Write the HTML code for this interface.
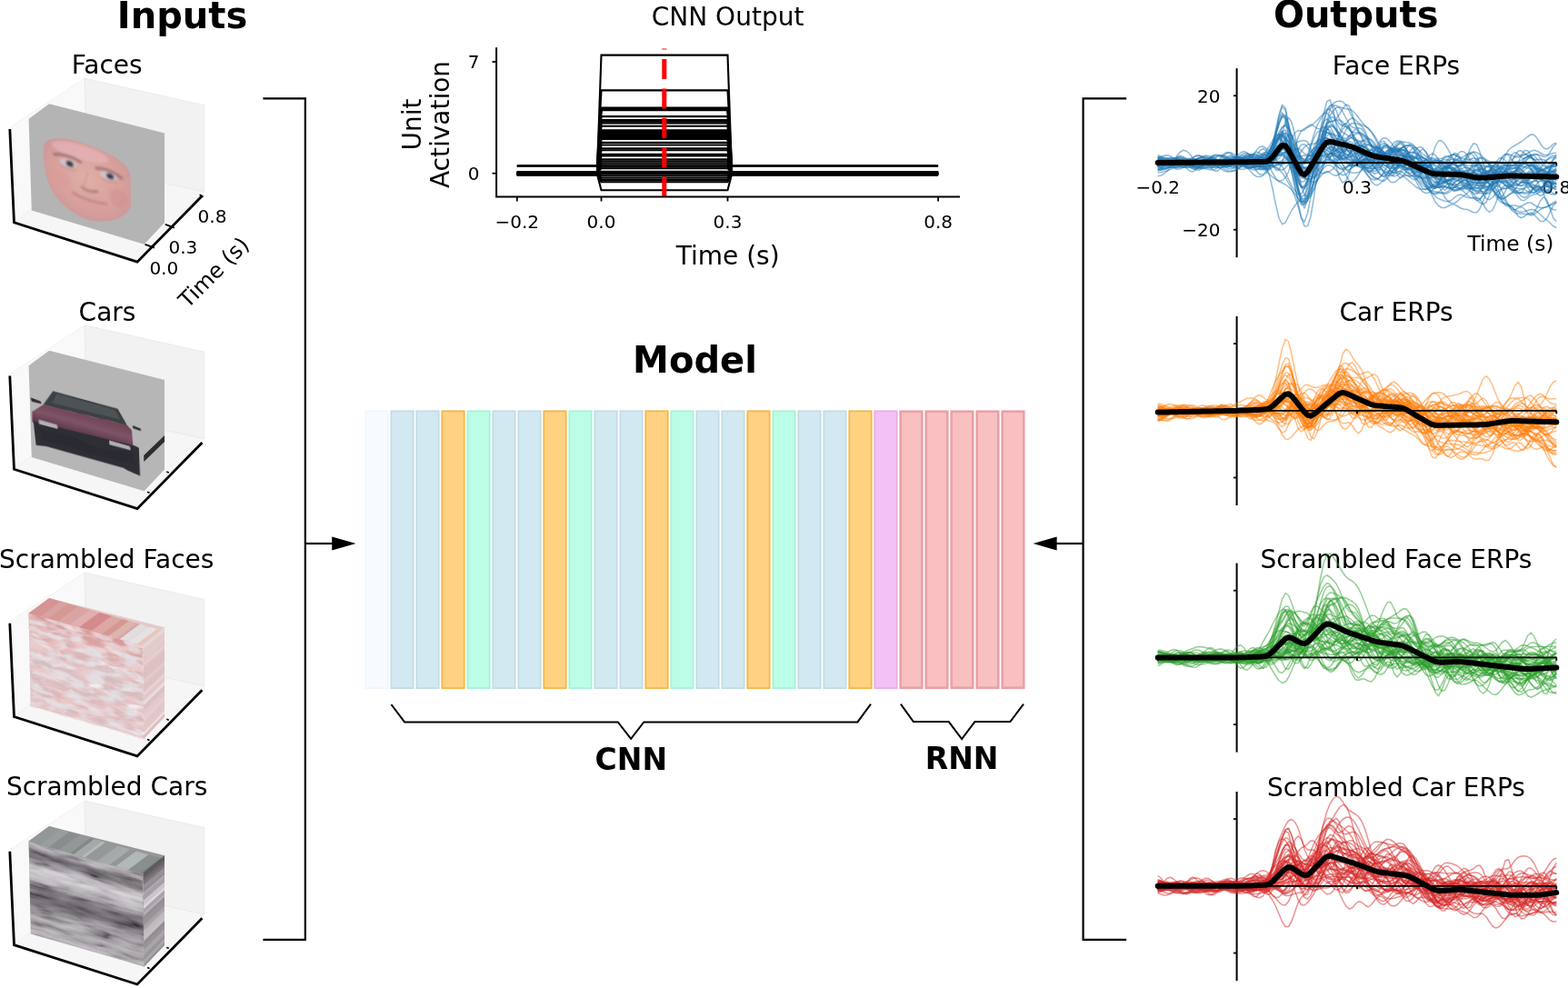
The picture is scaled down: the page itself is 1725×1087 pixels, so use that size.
<!DOCTYPE html>
<html><head><meta charset="utf-8"><title>Figure</title><style>html,body{margin:0;padding:0;background:#fff;}svg{display:block;}</style></head><body>
<svg width="1725" height="1087" viewBox="0 0 1725 1087" font-family='"DejaVu Sans", "Liberation Sans", sans-serif'>
<defs>
<filter id="hblur" x="-2%" y="-2%" width="104%" height="104%"><feGaussianBlur stdDeviation="1.6 0.5"/></filter>
<radialGradient id="skin" cx="0.5" cy="0.45" r="0.55"><stop offset="0" stop-color="#e0afa6"/><stop offset="0.7" stop-color="#d8a09b"/><stop offset="1" stop-color="#cd9a9a"/></radialGradient>
<filter id="sfTex" x="0" y="0" width="100" height="100" filterUnits="userSpaceOnUse" primitiveUnits="userSpaceOnUse"><feTurbulence type="fractalNoise" baseFrequency="0.06 0.14" numOctaves="3" seed="4"/><feColorMatrix type="matrix" values="0 0 0 0 0.94  0 0 0 0 0.9  0 0 0 0 0.92  -3.0 0 0 0 1.5"/></filter>
<filter id="sfTex2" x="0" y="0" width="100" height="100" filterUnits="userSpaceOnUse" primitiveUnits="userSpaceOnUse"><feTurbulence type="fractalNoise" baseFrequency="0.06 0.15" numOctaves="3" seed="9"/><feColorMatrix type="matrix" values="0 0 0 0 0.77  0 0 0 0 0.73  0 0 0 0 0.76  3.2 0 0 0 -1.35"/></filter>
<filter id="sfTex3" x="0" y="0" width="100" height="100" filterUnits="userSpaceOnUse" primitiveUnits="userSpaceOnUse"><feTurbulence type="fractalNoise" baseFrequency="0.05 0.13" numOctaves="3" seed="21"/><feColorMatrix type="matrix" values="0 0 0 0 0.84  0 0 0 0 0.58  0 0 0 0 0.59  3.2 0 0 0 -1.35"/></filter>
<linearGradient id="sfBand" x1="0" y1="0" x2="0" y2="1"><stop offset="0" stop-color="#d69898"/><stop offset="0.15" stop-color="#dca6a6"/><stop offset="0.3" stop-color="#dab6b6"/><stop offset="0.5" stop-color="#d6bec0"/><stop offset="0.7" stop-color="#d8babd"/><stop offset="0.85" stop-color="#dcb6b8"/><stop offset="1" stop-color="#dabec0"/></linearGradient>
<filter id="scTex" x="0" y="0" width="100" height="100" filterUnits="userSpaceOnUse" primitiveUnits="userSpaceOnUse"><feTurbulence type="fractalNoise" baseFrequency="0.04 0.2" numOctaves="3" seed="12"/><feColorMatrix type="matrix" values="1.5 0 0 0 -0.27  1.5 0 0 0 -0.27  1.5 0 0 0 -0.27  0 0 0 0 0.45"/></filter>
<linearGradient id="scBand" x1="0" y1="0" x2="0" y2="1"><stop offset="0" stop-color="#948f95"/><stop offset="0.06" stop-color="#8c878d"/><stop offset="0.1" stop-color="#625d63"/><stop offset="0.16" stop-color="#6a656b"/><stop offset="0.21" stop-color="#969197"/><stop offset="0.27" stop-color="#c2bdc3"/><stop offset="0.33" stop-color="#bab5bb"/><stop offset="0.4" stop-color="#a29da3"/><stop offset="0.47" stop-color="#6a656b"/><stop offset="0.6" stop-color="#585359"/><stop offset="0.68" stop-color="#7a757b"/><stop offset="0.78" stop-color="#908b91"/><stop offset="0.9" stop-color="#9a959b"/><stop offset="1" stop-color="#a29da3"/></linearGradient>
<filter id="soft2" x="-10%" y="-10%" width="120%" height="120%"><feGaussianBlur stdDeviation="0.4"/></filter>
<filter id="soft" x="-10%" y="-10%" width="120%" height="120%"><feGaussianBlur stdDeviation="0.8"/></filter>
</defs>
<rect width="1725" height="1087" fill="#fff"/>
<text x="200.5" y="30.6" font-size="40" text-anchor="middle" font-weight="bold" >Inputs</text>
<text x="1491.7" y="30.4" font-size="40" text-anchor="middle" font-weight="bold" >Outputs</text>
<text x="117.7" y="81.3" font-size="28" text-anchor="middle" >Faces</text>
<polygon points="15.5,244.8 95,183 93.2,86.3 10.8,140" fill="#f9f9f9" stroke="#f3f3f3" stroke-width="1"/>
<polygon points="15.5,244.8 151,288.2 224.7,211 95,183" fill="#f6f6f6" stroke="#f0f0f0" stroke-width="1"/>
<polygon points="95,183 224.7,211 224.7,115.8 93.2,86.3" fill="#f2f2f2" stroke="#ebebeb" stroke-width="1"/>
<text x="118" y="352.6" font-size="28" text-anchor="middle" >Cars</text>
<polygon points="15.5,516.3 95,454.5 93.2,357.8 10.8,411.5" fill="#f9f9f9" stroke="#f3f3f3" stroke-width="1"/>
<polygon points="15.5,516.3 151,559.7 224.7,482.5 95,454.5" fill="#f6f6f6" stroke="#f0f0f0" stroke-width="1"/>
<polygon points="95,454.5 224.7,482.5 224.7,387.3 93.2,357.8" fill="#f2f2f2" stroke="#ebebeb" stroke-width="1"/>
<text x="117.2" y="624.8" font-size="28" text-anchor="middle" >Scrambled Faces</text>
<polygon points="15.5,788.5 95,726.7 93.2,630 10.8,683.7" fill="#f9f9f9" stroke="#f3f3f3" stroke-width="1"/>
<polygon points="15.5,788.5 151,831.9 224.7,754.7 95,726.7" fill="#f6f6f6" stroke="#f0f0f0" stroke-width="1"/>
<polygon points="95,726.7 224.7,754.7 224.7,659.5 93.2,630" fill="#f2f2f2" stroke="#ebebeb" stroke-width="1"/>
<text x="117.6" y="874.8" font-size="28" text-anchor="middle" >Scrambled Cars</text>
<polygon points="15.5,1039.6 95,977.8 93.2,881.1 10.8,934.8" fill="#f9f9f9" stroke="#f3f3f3" stroke-width="1"/>
<polygon points="15.5,1039.6 151,1083 224.7,1005.8 95,977.8" fill="#f6f6f6" stroke="#f0f0f0" stroke-width="1"/>
<polygon points="95,977.8 224.7,1005.8 224.7,910.6 93.2,881.1" fill="#f2f2f2" stroke="#ebebeb" stroke-width="1"/>
<polygon points="31.6,130.8 54.1,114.2 181,146.5 181,245 158.6,268.7 34.8,231.5" fill="#b4b4b4"/>
<g transform="matrix(1.25 0.358 0.022000000000000002 1.02 31.6 130.8)">
<path d="M13,22 C20,10 38,8 55,10 C74,12 88,18 89,30 L89,60 C88,75 70,90 51,91 C36,90 23,81 17,66 C13,55 11,36 13,22 Z" fill="url(#skin)"/>
<g filter="url(#soft)">
<ellipse cx="45" cy="20" rx="25" ry="8" fill="#e6b4b8" opacity="0.7"/>
<ellipse cx="28" cy="55" rx="9" ry="10" fill="#d99a9a" opacity="0.5"/>
<ellipse cx="78" cy="58" rx="8" ry="10" fill="#d0928f" opacity="0.5"/>
<path d="M21,31 Q33,25 46,31" stroke="#946a6c" stroke-width="3.5" fill="none" opacity="0.7"/>
<path d="M58,33 Q70,28 82,36" stroke="#946a6c" stroke-width="3.5" fill="none" opacity="0.7"/>
<ellipse cx="34" cy="36" rx="7.5" ry="4" fill="#cfc3cb"/><ellipse cx="35.5" cy="36" rx="3.4" ry="3.2" fill="#384050"/>
<ellipse cx="69.5" cy="37" rx="7.5" ry="4" fill="#cfc3cb"/><ellipse cx="71" cy="37" rx="3.4" ry="3.2" fill="#384050"/>
<path d="M28,41 Q34,43 41,41" stroke="#b98a90" stroke-width="1.5" fill="none" opacity="0.6"/>
<path d="M63,42 Q70,44 77,42" stroke="#b98a90" stroke-width="1.5" fill="none" opacity="0.6"/>
<path d="M51,40 Q49,50 47,56" stroke="#c99494" stroke-width="2" fill="none" opacity="0.5"/>
<path d="M45,57 Q52,62 60,57" stroke="#a87474" stroke-width="3" fill="none" opacity="0.7"/>
<path d="M37,66 Q50,72 68,68" stroke="#b27c80" stroke-width="3" fill="none" opacity="0.65"/>
<path d="M44,72 Q54,76 64,72" stroke="#d89aa0" stroke-width="3" fill="none" opacity="0.6"/>
</g>
</g>
<polyline points="10.8,142 15.5,244.8 151,288.2 222.4,215.5" fill="none" stroke="#000" stroke-width="2.8" stroke-linejoin="miter"/>
<line x1="159.5" y1="268.8" x2="170.0" y2="272.6" stroke="#000" stroke-width="1.8"/>
<line x1="181.8" y1="246.8" x2="191.8" y2="250.6" stroke="#000" stroke-width="1.8"/>
<line x1="219.6" y1="214.2" x2="223.6" y2="216.6" stroke="#000" stroke-width="1.8"/>
<text x="180.3" y="301.7" font-size="20" text-anchor="middle" >0.0</text>
<text x="201.4" y="279.2" font-size="20" text-anchor="middle" >0.3</text>
<text x="233.5" y="244.5" font-size="20" text-anchor="middle" >0.8</text>
<text x="0" y="0" font-size="24" text-anchor="middle" transform="translate(241 305.5) rotate(-45)">Time (s)</text>
<polygon points="31.6,402.3 54.1,385.7 181,418 181,516.5 158.6,540.2 34.8,503" fill="#b6b6b6"/>
<polygon points="158.2,500.9 181,479.1 181,486 158.3,508.1" fill="#2e2c30"/>
<g transform="matrix(1.25 0.358 0.022000000000000002 1.02 31.6 402.3)">
<defs><linearGradient id="hood" x1="0" y1="0" x2="0" y2="1"><stop offset="0" stop-color="#6e4254"/><stop offset="0.5" stop-color="#7e5466"/><stop offset="1" stop-color="#563444"/></linearGradient></defs>
<g filter="url(#soft2)">
<polygon points="2,49 12,38 86,34 90,38 91,56 2,60" fill="url(#hood)"/>
<polygon points="21,20 78,19 86,34 12,38" fill="#3c4044"/>
<polygon points="24,22 75,21 80,30 20,33" fill="#52575a" opacity="0.8"/>
<polygon points="3,59 92,54 96,55 96.5,85 86,83 82,81.5 14,82 5,84" fill="#2f2e34"/>
<polygon points="8,65 40,64 60,68 90,62 92,74 60,76 10,76" fill="#2c2b30" opacity="0.8"/>
<polygon points="1,34 10,35 10.5,37.5 2,38" fill="#2a2a2e"/><polygon points="91,32.5 98,33.5 98,36 91,35.5" fill="#2a2a2e"/>
<polygon points="8,55.5 24,55.5 24.5,59.5 8,60" fill="#b3b0b6"/><polygon points="70,56 88,56 88.5,60 70,60.5" fill="#b3b0b6"/>
</g>
</g>
<polyline points="10.8,413.5 15.5,516.3 151,559.7 222.4,487" fill="none" stroke="#000" stroke-width="2.8" stroke-linejoin="miter"/>
<line x1="162.0" y1="541.3" x2="164.6" y2="542.1999999999999" stroke="#000" stroke-width="1.6"/>
<line x1="183.2" y1="519.1" x2="185.79999999999998" y2="520.0" stroke="#000" stroke-width="1.6"/>
<polygon points="31.6,674.5 54.1,657.9 181,690.2 181,788.7 158.6,812.4 34.8,775.2" fill="#e6c9c9"/>
<g transform="matrix(1.25 0.358 0.022000000000000002 1.02 31.6 674.5)">
<rect x="0" y="0" width="100" height="100" fill="url(#sfBand)"/>
<rect x="0" y="0" width="100" height="100" filter="url(#sfTex)"/>
</g>
<g transform="matrix(1.25 0.358 0.022000000000000002 1.02 31.6 674.5)"><rect x="0" y="0" width="100" height="100" filter="url(#sfTex3)"/><rect x="0" y="0" width="100" height="100" filter="url(#sfTex2)"/></g>
<g transform="matrix(1.25 0.358 0.225 -0.1660000000000001 31.6 674.5)">
<rect x="0" y="0" width="10.7" height="100" fill="#d69494"/>
<rect x="10.2" y="0" width="7" height="100" fill="#d8a1a2"/>
<rect x="16.7" y="0" width="9.4" height="100" fill="#d49992"/>
<rect x="25.6" y="0" width="11.1" height="100" fill="#daa4a3"/>
<rect x="36.2" y="0" width="8.5" height="100" fill="#e0afb0"/>
<rect x="44.2" y="0" width="11.3" height="100" fill="#d58a8b"/>
<rect x="55" y="0" width="9.9" height="100" fill="#dda7a3"/>
<rect x="64.4" y="0" width="6.4" height="100" fill="#d49791"/>
<rect x="70.3" y="0" width="7.5" height="100" fill="#dbb4ae"/>
<rect x="77.3" y="0" width="8.1" height="100" fill="#d8a7a5"/>
<rect x="84.9" y="0" width="4.3" height="100" fill="#da9192"/>
<rect x="88.7" y="0" width="11.3" height="100" fill="#e6c6bf"/>
<rect x="80" y="0" width="15" height="100" fill="#e4e6ea" opacity="0.85"/>
</g>
<polygon points="157.6,709 181,690.2 181,695.3 157.7,714.3" fill="#e8d5d7"/>
<polygon points="157.6,713.9 181,694.9 181,698.1 157.7,717.3" fill="#e3ccce"/>
<polygon points="157.7,716.9 181,697.7 181,700.5 157.7,719.8" fill="#e2c9cb"/>
<polygon points="157.7,719.4 181,700.1 181,705 157.7,724.5" fill="#e3ccce"/>
<polygon points="157.7,724.1 181,704.6 181,710.1 157.8,729.9" fill="#e2c9cb"/>
<polygon points="157.8,729.5 181,709.7 181,713.6 157.8,733.6" fill="#e5cfd1"/>
<polygon points="157.8,733.1 181,713.2 181,717.1 157.9,737.2" fill="#dfc4c6"/>
<polygon points="157.9,736.8 181,716.7 181,721.4 157.9,741.8" fill="#ddc0c2"/>
<polygon points="157.9,741.4 181,721.1 181,727.3 158,748" fill="#ddc0c2"/>
<polygon points="158,747.6 181,726.9 181,732.5 158,753.4" fill="#e2c9cb"/>
<polygon points="158,753 181,732.1 181,737.3 158.1,758.4" fill="#dec1c3"/>
<polygon points="158.1,758 181,736.9 181,740.8 158.1,762.1" fill="#dec2c4"/>
<polygon points="158.1,761.7 181,740.4 181,744.7 158.2,766.2" fill="#e7d3d5"/>
<polygon points="158.1,765.8 181,744.3 181,747.9 158.2,769.6" fill="#e2c9cb"/>
<polygon points="158.2,769.1 181,747.5 181,749.9 158.2,771.6" fill="#e1c8ca"/>
<polygon points="158.2,771.2 181,749.5 181,754.3 158.3,776.3" fill="#eadadc"/>
<polygon points="158.2,775.9 181,753.9 181,759.9 158.3,782.2" fill="#ddc0c2"/>
<polygon points="158.3,781.8 181,759.5 181,765.8 158.4,788.4" fill="#e2cacc"/>
<polygon points="158.4,787.9 181,765.4 181,771 158.4,793.8" fill="#e5cfd1"/>
<polygon points="158.4,793.4 181,770.6 181,774.6 158.5,797.6" fill="#e1c8ca"/>
<polygon points="158.5,797.2 181,774.2 181,779.9 158.5,803.2" fill="#e1c7c9"/>
<polygon points="158.5,802.8 181,779.5 181,782.4 158.5,805.8" fill="#e2c9cb"/>
<polygon points="158.5,805.4 181,782.1 181,785.4 158.6,809" fill="#ede0e2"/>
<polygon points="158.6,808.6 181,785 181,788.7 158.6,812.4" fill="#dcbdbf"/>
<polyline points="10.8,685.7 15.5,788.5 151,831.9 222.4,759.2" fill="none" stroke="#000" stroke-width="2.8" stroke-linejoin="miter"/>
<line x1="162.0" y1="813.5" x2="164.6" y2="814.4" stroke="#000" stroke-width="1.6"/>
<line x1="183.2" y1="791.3000000000001" x2="185.79999999999998" y2="792.2" stroke="#000" stroke-width="1.6"/>
<polygon points="31.6,925.6 54.1,909 181,941.3 181,1039.8 158.6,1063.5 34.8,1026.3" fill="#9a9698"/>
<g transform="matrix(1.25 0.358 0.022000000000000002 1.02 31.6 925.5999999999999)">
<rect x="0" y="0" width="100" height="100" fill="url(#scBand)"/>
<rect x="0" y="0" width="100" height="100" filter="url(#scTex)" style="mix-blend-mode:overlay"/>
</g>
<g transform="matrix(1.25 0.358 0.225 -0.1660000000000001 31.6 925.5999999999999)">
<rect x="0" y="0" width="10.5" height="100" fill="#929797"/>
<rect x="10" y="0" width="8.3" height="100" fill="#989d9d"/>
<rect x="17.8" y="0" width="9.2" height="100" fill="#888d8d"/>
<rect x="26.5" y="0" width="10.4" height="100" fill="#929797"/>
<rect x="36.4" y="0" width="3.7" height="100" fill="#828787"/>
<rect x="39.6" y="0" width="7.4" height="100" fill="#a4a9a9"/>
<rect x="46.5" y="0" width="3.5" height="100" fill="#b4b9b9"/>
<rect x="49.5" y="0" width="11.4" height="100" fill="#939898"/>
<rect x="60.4" y="0" width="6" height="100" fill="#a3a8a8"/>
<rect x="65.9" y="0" width="5.9" height="100" fill="#a6abab"/>
<rect x="71.3" y="0" width="5.7" height="100" fill="#919696"/>
<rect x="76.6" y="0" width="11.4" height="100" fill="#b2b7b7"/>
<rect x="87.5" y="0" width="10.6" height="100" fill="#898e8e"/>
<rect x="97.5" y="0" width="2.5" height="100" fill="#818686"/>
</g>
<polygon points="157.6,960.1 181,941.3 181,947.3 157.7,966.4" fill="#5f5a5f"/>
<polygon points="157.7,966 181,946.9 181,950.7 157.7,970" fill="#6c676c"/>
<polygon points="157.7,969.6 181,950.3 181,954.6 157.7,974" fill="#7a757a"/>
<polygon points="157.7,973.6 181,954.2 181,957.3 157.8,976.9" fill="#938e93"/>
<polygon points="157.8,976.5 181,956.9 181,959.8 157.8,979.5" fill="#989398"/>
<polygon points="157.8,979.1 181,959.4 181,962.3 157.8,982.1" fill="#908b90"/>
<polygon points="157.8,981.7 181,961.9 181,965.7 157.8,985.8" fill="#ada8ad"/>
<polygon points="157.8,985.3 181,965.3 181,970.8 157.9,991.1" fill="#a5a0a5"/>
<polygon points="157.9,990.6 181,970.4 181,976.4 158,997" fill="#cac5ca"/>
<polygon points="158,996.6 181,976 181,979.7 158,1000.4" fill="#ddd8dd"/>
<polygon points="158,1000 181,979.3 181,984 158,1004.9" fill="#a8a3a8"/>
<polygon points="158,1004.5 181,983.6 181,987 158.1,1008.1" fill="#b6b1b6"/>
<polygon points="158.1,1007.7 181,986.6 181,992 158.1,1013.3" fill="#959095"/>
<polygon points="158.1,1012.9 181,991.6 181,997.1 158.2,1018.7" fill="#999499"/>
<polygon points="158.2,1018.3 181,996.7 181,1001.9 158.2,1023.8" fill="#a9a4a9"/>
<polygon points="158.2,1023.3 181,1001.5 181,1003.9 158.2,1025.9" fill="#bcb7bc"/>
<polygon points="158.2,1025.4 181,1003.5 181,1009 158.3,1031.2" fill="#c1bcc1"/>
<polygon points="158.3,1030.7 181,1008.6 181,1013.4 158.3,1035.8" fill="#c5c0c5"/>
<polygon points="158.3,1035.4 181,1013 181,1017.9 158.4,1040.5" fill="#938e93"/>
<polygon points="158.4,1040.1 181,1017.5 181,1022.7 158.4,1045.5" fill="#999499"/>
<polygon points="158.4,1045.1 181,1022.3 181,1026.1 158.5,1049.1" fill="#aaa5aa"/>
<polygon points="158.5,1048.7 181,1025.7 181,1028.6 158.5,1051.7" fill="#aaa5aa"/>
<polygon points="158.5,1051.3 181,1028.2 181,1032.9 158.5,1056.3" fill="#999499"/>
<polygon points="158.5,1055.9 181,1032.5 181,1037.3 158.6,1060.9" fill="#aaa5aa"/>
<polygon points="158.6,1060.5 181,1036.9 181,1039.8 158.6,1063.5" fill="#959095"/>
<polyline points="10.8,936.8 15.5,1039.6 151,1083 222.4,1010.3" fill="none" stroke="#000" stroke-width="2.8" stroke-linejoin="miter"/>
<line x1="162.0" y1="1064.6" x2="164.6" y2="1065.5" stroke="#000" stroke-width="1.6"/>
<line x1="183.2" y1="1042.3999999999999" x2="185.79999999999998" y2="1043.3" stroke="#000" stroke-width="1.6"/>
<polyline points="289.4,108.4 335.8,108.4 335.8,1033.8 289.4,1033.8" fill="none" stroke="#000" stroke-width="2.2"/>
<line x1="335.8" y1="598" x2="366" y2="598" stroke="#000" stroke-width="2.2"/>
<polygon points="365.2,590.5 391.5,598 365.2,605.5" fill="#000"/>
<polyline points="1239.2,108.4 1191.6,108.4 1191.6,1033.8 1239.2,1033.8" fill="none" stroke="#000" stroke-width="2.2"/>
<line x1="1191.6" y1="598" x2="1162" y2="598" stroke="#000" stroke-width="2.2"/>
<polygon points="1162.6,590.5 1136.6,598 1162.6,605.5" fill="#000"/>
<text x="764.5" y="410.3" font-size="40" text-anchor="middle" font-weight="bold" >Model</text>
<rect x="402.30" y="452.30" width="24.40" height="304.80" fill="#f7fafe" stroke="#f1f6fd" stroke-width="1.8"/>
<rect x="430.30" y="452.30" width="24.40" height="304.80" fill="#d3e9f1" stroke="#c3dce5" stroke-width="1.8"/>
<rect x="458.30" y="452.30" width="24.40" height="304.80" fill="#d3e9f1" stroke="#c3dce5" stroke-width="1.8"/>
<rect x="486.30" y="452.30" width="24.40" height="304.80" fill="#fed281" stroke="#f5b74a" stroke-width="1.8"/>
<rect x="514.30" y="452.30" width="24.40" height="304.80" fill="#bbfde6" stroke="#a9f2d8" stroke-width="1.8"/>
<rect x="542.30" y="452.30" width="24.40" height="304.80" fill="#d3e9f1" stroke="#c3dce5" stroke-width="1.8"/>
<rect x="570.30" y="452.30" width="24.40" height="304.80" fill="#d3e9f1" stroke="#c3dce5" stroke-width="1.8"/>
<rect x="598.30" y="452.30" width="24.40" height="304.80" fill="#fed281" stroke="#f5b74a" stroke-width="1.8"/>
<rect x="626.30" y="452.30" width="24.40" height="304.80" fill="#bbfde6" stroke="#a9f2d8" stroke-width="1.8"/>
<rect x="654.30" y="452.30" width="24.40" height="304.80" fill="#d3e9f1" stroke="#c3dce5" stroke-width="1.8"/>
<rect x="682.30" y="452.30" width="24.40" height="304.80" fill="#d3e9f1" stroke="#c3dce5" stroke-width="1.8"/>
<rect x="710.30" y="452.30" width="24.40" height="304.80" fill="#fed281" stroke="#f5b74a" stroke-width="1.8"/>
<rect x="738.30" y="452.30" width="24.40" height="304.80" fill="#bbfde6" stroke="#a9f2d8" stroke-width="1.8"/>
<rect x="766.30" y="452.30" width="24.40" height="304.80" fill="#d3e9f1" stroke="#c3dce5" stroke-width="1.8"/>
<rect x="794.30" y="452.30" width="24.40" height="304.80" fill="#d3e9f1" stroke="#c3dce5" stroke-width="1.8"/>
<rect x="822.30" y="452.30" width="24.40" height="304.80" fill="#fed281" stroke="#f5b74a" stroke-width="1.8"/>
<rect x="850.30" y="452.30" width="24.40" height="304.80" fill="#bbfde6" stroke="#a9f2d8" stroke-width="1.8"/>
<rect x="878.30" y="452.30" width="24.40" height="304.80" fill="#d3e9f1" stroke="#c3dce5" stroke-width="1.8"/>
<rect x="906.30" y="452.30" width="24.40" height="304.80" fill="#d3e9f1" stroke="#c3dce5" stroke-width="1.8"/>
<rect x="934.30" y="452.30" width="24.40" height="304.80" fill="#fed281" stroke="#f5b74a" stroke-width="1.8"/>
<rect x="962.30" y="452.30" width="24.40" height="304.80" fill="#f3c1f6" stroke="#e8aee8" stroke-width="1.8"/>
<rect x="990.70" y="452.70" width="23.60" height="304.00" fill="#f8c0c0" stroke="#e9a0a7" stroke-width="2.6"/>
<rect x="1018.70" y="452.70" width="23.60" height="304.00" fill="#f8c0c0" stroke="#e9a0a7" stroke-width="2.6"/>
<rect x="1046.70" y="452.70" width="23.60" height="304.00" fill="#f8c0c0" stroke="#e9a0a7" stroke-width="2.6"/>
<rect x="1074.70" y="452.70" width="23.60" height="304.00" fill="#f8c0c0" stroke="#e9a0a7" stroke-width="2.6"/>
<rect x="1102.70" y="452.70" width="23.60" height="304.00" fill="#f8c0c0" stroke="#e9a0a7" stroke-width="2.6"/>
<polyline points="430.4,775 445.1,794.4 679.8,794.4 694.1,812.9 708.3,794.4 943.4,794.4 958,774.6" fill="none" stroke="#000" stroke-width="2"/>
<polyline points="990.9,774.6 1004.9,794.1 1043.8,794.1 1058.1,813 1072.4,794.1 1111.4,794.1 1126,774.6" fill="none" stroke="#000" stroke-width="2"/>
<text x="694.3" y="847.4" font-size="33" text-anchor="middle" font-weight="bold" >CNN</text>
<text x="1058.1" y="846.4" font-size="33" text-anchor="middle" font-weight="bold" >RNN</text>
<text x="800.6" y="28.4" font-size="28" text-anchor="middle" >CNN Output</text>
<polyline points="568.8,189.3 656.9,189.3 661.5,60.6 800.5,60.6 805.1,189.3 1032.1,189.3" fill="none" stroke="#000" stroke-width="2.1"/>
<polyline points="568.8,182.5 656.9,182.5 661.5,99.4 800.5,99.4 805.1,182.5 1032.1,182.5" fill="none" stroke="#000" stroke-width="2.1"/>
<polyline points="568.8,192.1 656.9,192.1 661.5,118.5 800.5,118.5 805.1,192.1 1032.1,192.1" fill="none" stroke="#000" stroke-width="2.1"/>
<polyline points="568.8,192.1 656.9,192.1 661.5,119.4 800.5,119.4 805.1,192.1 1032.1,192.1" fill="none" stroke="#000" stroke-width="2.1"/>
<polyline points="568.8,191.4 656.9,191.4 661.5,120.2 800.5,120.2 805.1,191.4 1032.1,191.4" fill="none" stroke="#000" stroke-width="2.1"/>
<polyline points="568.8,182.5 656.9,182.5 661.5,121.1 800.5,121.1 805.1,182.5 1032.1,182.5" fill="none" stroke="#000" stroke-width="2.1"/>
<polyline points="568.8,192.1 656.9,192.1 661.5,128.1 800.5,128.1 805.1,192.1 1032.1,192.1" fill="none" stroke="#000" stroke-width="2.1"/>
<polyline points="568.8,189.3 656.9,189.3 661.5,132.1 800.5,132.1 805.1,189.3 1032.1,189.3" fill="none" stroke="#000" stroke-width="2.1"/>
<polyline points="568.8,189.3 656.9,189.3 661.5,133.7 800.5,133.7 805.1,189.3 1032.1,189.3" fill="none" stroke="#000" stroke-width="2.1"/>
<polyline points="568.8,182.5 656.9,182.5 661.5,135.5 800.5,135.5 805.1,182.5 1032.1,182.5" fill="none" stroke="#000" stroke-width="2.1"/>
<polyline points="568.8,190.7 656.9,190.7 661.5,138.8 800.5,138.8 805.1,190.7 1032.1,190.7" fill="none" stroke="#000" stroke-width="2.1"/>
<polyline points="568.8,192.1 656.9,192.1 661.5,143.4 800.5,143.4 805.1,192.1 1032.1,192.1" fill="none" stroke="#000" stroke-width="2.1"/>
<polyline points="568.8,192.1 656.9,192.1 661.5,145.1 800.5,145.1 805.1,192.1 1032.1,192.1" fill="none" stroke="#000" stroke-width="2.1"/>
<polyline points="568.8,191.4 656.9,191.4 661.5,146.9 800.5,146.9 805.1,191.4 1032.1,191.4" fill="none" stroke="#000" stroke-width="2.1"/>
<polyline points="568.8,190.7 656.9,190.7 661.5,148.3 800.5,148.3 805.1,190.7 1032.1,190.7" fill="none" stroke="#000" stroke-width="2.1"/>
<polyline points="568.8,190 656.9,190 661.5,149.9 800.5,149.9 805.1,190 1032.1,190" fill="none" stroke="#000" stroke-width="2.1"/>
<polyline points="568.8,190.7 656.9,190.7 661.5,151.4 800.5,151.4 805.1,190.7 1032.1,190.7" fill="none" stroke="#000" stroke-width="2.1"/>
<polyline points="568.8,191.4 656.9,191.4 661.5,153 800.5,153 805.1,191.4 1032.1,191.4" fill="none" stroke="#000" stroke-width="2.1"/>
<polyline points="568.8,192.1 656.9,192.1 661.5,156.9 800.5,156.9 805.1,192.1 1032.1,192.1" fill="none" stroke="#000" stroke-width="2.1"/>
<polyline points="568.8,190 656.9,190 661.5,159.5 800.5,159.5 805.1,190 1032.1,190" fill="none" stroke="#000" stroke-width="2.1"/>
<polyline points="568.8,190 656.9,190 661.5,163.2 800.5,163.2 805.1,190 1032.1,190" fill="none" stroke="#000" stroke-width="2.1"/>
<polyline points="568.8,192.1 656.9,192.1 661.5,165.3 800.5,165.3 805.1,192.1 1032.1,192.1" fill="none" stroke="#000" stroke-width="2.1"/>
<polyline points="568.8,192.1 656.9,192.1 661.5,169.7 800.5,169.7 805.1,192.1 1032.1,192.1" fill="none" stroke="#000" stroke-width="2.1"/>
<polyline points="568.8,190.7 656.9,190.7 661.5,171.4 800.5,171.4 805.1,190.7 1032.1,190.7" fill="none" stroke="#000" stroke-width="2.1"/>
<polyline points="568.8,191.4 656.9,191.4 661.5,175.3 800.5,175.3 805.1,191.4 1032.1,191.4" fill="none" stroke="#000" stroke-width="2.1"/>
<polyline points="568.8,189.3 656.9,189.3 661.5,177.4 800.5,177.4 805.1,189.3 1032.1,189.3" fill="none" stroke="#000" stroke-width="2.1"/>
<polyline points="568.8,190.7 656.9,190.7 661.5,179.5 800.5,179.5 805.1,190.7 1032.1,190.7" fill="none" stroke="#000" stroke-width="2.1"/>
<polyline points="568.8,190.7 656.9,190.7 661.5,181.6 800.5,181.6 805.1,190.7 1032.1,190.7" fill="none" stroke="#000" stroke-width="2.1"/>
<polyline points="568.8,190.7 656.9,190.7 661.5,183.5 800.5,183.5 805.1,190.7 1032.1,190.7" fill="none" stroke="#000" stroke-width="2.1"/>
<polyline points="568.8,190 656.9,190 661.5,185.3 800.5,185.3 805.1,190 1032.1,190" fill="none" stroke="#000" stroke-width="2.1"/>
<polyline points="568.8,190.7 656.9,190.7 661.5,188.9 800.5,188.9 805.1,190.7 1032.1,190.7" fill="none" stroke="#000" stroke-width="2.1"/>
<polyline points="568.8,192.1 656.9,192.1 661.5,191.1 800.5,191.1 805.1,192.1 1032.1,192.1" fill="none" stroke="#000" stroke-width="2.1"/>
<polyline points="568.8,190 656.9,190 661.5,193.3 800.5,193.3 805.1,190 1032.1,190" fill="none" stroke="#000" stroke-width="2.1"/>
<polyline points="568.8,190 656.9,190 661.5,195.6 800.5,195.6 805.1,190 1032.1,190" fill="none" stroke="#000" stroke-width="2.1"/>
<polyline points="568.8,189.3 656.9,189.3 661.5,198.1 800.5,198.1 805.1,189.3 1032.1,189.3" fill="none" stroke="#000" stroke-width="2.1"/>
<polyline points="568.8,190 656.9,190 661.5,200.3 800.5,200.3 805.1,190 1032.1,190" fill="none" stroke="#000" stroke-width="2.1"/>
<polyline points="568.8,191.4 656.9,191.4 661.5,209.3 800.5,209.3 805.1,191.4 1032.1,191.4" fill="none" stroke="#000" stroke-width="2.1"/>
<line x1="730.8" y1="216.6" x2="730.8" y2="53.4" stroke="#f00" stroke-width="5" stroke-dasharray="22 10.4"/>
<polyline points="546.1,52.2 546.1,216.6 1056,216.6" fill="none" stroke="#000" stroke-width="2"/>
<line x1="568.8" y1="216.6" x2="568.8" y2="221.5" stroke="#000" stroke-width="1.8"/>
<text x="568.8" y="250.6" font-size="20" text-anchor="middle" >−0.2</text>
<line x1="661.5" y1="216.6" x2="661.5" y2="221.5" stroke="#000" stroke-width="1.8"/>
<text x="661.5" y="250.6" font-size="20" text-anchor="middle" >0.0</text>
<line x1="800.5" y1="216.6" x2="800.5" y2="221.5" stroke="#000" stroke-width="1.8"/>
<text x="800.5" y="250.6" font-size="20" text-anchor="middle" >0.3</text>
<line x1="1032.1" y1="216.6" x2="1032.1" y2="221.5" stroke="#000" stroke-width="1.8"/>
<text x="1032.1" y="250.6" font-size="20" text-anchor="middle" >0.8</text>
<line x1="541.5" y1="68" x2="546.1" y2="68" stroke="#000" stroke-width="1.8"/>
<text x="527.5" y="75.3" font-size="20" text-anchor="end" >7</text>
<line x1="541.5" y1="190.7" x2="546.1" y2="190.7" stroke="#000" stroke-width="1.8"/>
<text x="527.5" y="198" font-size="20" text-anchor="end" >0</text>
<text x="800.7" y="291.3" font-size="28" text-anchor="middle" >Time (s)</text>
<text font-size="28" text-anchor="middle" transform="translate(463 137) rotate(-90)">Unit</text>
<text font-size="28" text-anchor="middle" transform="translate(493.5 137) rotate(-90)">Activation</text>
<text x="1536" y="81.5" font-size="28" text-anchor="middle" >Face ERPs</text>
<line x1="1360.6" y1="75.2" x2="1360.6" y2="283.2" stroke="#000" stroke-width="2"/>
<line x1="1357" y1="105.3" x2="1360.6" y2="105.3" stroke="#000" stroke-width="1.8"/>
<line x1="1357" y1="252.7" x2="1360.6" y2="252.7" stroke="#000" stroke-width="1.8"/>
<text x="1342.5" y="112.6" font-size="20" text-anchor="end" >20</text>
<text x="1342.5" y="260" font-size="20" text-anchor="end" >−20</text>
<text x="1273.7" y="213" font-size="20" text-anchor="middle" >−0.2</text>
<text x="1493" y="213" font-size="20" text-anchor="middle" >0.3</text>
<text x="1712.3" y="213" font-size="20" text-anchor="middle" >0.8</text>
<text x="1709.5" y="275.6" font-size="23.4" text-anchor="end" >Time (s)</text>
<g fill="none" stroke="#1f77b4" stroke-width="1.5" stroke-opacity="0.5" stroke-linejoin="round" transform="matrix(3.5088 0 0 0.25 1273.68 0)">
<path d="M0,707l1,4 1,5 1,3 1,-5 1,-7 1,-2 1,3 1,6 1,5 1,2 1,-1 1,-2 1,-1 1,-1 1,0 1,0 1,0 1,3 1,3 1,3 1,3 1,3 1,2 1,-1 1,-2 1,0 1,2 1,5 1,6 1,5 1,-1 1,-7 1,-11 1,-13 1,-10 1,-8 1,-7 1,-8 1,-4 1,7 1,23 1,43 1,64 1,76 1,66 1,19 1,-41 1,-71 1,-72 1,-56 1,-36 1,-16 1,-4 1,-3 1,-9 1,-11 1,-3 1,5 1,12 1,16 1,14 1,6 1,-7 1,-13 1,-8 1,5 1,10 1,7 1,-1 1,-2 1,-4 1,-8 1,-13 1,-12 1,-9 1,-1 1,7 1,13 1,14 1,10 1,3 1,-4 1,-2 1,6 1,17 1,24 1,19 1,11 1,8 1,13 1,19 1,19 1,9 1,-3 1,-8 1,-1 1,6 1,10 1,9 1,2 1,-9 1,-17 1,-20 1,-15 1,-9 1,-3 1,-2 1,5 1,14 1,21 1,17 1,7 1,-2 1,-7 1,-7 1,-4 1,1 1,4 1,2 1,-2 1,-2 1,-2 1,-7 1,-13 1,-10" vector-effect="non-scaling-stroke"/>
<path d="M0,722l1,0 1,-1 1,-1 1,-4 1,-6 1,-7 1,-4 1,3 1,8 1,8 1,5 1,0 1,-4 1,-3 1,-2 1,0 1,2 1,1 1,-1 1,-4 1,-5 1,-3 1,1 1,3 1,3 1,2 1,0 1,-2 1,-3 1,-6 1,-4 1,2 1,10 1,12 1,6 1,-1 1,-2 1,0 1,-1 1,-4 1,-4 1,-1 1,2 1,5 1,2 1,-10 1,-23 1,-23 1,-17 1,-12 1,-11 1,-12 1,-7 1,3 1,12 1,15 1,12 1,5 1,-3 1,-4 1,1 1,5 1,8 1,10 1,11 1,14 1,11 1,8 1,4 1,3 1,2 1,0 1,-7 1,-12 1,-8 1,0 1,6 1,10 1,8 1,5 1,1 1,-2 1,-2 1,2 1,7 1,11 1,9 1,3 1,-2 1,1 1,9 1,16 1,13 1,1 1,-10 1,-13 1,-8 1,-2 1,1 1,1 1,4 1,5 1,4 1,-1 1,-1 1,3 1,10 1,15 1,14 1,6 1,-2 1,-5 1,-6 1,-7 1,-8 1,-7 1,-3 1,0 1,3 1,1 1,-5 1,-14 1,-19 1,-16 1,-5" vector-effect="non-scaling-stroke"/>
<path d="M0,717l1,0 1,-2 1,-1 1,2 1,4 1,6 1,6 1,1 1,-5 1,-7 1,-5 1,1 1,7 1,6 1,1 1,-4 1,-4 1,-4 1,-3 1,-3 1,-2 1,-2 1,-2 1,-1 1,1 1,1 1,-2 1,-6 1,-6 1,0 1,7 1,7 1,-1 1,-11 1,-26 1,-40 1,-43 1,-41 1,-33 1,-2 1,38 1,53 1,51 1,38 1,19 1,-1 1,-15 1,-12 1,-11 1,-20 1,-35 1,-43 1,-30 1,-10 1,-1 1,-4 1,0 1,8 1,18 1,19 1,10 1,0 1,-1 1,4 1,13 1,20 1,22 1,16 1,10 1,8 1,10 1,11 1,7 1,-2 1,-8 1,-6 1,0 1,7 1,10 1,14 1,15 1,13 1,4 1,-8 1,-15 1,-15 1,-8 1,-1 1,7 1,19 1,24 1,18 1,5 1,-7 1,-9 1,-3 1,4 1,5 1,-2 1,-10 1,-8 1,-1 1,8 1,6 1,-4 1,-17 1,-24 1,-21 1,-13 1,-2 1,6 1,7 1,1 1,-6 1,-7 1,2 1,9 1,12 1,10 1,9 1,9 1,9 1,9 1,9 1,7" vector-effect="non-scaling-stroke"/>
<path d="M0,692l1,5 1,9 1,11 1,7 1,1 1,0 1,0 1,1 1,2 1,-1 1,-4 1,-4 1,0 1,0 1,-5 1,-8 1,-6 1,2 1,9 1,11 1,11 1,9 1,2 1,-7 1,-12 1,-11 1,-5 1,0 1,0 1,-3 1,-5 1,-6 1,-8 1,-12 1,-16 1,-23 1,-27 1,-28 1,-21 1,-6 1,12 1,32 1,49 1,55 1,47 1,28 1,11 1,-1 1,-6 1,-9 1,-14 1,-17 1,-14 1,-1 1,10 1,15 1,13 1,7 1,-3 1,-15 1,-24 1,-27 1,-19 1,-4 1,12 1,18 1,14 1,13 1,18 1,19 1,5 1,-14 1,-23 1,-15 1,-3 1,6 1,8 1,4 1,1 1,-2 1,-3 1,-7 1,-10 1,-13 1,-8 1,1 1,5 1,4 1,-3 1,-5 1,2 1,12 1,12 1,4 1,-5 1,-8 1,-5 1,0 1,6 1,11 1,12 1,2 1,-7 1,-7 1,0 1,5 1,10 1,14 1,13 1,5 1,-3 1,-13 1,-19 1,-16 1,-6 1,4 1,5 1,3 1,4 1,13 1,13 1,0 1,-18 1,-23 1,-11" vector-effect="non-scaling-stroke"/>
<path d="M0,702l1,1 1,4 1,6 1,5 1,2 1,-2 1,-3 1,-2 1,1 1,3 1,2 1,3 1,0 1,-3 1,-4 1,-3 1,2 1,5 1,1 1,-2 1,-4 1,-4 1,-5 1,-7 1,-3 1,2 1,7 1,8 1,4 1,-1 1,-4 1,-3 1,-3 1,-2 1,-6 1,-12 1,-15 1,-14 1,-8 1,7 1,31 1,50 1,58 1,54 1,37 1,7 1,-29 1,-58 1,-76 1,-81 1,-69 1,-43 1,-13 1,13 1,22 1,20 1,20 1,21 1,25 1,26 1,22 1,16 1,9 1,4 1,2 1,1 1,-1 1,-5 1,-9 1,-11 1,-14 1,-11 1,-4 1,-1 1,-4 1,-9 1,-10 1,-5 1,2 1,11 1,15 1,19 1,21 1,22 1,15 1,3 1,-5 1,-4 1,4 1,9 1,8 1,6 1,4 1,4 1,3 1,-1 1,-3 1,-1 1,1 1,0 1,-4 1,-5 1,-1 1,3 1,1 1,-1 1,-1 1,2 1,4 1,5 1,6 1,2 1,-6 1,-13 1,-16 1,-13 1,-9 1,-3 1,6 1,11 1,11 1,9 1,3 1,1 1,0" vector-effect="non-scaling-stroke"/>
<path d="M0,723l1,-2 1,-6 1,-5 1,-3 1,1 1,3 1,3 1,1 1,-2 1,-2 1,1 1,4 1,5 1,1 1,-2 1,-5 1,-3 1,-1 1,2 1,3 1,4 1,5 1,2 1,-1 1,-3 1,-2 1,3 1,4 1,-2 1,-10 1,-14 1,-12 1,-7 1,0 1,6 1,8 1,6 1,-5 1,-17 1,-12 1,0 1,-2 1,-8 1,-6 1,9 1,14 1,5 1,4 1,4 1,2 1,-3 1,-6 1,-6 1,-1 1,4 1,4 1,1 1,1 1,5 1,8 1,10 1,8 1,2 1,-3 1,-8 1,-12 1,-12 1,-9 1,-1 1,6 1,9 1,9 1,8 1,6 1,1 1,-9 1,-13 1,-5 1,9 1,23 1,30 1,26 1,11 1,-2 1,-10 1,-13 1,-16 1,-14 1,-10 1,-9 1,-5 1,-3 1,-1 1,-2 1,-4 1,-7 1,-9 1,-8 1,-3 1,3 1,9 1,12 1,11 1,7 1,1 1,0 1,2 1,7 1,7 1,2 1,-1 1,3 1,12 1,16 1,12 1,2 1,-5 1,-4 1,2 1,11 1,16 1,16 1,12 1,8 1,5" vector-effect="non-scaling-stroke"/>
<path d="M0,705l1,4 1,9 1,8 1,2 1,-2 1,-4 1,-2 1,2 1,5 1,2 1,-1 1,-3 1,-5 1,-6 1,-7 1,-5 1,-1 1,5 1,6 1,6 1,5 1,2 1,1 1,-1 1,-2 1,-3 1,-1 1,1 1,4 1,3 1,0 1,-5 1,-10 1,-16 1,-23 1,-31 1,-24 1,-7 1,9 1,24 1,30 1,34 1,35 1,26 1,13 1,3 1,3 1,-1 1,-17 1,-38 1,-49 1,-40 1,-18 1,8 1,19 1,16 1,1 1,-15 1,-20 1,-11 1,5 1,13 1,5 1,-7 1,-6 1,3 1,9 1,6 1,1 1,5 1,14 1,21 1,20 1,11 1,2 1,2 1,4 1,7 1,8 1,11 1,16 1,16 1,15 1,12 1,7 1,-1 1,-8 1,-11 1,-12 1,-14 1,-16 1,-13 1,-4 1,8 1,15 1,13 1,6 1,-3 1,-4 1,7 1,20 1,19 1,6 1,-13 1,-24 1,-23 1,-11 1,7 1,18 1,21 1,17 1,15 1,10 1,0 1,-18 1,-29 1,-22 1,-7 1,5 1,10 1,7 1,2 1,-8 1,-12 1,-9" vector-effect="non-scaling-stroke"/>
<path d="M0,751l1,-2 1,-7 1,-9 1,-9 1,-6 1,-3 1,-1 1,0 1,4 1,7 1,8 1,6 1,4 1,0 1,-4 1,-6 1,-4 1,-5 1,-4 1,0 1,3 1,6 1,7 1,4 1,-2 1,-8 1,-8 1,-5 1,1 1,7 1,11 1,10 1,2 1,-7 1,-24 1,-42 1,-44 1,-31 1,-10 1,24 1,50 1,57 1,54 1,50 1,43 1,24 1,-7 1,-34 1,-58 1,-72 1,-72 1,-59 1,-34 1,0 1,25 1,29 1,19 1,10 1,4 1,5 1,7 1,9 1,10 1,13 1,21 1,22 1,4 1,-26 1,-47 1,-37 1,-3 1,27 1,41 1,43 1,34 1,17 1,-8 1,-24 1,-19 1,-7 1,-1 1,1 1,8 1,16 1,17 1,12 1,5 1,5 1,9 1,7 1,4 1,3 1,2 1,0 1,-8 1,-18 1,-23 1,-23 1,-12 1,5 1,21 1,20 1,7 1,-9 1,-10 1,-7 1,-14 1,-27 1,-31 1,-24 1,-12 1,-8 1,-8 1,-9 1,-10 1,-12 1,-9 1,1 1,16 1,24 1,18 1,5 1,-8 1,-14 1,-5" vector-effect="non-scaling-stroke"/>
<path d="M0,735l1,-5 1,-11 1,-11 1,-6 1,-1 1,1 1,1 1,1 1,2 1,5 1,7 1,7 1,4 1,-2 1,-8 1,-9 1,-5 1,0 1,1 1,1 1,3 1,8 1,8 1,3 1,-3 1,-2 1,2 1,6 1,6 1,0 1,-7 1,-10 1,-1 1,15 1,36 1,58 1,71 1,60 1,27 1,-7 1,-28 1,-26 1,-21 1,-18 1,-12 1,-2 1,2 1,-11 1,-29 1,-44 1,-45 1,-35 1,-21 1,-14 1,-19 1,-33 1,-40 1,-32 1,-9 1,13 1,27 1,26 1,20 1,16 1,16 1,19 1,21 1,14 1,1 1,-9 1,-9 1,0 1,15 1,24 1,17 1,-1 1,-15 1,-18 1,-14 1,-9 1,-3 1,8 1,25 1,39 1,40 1,24 1,-2 1,-21 1,-25 1,-14 1,-2 1,-1 1,-6 1,-8 1,-7 1,-6 1,-2 1,7 1,14 1,9 1,-2 1,-7 1,1 1,8 1,5 1,-9 1,-16 1,-10 1,3 1,6 1,-1 1,-6 1,-1 1,10 1,15 1,8 1,-3 1,-8 1,-3 1,6 1,5 1,-7 1,-17 1,-18 1,-7" vector-effect="non-scaling-stroke"/>
<path d="M0,738l1,-3 1,-8 1,-9 1,-9 1,-7 1,-5 1,-1 1,0 1,1 1,2 1,9 1,14 1,12 1,6 1,3 1,3 1,2 1,-2 1,-10 1,-12 1,-10 1,-2 1,2 1,-2 1,-6 1,-5 1,1 1,5 1,2 1,-4 1,-8 1,-5 1,1 1,13 1,25 1,30 1,24 1,14 1,6 1,7 1,11 1,13 1,17 1,20 1,17 1,-5 1,-36 1,-48 1,-45 1,-42 1,-40 1,-31 1,-14 1,6 1,11 1,9 1,13 1,17 1,10 1,-2 1,-8 1,2 1,17 1,20 1,13 1,8 1,11 1,9 1,-5 1,-21 1,-30 1,-32 1,-28 1,-20 1,-9 1,1 1,3 1,3 1,2 1,7 1,20 1,31 1,27 1,9 1,-6 1,-9 1,-3 1,5 1,12 1,16 1,15 1,17 1,17 1,6 1,-7 1,-14 1,-8 1,6 1,16 1,15 1,7 1,-4 1,-11 1,-16 1,-13 1,-8 1,-2 1,3 1,5 1,5 1,-3 1,-13 1,-20 1,-16 1,-3 1,4 1,6 1,7 1,16 1,26 1,28 1,20 1,7 1,-2 1,-2" vector-effect="non-scaling-stroke"/>
<path d="M0,710l1,-2 1,-3 1,-4 1,-1 1,-1 1,-2 1,-3 1,0 1,5 1,11 1,13 1,9 1,6 1,1 1,-3 1,-7 1,-9 1,-6 1,0 1,5 1,3 1,0 1,-2 1,0 1,4 1,3 1,-3 1,-5 1,1 1,13 1,21 1,14 1,0 1,-14 1,-21 1,-20 1,-19 1,-21 1,-28 1,-31 1,-21 1,0 1,25 1,44 1,43 1,14 1,-22 1,-28 1,-16 1,-4 1,6 1,11 1,18 1,21 1,12 1,3 1,4 1,18 1,29 1,24 1,6 1,-13 1,-21 1,-19 1,-17 1,-19 1,-24 1,-26 1,-26 1,-21 1,-9 1,5 1,14 1,19 1,18 1,14 1,8 1,4 1,6 1,9 1,12 1,12 1,11 1,12 1,15 1,14 1,1 1,-9 1,-3 1,17 1,23 1,8 1,-11 1,-11 1,5 1,15 1,5 1,-9 1,-20 1,-21 1,-22 1,-16 1,-1 1,8 1,9 1,1 1,-6 1,-10 1,-6 1,1 1,1 1,-1 1,6 1,15 1,12 1,-1 1,-13 1,-7 1,9 1,19 1,15 1,9 1,9 1,8 1,4" vector-effect="non-scaling-stroke"/>
<path d="M0,712l1,1 1,0 1,-1 1,-1 1,1 1,5 1,5 1,2 1,0 1,0 1,1 1,0 1,-3 1,-5 1,-8 1,-10 1,-10 1,-7 1,0 1,8 1,8 1,5 1,3 1,4 1,6 1,6 1,4 1,-1 1,-2 1,1 1,4 1,4 1,0 1,-6 1,-12 1,-18 1,-22 1,-25 1,-17 1,2 1,20 1,26 1,29 1,31 1,26 1,17 1,9 1,8 1,3 1,-10 1,-29 1,-39 1,-32 1,-15 1,-2 1,-2 1,-5 1,3 1,9 1,1 1,-16 1,-22 1,-7 1,19 1,31 1,21 1,6 1,0 1,7 1,18 1,19 1,13 1,4 1,-6 1,-11 1,-4 1,7 1,11 1,4 1,-5 1,-13 1,-18 1,-22 1,-15 1,6 1,24 1,24 1,7 1,-13 1,-18 1,-9 1,4 1,15 1,22 1,23 1,17 1,7 1,0 1,0 1,4 1,3 1,-3 1,-9 1,-12 1,-13 1,-8 1,-1 1,7 1,13 1,8 1,-4 1,-13 1,-10 1,5 1,21 1,26 1,18 1,4 1,-7 1,-9 1,1 1,11 1,10 1,2 1,-2" vector-effect="non-scaling-stroke"/>
<path d="M0,745l1,1 1,0 1,-5 1,-9 1,-10 1,-6 1,-3 1,-2 1,3 1,9 1,12 1,6 1,-4 1,-12 1,-12 1,-6 1,2 1,2 1,-2 1,-5 1,-7 1,-8 1,-5 1,3 1,9 1,13 1,14 1,14 1,16 1,15 1,9 1,1 1,-5 1,-12 1,-18 1,-27 1,-33 1,-34 1,-21 1,10 1,30 1,20 1,-7 1,-24 1,-20 1,-2 1,13 1,21 1,15 1,-2 1,-16 1,-16 1,-1 1,11 1,-1 1,-26 1,-36 1,-29 1,-14 1,7 1,31 1,47 1,46 1,33 1,17 1,5 1,0 1,1 1,2 1,-10 1,-24 1,-28 1,-21 1,-13 1,0 1,16 1,24 1,18 1,7 1,4 1,10 1,15 1,16 1,13 1,10 1,8 1,11 1,18 1,25 1,26 1,17 1,9 1,0 1,-9 1,-14 1,-10 1,-10 1,-19 1,-28 1,-24 1,-9 1,5 1,6 1,-3 1,-14 1,-15 1,-11 1,-9 1,-9 1,-6 1,1 1,4 1,1 1,-3 1,-3 1,-1 1,5 1,15 1,22 1,17 1,6 1,-6 1,-10 1,-10 1,-4" vector-effect="non-scaling-stroke"/>
<path d="M0,691l1,7 1,15 1,14 1,8 1,-2 1,-4 1,-3 1,2 1,2 1,-3 1,-8 1,-8 1,-3 1,3 1,8 1,6 1,1 1,-2 1,-3 1,-1 1,-2 1,-3 1,-3 1,-2 1,-3 1,-8 1,-12 1,-9 1,-1 1,8 1,11 1,9 1,4 1,1 1,-5 1,-9 1,-8 1,-7 1,-8 1,-5 1,5 1,17 1,23 1,18 1,7 1,-1 1,-1 1,-6 1,-22 1,-38 1,-39 1,-24 1,0 1,24 1,30 1,23 1,12 1,3 1,-5 1,-16 1,-23 1,-20 1,-11 1,-5 1,1 1,8 1,9 1,9 1,7 1,10 1,13 1,13 1,6 1,-7 1,-18 1,-13 1,2 1,13 1,11 1,6 1,4 1,9 1,19 1,28 1,28 1,20 1,7 1,-7 1,-19 1,-21 1,-18 1,-18 1,-21 1,-21 1,-13 1,2 1,14 1,26 1,37 1,39 1,23 1,-2 1,-14 1,-4 1,16 1,31 1,32 1,23 1,9 1,3 1,9 1,19 1,22 1,8 1,-7 1,-12 1,-4 1,8 1,16 1,13 1,2 1,-14 1,-28 1,-29 1,-14" vector-effect="non-scaling-stroke"/>
<path d="M0,708l1,3 1,4 1,2 1,-2 1,-4 1,-3 1,-2 1,-1 1,-2 1,-4 1,-6 1,-6 1,-1 1,4 1,7 1,4 1,1 1,1 1,2 1,4 1,7 1,8 1,3 1,-3 1,-6 1,-5 1,2 1,6 1,2 1,-13 1,-25 1,-22 1,-9 1,9 1,26 1,34 1,26 1,-1 1,-34 1,-42 1,-25 1,3 1,28 1,36 1,25 1,9 1,-6 1,-14 1,-21 1,-18 1,-5 1,4 1,4 1,-3 1,-5 1,2 1,16 1,24 1,19 1,3 1,-10 1,-13 1,-10 1,-7 1,-5 1,-2 1,4 1,2 1,-15 1,-30 1,-24 1,-1 1,14 1,5 1,-14 1,-16 1,3 1,27 1,32 1,15 1,-12 1,-23 1,-12 1,10 1,22 1,22 1,24 1,30 1,27 1,11 1,-3 1,-3 1,9 1,16 1,11 1,-2 1,-13 1,-11 1,-2 1,2 1,-2 1,-4 1,1 1,7 1,10 1,12 1,16 1,19 1,21 1,21 1,18 1,12 1,3 1,0 1,2 1,2 1,-1 1,-9 1,-22 1,-29 1,-16 1,13 1,38 1,41 1,16" vector-effect="non-scaling-stroke"/>
<path d="M0,724l1,1 1,0 1,-5 1,-8 1,-8 1,-1 1,6 1,7 1,8 1,8 1,9 1,7 1,0 1,-9 1,-14 1,-11 1,1 1,11 1,12 1,0 1,-11 1,-15 1,-9 1,-3 1,1 1,-1 1,0 1,-1 1,-6 1,-7 1,1 1,16 1,24 1,18 1,2 1,-12 1,-11 1,-1 1,9 1,25 1,32 1,29 1,22 1,15 1,-2 1,-23 1,-38 1,-38 1,-32 1,-27 1,-21 1,-10 1,8 1,22 1,15 1,-4 1,-21 1,-21 1,-6 1,10 1,15 1,12 1,14 1,19 1,19 1,9 1,-5 1,-14 1,-20 1,-21 1,-20 1,-11 1,-1 1,4 1,1 1,-4 1,-4 1,2 1,11 1,18 1,27 1,36 1,37 1,28 1,20 1,13 1,3 1,-5 1,-3 1,1 1,-5 1,-18 1,-23 1,-9 1,7 1,13 1,10 1,6 1,1 1,0 1,-2 1,1 1,5 1,3 1,-4 1,-13 1,-21 1,-28 1,-26 1,-20 1,-11 1,-2 1,-1 1,-6 1,-9 1,-7 1,-5 1,-4 1,-1 1,4 1,7 1,-2 1,-18 1,-24 1,-13" vector-effect="non-scaling-stroke"/>
<path d="M0,730l1,-1 1,-4 1,-5 1,-6 1,-7 1,-3 1,0 1,4 1,5 1,3 1,4 1,1 1,-1 1,-3 1,-4 1,-1 1,2 1,5 1,5 1,5 1,1 1,-3 1,-5 1,-4 1,-1 1,1 1,0 1,-5 1,-7 1,-5 1,-1 1,1 1,-4 1,-5 1,-6 1,-4 1,-3 1,1 1,5 1,10 1,11 1,16 1,27 1,38 1,37 1,8 1,-34 1,-50 1,-41 1,-32 1,-32 1,-38 1,-32 1,-16 1,0 1,12 1,19 1,20 1,15 1,11 1,12 1,15 1,14 1,6 1,-4 1,-10 1,-6 1,-1 1,4 1,5 1,8 1,12 1,14 1,10 1,4 1,-5 1,-12 1,-18 1,-18 1,-13 1,0 1,15 1,27 1,31 1,28 1,21 1,17 1,16 1,19 1,12 1,-10 1,-27 1,-27 1,-16 1,-4 1,3 1,3 1,-2 1,0 1,10 1,21 1,22 1,14 1,0 1,-17 1,-27 1,-23 1,-14 1,-10 1,-14 1,-17 1,-13 1,-5 1,0 1,-3 1,-7 1,-9 1,-4 1,4 1,8 1,8 1,2 1,-4 1,-5 1,-1" vector-effect="non-scaling-stroke"/>
<path d="M0,723l1,-5 1,-10 1,-9 1,-5 1,1 1,4 1,7 1,5 1,0 1,-3 1,-3 1,-4 1,-6 1,-7 1,-4 1,2 1,6 1,8 1,9 1,9 1,5 1,-2 1,-7 1,-5 1,0 1,3 1,3 1,6 1,8 1,9 1,6 1,0 1,-1 1,0 1,-1 1,-6 1,-7 1,-7 1,-8 1,-9 1,-3 1,8 1,17 1,18 1,16 1,12 1,2 1,-13 1,-32 1,-44 1,-43 1,-28 1,-8 1,9 1,15 1,6 1,-10 1,-26 1,-29 1,-21 1,-9 1,1 1,4 1,9 1,21 1,34 1,38 1,24 1,3 1,-14 1,-16 1,-3 1,17 1,32 1,30 1,17 1,6 1,0 1,1 1,-3 1,-7 1,-13 1,-13 1,-5 1,12 1,26 1,26 1,15 1,6 1,3 1,1 1,-6 1,-14 1,-15 1,-4 1,12 1,24 1,28 1,19 1,10 1,2 1,1 1,2 1,-2 1,-12 1,-26 1,-33 1,-21 1,-4 1,7 1,6 1,6 1,8 1,11 1,9 1,4 1,-3 1,-9 1,-8 1,2 1,9 1,0 1,-15 1,-21 1,-11" vector-effect="non-scaling-stroke"/>
<path d="M0,701l1,3 1,4 1,1 1,-2 1,-2 1,0 1,1 1,0 1,-1 1,-2 1,-2 1,-2 1,-4 1,-4 1,-1 1,4 1,9 1,10 1,7 1,2 1,-3 1,-6 1,-5 1,-1 1,3 1,5 1,7 1,8 1,5 1,1 1,-4 1,-7 1,-8 1,-10 1,-17 1,-32 1,-37 1,-32 1,-12 1,25 1,57 1,62 1,49 1,34 1,20 1,-4 1,-34 1,-54 1,-52 1,-30 1,-1 1,17 1,20 1,15 1,9 1,1 1,-11 1,-19 1,-23 1,-12 1,5 1,12 1,4 1,-10 1,-14 1,-7 1,4 1,13 1,13 1,14 1,16 1,20 1,18 1,8 1,-7 1,-19 1,-21 1,-16 1,-9 1,-1 1,7 1,10 1,8 1,6 1,7 1,5 1,-2 1,-4 1,2 1,8 1,5 1,-3 1,-9 1,-5 1,9 1,19 1,13 1,-6 1,-20 1,-18 1,-7 1,4 1,13 1,20 1,26 1,28 1,29 1,30 1,30 1,28 1,19 1,3 1,-9 1,-5 1,10 1,19 1,9 1,-4 1,-12 1,-11 1,-7 1,-5 1,-5 1,-7 1,-5" vector-effect="non-scaling-stroke"/>
<path d="M0,703l1,1 1,1 1,0 1,0 1,1 1,3 1,3 1,0 1,-1 1,3 1,5 1,6 1,1 1,-6 1,-11 1,-10 1,-4 1,6 1,15 1,17 1,12 1,6 1,2 1,-2 1,-6 1,-9 1,-14 1,-13 1,-7 1,5 1,11 1,7 1,-6 1,-13 1,-10 1,0 1,10 1,12 1,2 1,-4 1,-3 1,2 1,4 1,2 1,-2 1,-9 1,-28 1,-45 1,-48 1,-38 1,-25 1,-25 1,-20 1,0 1,20 1,26 1,19 1,8 1,3 1,8 1,23 1,40 1,38 1,16 1,-10 1,-15 1,2 1,18 1,19 1,10 1,-1 1,-8 1,-12 1,-13 1,-4 1,14 1,28 1,32 1,23 1,13 1,10 1,12 1,14 1,12 1,8 1,6 1,3 1,4 1,4 1,2 1,-3 1,-10 1,-14 1,-14 1,-12 1,-6 1,6 1,17 1,18 1,8 1,-6 1,-21 1,-31 1,-32 1,-22 1,-7 1,4 1,10 1,9 1,5 1,1 1,4 1,9 1,8 1,-1 1,-7 1,-5 1,3 1,5 1,-1 1,-9 1,-14 1,-13 1,-9 1,-2" vector-effect="non-scaling-stroke"/>
<path d="M0,744l1,-3 1,-8 1,-6 1,-2 1,1 1,2 1,-1 1,-1 1,0 1,-4 1,-9 1,-11 1,-6 1,1 1,8 1,11 1,5 1,-2 1,-5 1,0 1,6 1,5 1,-2 1,-8 1,-7 1,-1 1,3 1,2 1,-8 1,-20 1,-24 1,-14 1,-2 1,9 1,14 1,15 1,6 1,-15 1,-34 1,-26 1,7 1,35 1,41 1,34 1,25 1,13 1,-3 1,-9 1,-9 1,-15 1,-36 1,-64 1,-70 1,-43 1,-4 1,24 1,28 1,16 1,8 1,8 1,10 1,6 1,3 1,13 1,35 1,47 1,35 1,7 1,-9 1,-1 1,16 1,24 1,16 1,2 1,-8 1,-12 1,-10 1,-2 1,7 1,12 1,0 1,-15 1,-22 1,-15 1,-8 1,-8 1,-5 1,4 1,12 1,9 1,-2 1,-1 1,13 1,26 1,27 1,18 1,7 1,2 1,-5 1,-16 1,-27 1,-31 1,-22 1,-2 1,17 1,23 1,10 1,-3 1,-4 1,1 1,-4 1,-13 1,-18 1,-14 1,-6 1,6 1,19 1,23 1,12 1,-4 1,-7 1,2 1,14 1,18 1,12" vector-effect="non-scaling-stroke"/>
<path d="M0,734l1,4 1,5 1,-1 1,-10 1,-14 1,-8 1,0 1,4 1,2 1,-1 1,1 1,3 1,0 1,-5 1,-9 1,-8 1,-5 1,-2 1,-2 1,-3 1,0 1,6 1,10 1,9 1,5 1,2 1,-4 1,-11 1,-15 1,-12 1,-6 1,5 1,9 1,1 1,-14 1,-29 1,-29 1,-10 1,20 1,47 1,43 1,12 1,-4 1,5 1,18 1,17 1,9 1,7 1,4 1,-15 1,-49 1,-84 1,-91 1,-61 1,-16 1,23 1,39 1,24 1,-5 1,-18 1,-8 1,9 1,14 1,8 1,5 1,9 1,18 1,24 1,28 1,26 1,17 1,8 1,0 1,-5 1,-10 1,-9 1,1 1,18 1,37 1,44 1,37 1,27 1,18 1,7 1,-2 1,-9 1,-12 1,-11 1,-9 1,-8 1,-4 1,-1 1,-4 1,-11 1,-11 1,2 1,22 1,32 1,30 1,19 1,2 1,-15 1,-24 1,-21 1,-12 1,-14 1,-22 1,-27 1,-14 1,10 1,27 1,31 1,21 1,4 1,-12 1,-18 1,-15 1,-8 1,-5 1,-7 1,-9 1,-12 1,-16 1,-15 1,-6" vector-effect="non-scaling-stroke"/>
<path d="M0,706l1,1 1,1 1,-1 1,-5 1,-3 1,4 1,8 1,8 1,5 1,2 1,4 1,4 1,1 1,-4 1,-6 1,-4 1,-5 1,-3 1,5 1,10 1,8 1,1 1,-6 1,-8 1,-5 1,0 1,2 1,-1 1,-4 1,-3 1,-4 1,-8 1,-16 1,-20 1,-21 1,-25 1,-22 1,-5 1,20 1,38 1,33 1,19 1,16 1,27 1,32 1,7 1,-33 1,-46 1,-37 1,-28 1,-19 1,-7 1,11 1,29 1,32 1,19 1,1 1,-18 1,-25 1,-17 1,8 1,28 1,32 1,23 1,17 1,21 1,23 1,16 1,2 1,-11 1,-16 1,-14 1,-11 1,-14 1,-17 1,-20 1,-27 1,-32 1,-18 1,11 1,33 1,38 1,27 1,5 1,-21 1,-40 1,-43 1,-25 1,-1 1,15 1,23 1,25 1,27 1,27 1,21 1,14 1,10 1,12 1,13 1,3 1,-12 1,-22 1,-20 1,-7 1,8 1,15 1,9 1,0 1,-7 1,-9 1,-7 1,-4 1,2 1,8 1,15 1,20 1,19 1,15 1,11 1,3 1,-14 1,-37 1,-50 1,-44 1,-21" vector-effect="non-scaling-stroke"/>
<path d="M0,694l1,-3 1,-6 1,-2 1,5 1,8 1,8 1,5 1,1 1,2 1,3 1,3 1,1 1,-1 1,-4 1,-6 1,-3 1,2 1,7 1,8 1,3 1,-2 1,-8 1,-8 1,-10 1,-12 1,-13 1,-6 1,6 1,13 1,13 1,7 1,0 1,-4 1,-7 1,-7 1,-9 1,-6 1,-3 1,3 1,18 1,32 1,30 1,13 1,-8 1,-23 1,-20 1,-7 1,5 1,-2 1,-18 1,-34 1,-44 1,-42 1,-22 1,2 1,17 1,21 1,16 1,4 1,-11 1,-18 1,-12 1,10 1,30 1,33 1,26 1,19 1,15 1,7 1,-6 1,-19 1,-21 1,-11 1,2 1,8 1,7 1,6 1,6 1,8 1,13 1,22 1,28 1,21 1,10 1,2 1,-5 1,-14 1,-23 1,-18 1,-6 1,7 1,14 1,12 1,5 1,-1 1,-2 1,-2 1,-6 1,-10 1,-11 1,1 1,14 1,15 1,-1 1,-17 1,-22 1,-18 1,-3 1,13 1,22 1,16 1,-6 1,-26 1,-31 1,-20 1,1 1,20 1,34 1,39 1,33 1,20 1,5 1,-10 1,-15 1,-8" vector-effect="non-scaling-stroke"/>
<path d="M0,706l1,1 1,3 1,4 1,6 1,6 1,3 1,-2 1,-6 1,-7 1,-6 1,-2 1,1 1,2 1,0 1,-2 1,-1 1,-1 1,-1 1,0 1,2 1,2 1,0 1,-3 1,-5 1,-4 1,-1 1,2 1,6 1,6 1,1 1,-4 1,-6 1,-4 1,-3 1,-17 1,-44 1,-63 1,-64 1,-44 1,13 1,69 1,76 1,57 1,41 1,32 1,15 1,-10 1,-19 1,-21 1,-24 1,-28 1,-29 1,-17 1,-2 1,-1 1,-2 1,1 1,7 1,11 1,12 1,8 1,0 1,-6 1,-2 1,6 1,12 1,15 1,11 1,1 1,-9 1,-8 1,4 1,16 1,16 1,5 1,-5 1,-2 1,5 1,5 1,3 1,5 1,11 1,13 1,10 1,4 1,-1 1,-4 1,-5 1,-5 1,-6 1,-7 1,-7 1,0 1,10 1,18 1,17 1,4 1,-9 1,-14 1,-7 1,4 1,11 1,9 1,2 1,-3 1,-3 1,1 1,3 1,-1 1,-3 1,-3 1,-2 1,-5 1,-11 1,-10 1,-6 1,0 1,7 1,10 1,6 1,-4 1,-9 1,-6 1,1 1,3" vector-effect="non-scaling-stroke"/>
<path d="M0,759l1,-1 1,-3 1,-4 1,-6 1,-5 1,-5 1,-6 1,-7 1,-8 1,-7 1,-2 1,1 1,1 1,0 1,-2 1,1 1,5 1,9 1,12 1,12 1,9 1,3 1,-1 1,-5 1,-7 1,-9 1,-10 1,-5 1,-1 1,5 1,7 1,6 1,2 1,-7 1,-17 1,-20 1,-19 1,-16 1,-11 1,6 1,24 1,35 1,34 1,23 1,5 1,-13 1,-21 1,-16 1,-9 1,-5 1,1 1,6 1,0 1,-6 1,-1 1,13 1,19 1,5 1,-11 1,-14 1,-6 1,-4 1,-12 1,-15 1,-6 1,8 1,14 1,10 1,4 1,3 1,7 1,8 1,-1 1,-18 1,-30 1,-27 1,-11 1,11 1,27 1,31 1,27 1,16 1,1 1,-12 1,-14 1,-9 1,1 1,8 1,14 1,10 1,0 1,-7 1,-3 1,3 1,2 1,0 1,-2 1,-2 1,-1 1,2 1,6 1,13 1,20 1,22 1,22 1,22 1,18 1,4 1,-7 1,-10 1,-11 1,-16 1,-19 1,-11 1,0 1,6 1,4 1,3 1,3 1,3 1,1 1,-3 1,-6 1,-7 1,-4" vector-effect="non-scaling-stroke"/>
<path d="M0,730l1,0 1,0 1,-3 1,-9 1,-14 1,-12 1,-2 1,10 1,15 1,10 1,0 1,-8 1,-9 1,-5 1,-3 1,-5 1,-4 1,3 1,11 1,12 1,6 1,-1 1,-2 1,1 1,2 1,0 1,-3 1,-1 1,4 1,7 1,4 1,0 1,-2 1,1 1,1 1,-9 1,-26 1,-47 1,-64 1,-53 1,-18 1,21 1,54 1,73 1,68 1,30 1,-15 1,-29 1,-18 1,-5 1,7 1,11 1,3 1,-18 1,-36 1,-33 1,-15 1,2 1,7 1,11 1,16 1,25 1,28 1,25 1,18 1,11 1,-2 1,-15 1,-18 1,-10 1,-5 1,-9 1,-18 1,-22 1,-20 1,-7 1,11 1,23 1,20 1,3 1,-4 1,6 1,21 1,25 1,17 1,5 1,-8 1,-19 1,-26 1,-18 1,-2 1,9 1,9 1,5 1,5 1,8 1,5 1,2 1,-1 1,-2 1,-6 1,-8 1,-3 1,15 1,34 1,37 1,26 1,10 1,0 1,-4 1,3 1,14 1,22 1,15 1,1 1,-11 1,-11 1,-4 1,-3 1,-13 1,-30 1,-39 1,-30 1,-17 1,-7" vector-effect="non-scaling-stroke"/>
<path d="M0,715l1,0 1,2 1,1 1,1 1,0 1,-1 1,-1 1,0 1,-1 1,-2 1,-1 1,1 1,2 1,-2 1,-4 1,-3 1,1 1,2 1,4 1,3 1,2 1,2 1,-1 1,-4 1,-5 1,-7 1,-5 1,-2 1,3 1,7 1,10 1,10 1,7 1,2 1,-3 1,-3 1,5 1,9 1,4 1,-8 1,-18 1,-20 1,-13 1,-4 1,6 1,12 1,9 1,3 1,-14 1,-33 1,-42 1,-31 1,-12 1,3 1,6 1,4 1,5 1,10 1,17 1,23 1,27 1,23 1,10 1,-4 1,-12 1,-13 1,-10 1,-5 1,-1 1,4 1,13 1,16 1,10 1,2 1,-4 1,-4 1,0 1,2 1,2 1,2 1,3 1,2 1,-1 1,-11 1,-17 1,-10 1,7 1,19 1,21 1,13 1,5 1,-1 1,-1 1,-4 1,-9 1,-20 1,-22 1,-9 1,12 1,24 1,24 1,19 1,12 1,3 1,-7 1,-13 1,-9 1,2 1,12 1,12 1,1 1,-13 1,-18 1,-15 1,-11 1,-12 1,-4 1,11 1,26 1,27 1,14 1,-3 1,-12 1,-10 1,-4" vector-effect="non-scaling-stroke"/>
<path d="M0,718l1,0 1,1 1,4 1,4 1,3 1,0 1,0 1,1 1,-1 1,-2 1,-2 1,-2 1,-4 1,-3 1,-3 1,-1 1,1 1,3 1,2 1,-2 1,-7 1,-8 1,-7 1,-4 1,-1 1,1 1,1 1,0 1,0 1,3 1,6 1,4 1,1 1,-4 1,-11 1,-21 1,-32 1,-40 1,-37 1,-15 1,17 1,32 1,36 1,37 1,34 1,19 1,-8 1,-23 1,-24 1,-15 1,-5 1,-2 1,2 1,12 1,31 1,48 1,45 1,22 1,-8 1,-30 1,-41 1,-41 1,-31 1,-13 1,8 1,21 1,22 1,11 1,-3 1,-11 1,-14 1,-11 1,-4 1,8 1,20 1,20 1,8 1,3 1,8 1,15 1,12 1,-1 1,-8 1,-7 1,-1 1,5 1,9 1,10 1,11 1,10 1,13 1,16 1,14 1,6 1,-3 1,-7 1,-5 1,-2 1,1 1,3 1,2 1,-6 1,-12 1,-5 1,10 1,14 1,0 1,-25 1,-41 1,-43 1,-30 1,-11 1,8 1,15 1,5 1,-8 1,-9 1,4 1,16 1,13 1,0 1,-12 1,-12 1,-5 1,1" vector-effect="non-scaling-stroke"/>
<path d="M0,775l1,-3 1,-8 1,-12 1,-15 1,-15 1,-9 1,-2 1,-1 1,-1 1,0 1,1 1,4 1,4 1,3 1,2 1,1 1,1 1,-1 1,-3 1,-3 1,-3 1,-3 1,-4 1,-3 1,-1 1,-1 1,-1 1,2 1,6 1,11 1,11 1,3 1,-7 1,-16 1,-23 1,-30 1,-33 1,-27 1,-11 1,12 1,26 1,25 1,19 1,21 1,26 1,24 1,8 1,-12 1,-25 1,-25 1,-20 1,-11 1,2 1,11 1,12 1,8 1,3 1,3 1,3 1,5 1,5 1,7 1,9 1,8 1,7 1,12 1,18 1,16 1,2 1,-12 1,-13 1,-6 1,-3 1,-7 1,-10 1,-6 1,-2 1,-3 1,-4 1,3 1,17 1,25 1,28 1,24 1,18 1,11 1,3 1,-5 1,-11 1,-15 1,-12 1,-1 1,11 1,11 1,0 1,-11 1,-14 1,-7 1,-2 1,-2 1,-8 1,-11 1,-8 1,-1 1,2 1,0 1,-3 1,-3 1,-7 1,-14 1,-26 1,-29 1,-20 1,-1 1,12 1,12 1,9 1,5 1,1 1,-1 1,2 1,8 1,11 1,8 1,5" vector-effect="non-scaling-stroke"/>
<path d="M0,705l1,2 1,4 1,5 1,5 1,4 1,4 1,4 1,3 1,-3 1,-6 1,-7 1,-3 1,-1 1,0 1,-1 1,-1 1,-2 1,-2 1,-1 1,1 1,1 1,3 1,3 1,4 1,4 1,6 1,5 1,3 1,0 1,-2 1,-4 1,-4 1,-4 1,-5 1,-9 1,-17 1,-19 1,-13 1,-6 1,4 1,13 1,16 1,26 1,44 1,57 1,43 1,6 1,-14 1,-23 1,-31 1,-35 1,-33 1,-24 1,-14 1,-14 1,-19 1,-17 1,-12 1,-9 1,-9 1,-12 1,-9 1,-3 1,3 1,7 1,9 1,15 1,18 1,17 1,15 1,13 1,13 1,10 1,8 1,5 1,1 1,1 1,5 1,12 1,18 1,24 1,27 1,20 1,7 1,-4 1,-7 1,-5 1,-5 1,-6 1,-7 1,-6 1,-5 1,-4 1,-3 1,1 1,6 1,7 1,4 1,2 1,3 1,7 1,7 1,4 1,-5 1,-10 1,-12 1,-10 1,-10 1,-13 1,-17 1,-16 1,-11 1,-4 1,-1 1,3 1,7 1,8 1,6 1,3 1,6 1,9 1,9 1,-3 1,-12 1,-7" vector-effect="non-scaling-stroke"/>
<path d="M0,725l1,-6 1,-10 1,-4 1,1 1,-4 1,-10 1,-7 1,5 1,13 1,11 1,0 1,-5 1,-1 1,8 1,11 1,10 1,1 1,-8 1,-13 1,-12 1,-5 1,-2 1,0 1,0 1,1 1,-1 1,-1 1,1 1,4 1,3 1,5 1,9 1,17 1,12 1,-15 1,-58 1,-82 1,-77 1,-46 1,14 1,73 1,93 1,84 1,61 1,30 1,1 1,-13 1,-24 1,-38 1,-56 1,-61 1,-47 1,-19 1,6 1,16 1,17 1,24 1,32 1,36 1,27 1,10 1,-6 1,-13 1,-12 1,-6 1,3 1,12 1,11 1,4 1,1 1,7 1,14 1,17 1,8 1,-3 1,-12 1,-11 1,-7 1,-7 1,-12 1,-12 1,0 1,21 1,35 1,35 1,23 1,3 1,-18 1,-35 1,-42 1,-34 1,-18 1,-2 1,7 1,8 1,4 1,2 1,1 1,6 1,15 1,25 1,19 1,0 1,-19 1,-20 1,-5 1,15 1,25 1,19 1,1 1,-12 1,-6 1,5 1,10 1,9 1,11 1,14 1,14 1,6 1,-4 1,-11 1,-10 1,-5 1,1 1,1" vector-effect="non-scaling-stroke"/>
<path d="M0,690l1,0 1,2 1,4 1,9 1,9 1,6 1,-1 1,-7 1,-8 1,-4 1,0 1,0 1,-3 1,-4 1,-2 1,3 1,5 1,5 1,4 1,3 1,0 1,-3 1,-2 1,0 1,5 1,9 1,9 1,7 1,2 1,-1 1,-2 1,-5 1,-10 1,-16 1,-23 1,-28 1,-28 1,-22 1,-7 1,28 1,64 1,73 1,63 1,48 1,29 1,-4 1,-33 1,-33 1,-22 1,-16 1,-16 1,-15 1,-8 1,6 1,10 1,3 1,-7 1,-12 1,-13 1,-10 1,-4 1,1 1,4 1,10 1,16 1,17 1,12 1,5 1,-4 1,-13 1,-21 1,-22 1,-14 1,-6 1,-2 1,-1 1,4 1,9 1,7 1,4 1,4 1,6 1,0 1,-7 1,-1 1,15 1,30 1,27 1,4 1,-22 1,-35 1,-30 1,-18 1,-4 1,7 1,14 1,13 1,11 1,10 1,11 1,4 1,-7 1,-11 1,-2 1,16 1,33 1,43 1,38 1,23 1,3 1,-4 1,0 1,4 1,-1 1,-7 1,-8 1,0 1,9 1,9 1,4 1,0 1,-3 1,-9 1,-11 1,-6" vector-effect="non-scaling-stroke"/>
<path d="M0,683l1,5 1,10 1,10 1,6 1,2 1,-1 1,-4 1,0 1,3 1,7 1,8 1,5 1,1 1,-4 1,-7 1,-6 1,-3 1,-2 1,-1 1,-1 1,0 1,2 1,2 1,1 1,-1 1,0 1,1 1,-2 1,-3 1,-6 1,-5 1,-4 1,-5 1,-5 1,-15 1,-33 1,-44 1,-47 1,-36 1,14 1,77 1,98 1,85 1,56 1,25 1,-7 1,-30 1,-39 1,-36 1,-27 1,-17 1,-14 1,-11 1,-8 1,-3 1,1 1,11 1,16 1,15 1,8 1,2 1,1 1,5 1,6 1,1 1,-3 1,-6 1,-6 1,-5 1,-6 1,-7 1,-11 1,-16 1,-15 1,-9 1,2 1,17 1,24 1,18 1,3 1,-3 1,2 1,12 1,18 1,15 1,7 1,-4 1,-12 1,-11 1,-8 1,-2 1,2 1,6 1,6 1,7 1,7 1,3 1,-1 1,-6 1,-9 1,-13 1,-14 1,-8 1,3 1,15 1,23 1,21 1,15 1,10 1,9 1,11 1,7 1,2 1,0 1,3 1,10 1,7 1,-2 1,-11 1,-12 1,-6 1,0 1,5 1,5 1,3" vector-effect="non-scaling-stroke"/>
<path d="M0,745l1,-4 1,-9 1,-14 1,-13 1,-6 1,2 1,10 1,11 1,2 1,-10 1,-18 1,-12 1,-1 1,8 1,10 1,10 1,7 1,4 1,3 1,5 1,3 1,-2 1,-6 1,-8 1,-6 1,-2 1,1 1,1 1,2 1,2 1,0 1,-6 1,-11 1,-11 1,-5 1,7 1,15 1,8 1,-7 1,-11 1,-1 1,8 1,3 1,-14 1,-24 1,-19 1,-11 1,-2 1,-1 1,-6 1,-20 1,-34 1,-29 1,-8 1,-2 1,-12 1,-20 1,-24 1,-18 1,5 1,36 1,50 1,33 1,12 1,9 1,17 1,21 1,12 1,1 1,-8 1,-7 1,1 1,9 1,12 1,14 1,20 1,31 1,29 1,15 1,3 1,2 1,2 1,5 1,12 1,17 1,9 1,-5 1,-10 1,-8 1,-3 1,-4 1,-10 1,-7 1,2 1,11 1,16 1,7 1,-16 1,-39 1,-41 1,-22 1,2 1,14 1,16 1,14 1,12 1,10 1,7 1,7 1,11 1,16 1,13 1,0 1,-14 1,-22 1,-18 1,-6 1,4 1,5 1,0 1,-1 1,9 1,20 1,22 1,10" vector-effect="non-scaling-stroke"/>
<path d="M0,705l1,-1 1,0 1,3 1,5 1,4 1,1 1,-1 1,-1 1,3 1,8 1,10 1,4 1,-3 1,-7 1,-7 1,-3 1,1 1,2 1,-2 1,-7 1,-11 1,-8 1,-5 1,1 1,3 1,2 1,0 1,1 1,7 1,11 1,8 1,-1 1,-5 1,-5 1,-18 1,-45 1,-66 1,-59 1,-28 1,23 1,69 1,81 1,82 1,80 1,57 1,-8 1,-74 1,-82 1,-57 1,-43 1,-54 1,-68 1,-55 1,-8 1,43 1,71 1,67 1,46 1,27 1,14 1,8 1,1 1,-3 1,-8 1,-5 1,5 1,14 1,17 1,18 1,16 1,6 1,-11 1,-20 1,-18 1,-11 1,-9 1,-8 1,-1 1,8 1,11 1,6 1,0 1,4 1,20 1,35 1,33 1,12 1,-5 1,-6 1,2 1,6 1,7 1,4 1,0 1,0 1,8 1,15 1,11 1,1 1,-1 1,8 1,21 1,24 1,12 1,-10 1,-31 1,-39 1,-29 1,-8 1,10 1,14 1,8 1,1 1,0 1,2 1,0 1,-8 1,-17 1,-11 1,9 1,30 1,36 1,23 1,9 1,1" vector-effect="non-scaling-stroke"/>
<path d="M0,701l1,-1 1,-3 1,-1 1,1 1,1 1,3 1,3 1,4 1,4 1,4 1,2 1,1 1,0 1,1 1,2 1,-1 1,-9 1,-15 1,-12 1,-3 1,7 1,9 1,8 1,4 1,0 1,0 1,1 1,5 1,7 1,7 1,3 1,-6 1,-17 1,-21 1,-17 1,-11 1,-4 1,-5 1,-14 1,-6 1,23 1,45 1,45 1,34 1,22 1,-3 1,-41 1,-62 1,-52 1,-25 1,-3 1,-2 1,-14 1,-12 1,10 1,36 1,47 1,41 1,26 1,11 1,2 1,1 1,-2 1,-14 1,-27 1,-27 1,-10 1,10 1,17 1,10 1,-4 1,-18 1,-23 1,-17 1,0 1,15 1,21 1,21 1,16 1,16 1,17 1,14 1,10 1,15 1,26 1,33 1,28 1,17 1,9 1,0 1,-7 1,-7 1,0 1,7 1,9 1,4 1,2 1,6 1,7 1,0 1,-17 1,-33 1,-37 1,-27 1,-11 1,-6 1,-14 1,-22 1,-22 1,-13 1,-6 1,-1 1,1 1,4 1,5 1,4 1,5 1,7 1,3 1,-3 1,-6 1,-7 1,-7 1,-7 1,-3" vector-effect="non-scaling-stroke"/>
<path d="M0,750l1,-3 1,-5 1,-5 1,-2 1,1 1,0 1,-3 1,-6 1,-6 1,-3 1,2 1,1 1,0 1,0 1,3 1,4 1,1 1,0 1,-1 1,1 1,0 1,-3 1,-4 1,-5 1,-2 1,0 1,3 1,4 1,1 1,-4 1,-8 1,-7 1,-1 1,6 1,5 1,-2 1,-11 1,-20 1,-25 1,-12 1,7 1,3 1,-2 1,9 1,29 1,17 1,-21 1,-41 1,-38 1,-25 1,-7 1,2 1,6 1,10 1,18 1,22 1,21 1,14 1,12 1,9 1,-2 1,-16 1,-25 1,-23 1,-11 1,-2 1,5 1,14 1,24 1,29 1,25 1,12 1,-1 1,-10 1,-15 1,-12 1,0 1,15 1,23 1,20 1,7 1,-6 1,-10 1,-7 1,6 1,18 1,25 1,19 1,-2 1,-26 1,-39 1,-35 1,-16 1,5 1,21 1,27 1,25 1,20 1,15 1,18 1,25 1,26 1,19 1,5 1,-11 1,-17 1,-14 1,-7 1,-2 1,-3 1,-11 1,-19 1,-19 1,-10 1,5 1,15 1,16 1,13 1,8 1,2 1,-6 1,-14 1,-13 1,-8 1,-3" vector-effect="non-scaling-stroke"/>
<path d="M0,721l1,-3 1,-7 1,-4 1,-2 1,-2 1,-2 1,1 1,5 1,7 1,5 1,-1 1,-2 1,-2 1,0 1,-1 1,-1 1,0 1,0 1,-1 1,-3 1,-3 1,-3 1,-5 1,-3 1,-1 1,3 1,1 1,-5 1,-8 1,-5 1,3 1,9 1,12 1,6 1,-9 1,-28 1,-35 1,-27 1,-12 1,9 1,31 1,46 1,61 1,74 1,71 1,26 1,-39 1,-70 1,-68 1,-51 1,-26 1,-5 1,6 1,8 1,8 1,11 1,9 1,5 1,-5 1,-16 1,-22 1,-11 1,13 1,30 1,30 1,17 1,3 1,-4 1,-3 1,4 1,11 1,11 1,3 1,-6 1,-14 1,-18 1,-20 1,-14 1,-2 1,12 1,23 1,25 1,17 1,10 1,12 1,17 1,14 1,5 1,-7 1,-13 1,-11 1,-6 1,-6 1,-12 1,-11 1,5 1,23 1,25 1,13 1,1 1,-2 1,-2 1,-3 1,-5 1,-4 1,-6 1,-10 1,-16 1,-19 1,-16 1,-8 1,3 1,13 1,14 1,7 1,-2 1,-10 1,-12 1,-9 1,2 1,8 1,10 1,8 1,8 1,4" vector-effect="non-scaling-stroke"/>
<path d="M0,709l1,-1 1,1 1,3 1,3 1,2 1,0 1,-1 1,2 1,6 1,8 1,2 1,-7 1,-13 1,-11 1,-2 1,7 1,11 1,11 1,7 1,1 1,-5 1,-6 1,-2 1,0 1,-1 1,-6 1,-9 1,-9 1,-2 1,2 1,4 1,1 1,-4 1,-12 1,-22 1,-32 1,-30 1,-14 1,2 1,23 1,40 1,54 1,65 1,65 1,48 1,14 1,-24 1,-44 1,-44 1,-33 1,-21 1,-14 1,-7 1,-1 1,6 1,11 1,9 1,1 1,-6 1,-7 1,-7 1,-7 1,-10 1,-13 1,-12 1,-10 1,-11 1,-11 1,-2 1,18 1,32 1,34 1,23 1,7 1,1 1,6 1,9 1,12 1,12 1,12 1,12 1,8 1,3 1,-1 1,-6 1,-11 1,-11 1,-3 1,3 1,-2 1,-14 1,-19 1,-15 1,-5 1,6 1,19 1,30 1,35 1,29 1,14 1,-4 1,-20 1,-21 1,-10 1,6 1,18 1,16 1,7 1,-6 1,-12 1,-8 1,-2 1,1 1,-1 1,0 1,-2 1,-7 1,-14 1,-17 1,-16 1,-12 1,-5 1,5 1,9 1,3" vector-effect="non-scaling-stroke"/>
<path d="M0,727l1,0 1,1 1,-1 1,-1 1,-2 1,-2 1,-1 1,0 1,-1 1,-4 1,-6 1,-5 1,1 1,4 1,5 1,0 1,-3 1,-4 1,-3 1,-2 1,-1 1,0 1,2 1,3 1,3 1,3 1,0 1,-2 1,-1 1,0 1,5 1,10 1,14 1,15 1,13 1,12 1,11 1,7 1,-3 1,-12 1,-26 1,-43 1,-56 1,-52 1,-30 1,-10 1,-4 1,-7 1,-12 1,-13 1,-15 1,-14 1,-3 1,16 1,31 1,32 1,25 1,18 1,14 1,12 1,5 1,-1 1,-3 1,-2 1,3 1,12 1,16 1,14 1,12 1,12 1,13 1,11 1,4 1,-1 1,-8 1,-10 1,-6 1,5 1,15 1,20 1,14 1,6 1,3 1,8 1,15 1,15 1,8 1,-1 1,-2 1,-1 1,4 1,2 1,-2 1,-6 1,-4 1,3 1,5 1,6 1,5 1,4 1,4 1,1 1,-4 1,-9 1,-13 1,-12 1,-6 1,-1 1,-2 1,-3 1,-5 1,-4 1,-1 1,0 1,1 1,1 1,-2 1,-8 1,-15 1,-20 1,-19 1,-16 1,-9 1,-3 1,0" vector-effect="non-scaling-stroke"/>
<path d="M0,716l1,-1 1,-3 1,-3 1,-2 1,2 1,2 1,1 1,0 1,1 1,2 1,3 1,5 1,5 1,5 1,5 1,2 1,-1 1,-4 1,-6 1,-4 1,-3 1,-3 1,-9 1,-10 1,-9 1,-5 1,-1 1,0 1,5 1,14 1,19 1,16 1,5 1,-9 1,-24 1,-37 1,-38 1,-32 1,-21 1,5 1,37 1,45 1,34 1,19 1,11 1,7 1,-5 1,-21 1,-35 1,-47 1,-51 1,-51 1,-40 1,-22 1,-13 1,-9 1,-3 1,4 1,14 1,25 1,30 1,30 1,26 1,27 1,29 1,28 1,21 1,7 1,-4 1,-4 1,4 1,12 1,12 1,4 1,-4 1,-6 1,3 1,14 1,20 1,16 1,6 1,0 1,0 1,9 1,21 1,24 1,14 1,-1 1,-3 1,2 1,5 1,1 1,-7 1,-13 1,-12 1,-6 1,-1 1,0 1,0 1,0 1,0 1,-4 1,-11 1,-17 1,-18 1,-9 1,4 1,10 1,9 1,3 1,-1 1,-3 1,-7 1,-13 1,-17 1,-17 1,-14 1,-8 1,2 1,16 1,22 1,17 1,1 1,-11 1,-10" vector-effect="non-scaling-stroke"/>
<path d="M0,695l1,2 1,5 1,10 1,14 1,12 1,7 1,-2 1,-6 1,-3 1,3 1,6 1,2 1,-6 1,-10 1,-11 1,-8 1,-2 1,1 1,-2 1,-10 1,-16 1,-9 1,5 1,16 1,16 1,12 1,10 1,7 1,2 1,-4 1,-8 1,-11 1,-8 1,0 1,-1 1,-13 1,-26 1,-31 1,-15 1,29 1,55 1,32 1,-9 1,-27 1,-16 1,-3 1,1 1,0 1,-4 1,-13 1,-22 1,-19 1,1 1,19 1,17 1,1 1,-12 1,-15 1,0 1,16 1,19 1,7 1,-8 1,-10 1,0 1,7 1,3 1,-8 1,-14 1,-13 1,-7 1,7 1,17 1,21 1,15 1,12 1,9 1,1 1,-12 1,-23 1,-21 1,-10 1,4 1,19 1,31 1,36 1,26 1,7 1,-10 1,-15 1,-14 1,-7 1,0 1,5 1,0 1,-13 1,-28 1,-34 1,-22 1,5 1,33 1,47 1,42 1,27 1,14 1,4 1,-1 1,-1 1,1 1,3 1,9 1,16 1,19 1,15 1,6 1,-7 1,-18 1,-18 1,-6 1,8 1,16 1,4 1,-20 1,-35 1,-22" vector-effect="non-scaling-stroke"/>
<path d="M0,697l1,-1 1,1 1,5 1,8 1,8 1,4 1,1 1,2 1,1 1,-2 1,-3 1,-4 1,-4 1,-3 1,-1 1,1 1,3 1,3 1,1 1,1 1,2 1,1 1,-1 1,-3 1,-2 1,0 1,5 1,9 1,1 1,-13 1,-20 1,-16 1,-5 1,5 1,7 1,0 1,-6 1,-9 1,-13 1,-6 1,-3 1,-6 1,-11 1,-10 1,-5 1,-1 1,7 1,28 1,44 1,41 1,22 1,3 1,-5 1,-5 1,-10 1,-22 1,-31 1,-28 1,-8 1,19 1,30 1,22 1,4 1,-10 1,-11 1,-3 1,0 1,-6 1,-18 1,-20 1,-12 1,1 1,7 1,6 1,-1 1,-7 1,-9 1,-6 1,-2 1,3 1,8 1,13 1,14 1,11 1,7 1,2 1,1 1,1 1,-1 1,-3 1,-5 1,-7 1,-2 1,9 1,14 1,9 1,-2 1,-9 1,-6 1,4 1,17 1,26 1,26 1,17 1,4 1,-4 1,-11 1,-11 1,-6 1,4 1,14 1,14 1,9 1,4 1,3 1,3 1,-2 1,-7 1,-9 1,-7 1,-1 1,2 1,-1 1,-5 1,-5" vector-effect="non-scaling-stroke"/>
<path d="M0,714l1,2 1,5 1,6 1,5 1,4 1,2 1,-1 1,0 1,1 1,-1 1,-5 1,-7 1,-7 1,-3 1,3 1,8 1,9 1,3 1,-4 1,-12 1,-10 1,-5 1,1 1,6 1,5 1,3 1,1 1,-2 1,-2 1,-4 1,-4 1,-4 1,-4 1,-9 1,-14 1,-17 1,-16 1,-9 1,3 1,17 1,27 1,24 1,14 1,2 1,-5 1,-10 1,-9 1,-2 1,2 1,-2 1,-11 1,-15 1,-16 1,-10 1,2 1,14 1,19 1,16 1,10 1,9 1,8 1,3 1,-6 1,-12 1,-8 1,-1 1,4 1,1 1,-4 1,-2 1,3 1,8 1,9 1,6 1,3 1,1 1,3 1,6 1,9 1,11 1,11 1,11 1,11 1,16 1,20 1,21 1,15 1,10 1,6 1,5 1,2 1,-5 1,-12 1,-11 1,-3 1,6 1,7 1,2 1,1 1,7 1,13 1,7 1,-9 1,-31 1,-47 1,-50 1,-42 1,-30 1,-13 1,5 1,21 1,19 1,6 1,-11 1,-18 1,-13 1,2 1,13 1,17 1,16 1,13 1,9 1,4 1,-1 1,-1" vector-effect="non-scaling-stroke"/>
<path d="M0,701l1,6 1,11 1,6 1,-4 1,-15 1,-19 1,-17 1,-8 1,4 1,12 1,18 1,18 1,11 1,-1 1,-11 1,-15 1,-11 1,-4 1,1 1,3 1,6 1,11 1,16 1,14 1,8 1,4 1,-1 1,-3 1,-6 1,-8 1,-12 1,-14 1,-14 1,-10 1,-13 1,-26 1,-44 1,-52 1,-37 1,3 1,51 1,81 1,84 1,64 1,32 1,0 1,-23 1,-28 1,-30 1,-37 1,-45 1,-44 1,-28 1,0 1,21 1,25 1,16 1,-6 1,-22 1,-21 1,-3 1,18 1,23 1,19 1,18 1,25 1,26 1,16 1,-4 1,-19 1,-23 1,-16 1,-14 1,-18 1,-17 1,-5 1,13 1,24 1,29 1,25 1,16 1,3 1,-7 1,-4 1,8 1,16 1,10 1,-5 1,-13 1,-8 1,4 1,11 1,11 1,5 1,2 1,6 1,4 1,0 1,1 1,9 1,15 1,9 1,-6 1,-17 1,-16 1,-5 1,11 1,21 1,18 1,9 1,-2 1,-13 1,-24 1,-28 1,-22 1,-5 1,13 1,26 1,30 1,28 1,20 1,4 1,-11 1,-14 1,-6" vector-effect="non-scaling-stroke"/>
<path d="M0,717l1,-1 1,-4 1,-3 1,0 1,5 1,5 1,4 1,3 1,4 1,2 1,-1 1,-1 1,-2 1,-3 1,-3 1,1 1,2 1,-6 1,-15 1,-17 1,-13 1,-4 1,2 1,8 1,9 1,5 1,-1 1,-6 1,-6 1,-2 1,3 1,4 1,7 1,11 1,15 1,12 1,8 1,8 1,13 1,20 1,26 1,26 1,33 1,43 1,50 1,38 1,-1 1,-45 1,-83 1,-110 1,-113 1,-98 1,-62 1,-21 1,-1 1,3 1,8 1,19 1,27 1,26 1,15 1,4 1,-1 1,5 1,20 1,27 1,23 1,10 1,1 1,4 1,16 1,18 1,6 1,-7 1,-7 1,1 1,6 1,4 1,1 1,-1 1,5 1,20 1,28 1,22 1,9 1,3 1,6 1,4 1,-7 1,-21 1,-26 1,-17 1,2 1,13 1,4 1,-14 1,-24 1,-20 1,-7 1,16 1,32 1,33 1,20 1,9 1,4 1,5 1,7 1,9 1,9 1,3 1,-4 1,-9 1,-12 1,-8 1,4 1,17 1,19 1,11 1,2 1,0 1,-1 1,0 1,5 1,10 1,5" vector-effect="non-scaling-stroke"/>
<path d="M0,734l1,0 1,0 1,2 1,1 1,-5 1,-7 1,-3 1,6 1,12 1,12 1,4 1,-11 1,-20 1,-13 1,1 1,14 1,17 1,10 1,-4 1,-15 1,-18 1,-8 1,1 1,5 1,-1 1,-8 1,-12 1,-8 1,-2 1,5 1,3 1,-6 1,-12 1,-5 1,9 1,11 1,1 1,-5 1,-6 1,-11 1,-23 1,-33 1,-28 1,-10 1,3 1,-5 1,-16 1,-8 1,7 1,11 1,2 1,-9 1,0 1,29 1,45 1,31 1,3 1,-18 1,-23 1,-16 1,-4 1,9 1,23 1,31 1,27 1,15 1,1 1,-6 1,-9 1,-5 1,9 1,26 1,28 1,8 1,-18 1,-27 1,-22 1,-15 1,-9 1,-2 1,5 1,6 1,8 1,11 1,12 1,4 1,-3 1,6 1,21 1,23 1,5 1,-12 1,-13 1,-5 1,3 1,11 1,18 1,15 1,5 1,0 1,-1 1,1 1,5 1,10 1,18 1,26 1,19 1,-2 1,-24 1,-28 1,-14 1,4 1,9 1,4 1,-2 1,0 1,6 1,15 1,17 1,9 1,-7 1,-16 1,-16 1,-11 1,-5" vector-effect="non-scaling-stroke"/>
<path d="M0,723l1,-2 1,-6 1,-5 1,-2 1,0 1,-1 1,0 1,2 1,7 1,10 1,4 1,-3 1,-6 1,-3 1,3 1,7 1,3 1,-2 1,-8 1,-7 1,-2 1,1 1,-2 1,-6 1,-9 1,-12 1,-9 1,0 1,9 1,11 1,10 1,7 1,8 1,6 1,-4 1,-23 1,-38 1,-44 1,-37 1,-8 1,27 1,43 1,39 1,29 1,21 1,9 1,-5 1,-7 1,-3 1,0 1,-6 1,-10 1,-7 1,2 1,1 1,-10 1,-17 1,-12 1,-3 1,0 1,0 1,5 1,17 1,24 1,25 1,23 1,16 1,8 1,6 1,8 1,2 1,-12 1,-22 1,-16 1,-6 1,-3 1,-7 1,-6 1,-2 1,6 1,9 1,9 1,8 1,5 1,1 1,-4 1,-7 1,0 1,13 1,23 1,27 1,21 1,8 1,-4 1,-5 1,-2 1,-2 1,-5 1,-2 1,4 1,10 1,11 1,4 1,-9 1,-28 1,-36 1,-24 1,-1 1,16 1,17 1,6 1,-6 1,-12 1,-7 1,0 1,6 1,8 1,10 1,9 1,-2 1,-13 1,-16 1,-10 1,-5 1,-3" vector-effect="non-scaling-stroke"/>
<path d="M0,706l1,-1 1,-2 1,-2 1,2 1,6 1,5 1,2 1,-2 1,-6 1,-4 1,0 1,4 1,5 1,4 1,2 1,1 1,-1 1,0 1,3 1,5 1,5 1,0 1,-5 1,-8 1,-4 1,2 1,4 1,2 1,-2 1,-5 1,-6 1,-4 1,3 1,12 1,11 1,-8 1,-33 1,-47 1,-43 1,-17 1,16 1,28 1,25 1,22 1,22 1,13 1,-3 1,-11 1,-14 1,-21 1,-34 1,-46 1,-42 1,-30 1,-21 1,-14 1,-3 1,4 1,4 1,2 1,6 1,13 1,19 1,18 1,16 1,13 1,14 1,18 1,24 1,29 1,26 1,17 1,5 1,0 1,6 1,16 1,21 1,17 1,5 1,-7 1,-15 1,-12 1,-5 1,8 1,15 1,14 1,4 1,-6 1,-10 1,-9 1,-4 1,5 1,11 1,13 1,10 1,6 1,2 1,0 1,-2 1,-3 1,0 1,5 1,10 1,18 1,25 1,26 1,20 1,10 1,4 1,5 1,10 1,11 1,8 1,2 1,-2 1,-5 1,-4 1,1 1,9 1,13 1,13 1,11 1,12 1,14 1,7" vector-effect="non-scaling-stroke"/>
</g>
<line x1="1273.7" y1="179.0" x2="1712.3" y2="179.0" stroke="#000" stroke-width="1.8"/>
<line x1="1273.7" y1="179.0" x2="1273.7" y2="182.5" stroke="#000" stroke-width="1.8"/>
<line x1="1493" y1="179.0" x2="1493" y2="182.5" stroke="#000" stroke-width="1.8"/>
<line x1="1712.3" y1="179.0" x2="1712.3" y2="182.5" stroke="#000" stroke-width="1.8"/>
<polyline points="1273.7,179 1277.2,179 1280.7,178.9 1284.2,178.9 1287.7,178.9 1291.2,178.9 1294.7,178.8 1298.2,178.8 1301.8,178.8 1305.3,178.7 1308.8,178.7 1312.3,178.7 1315.8,178.6 1319.3,178.6 1322.8,178.6 1326.3,178.6 1329.8,178.5 1333.3,178.5 1336.8,178.5 1340.3,178.4 1343.9,178.4 1347.4,178.4 1350.9,178.4 1354.4,178.3 1357.9,178.3 1361.4,178.3 1364.9,178.2 1368.4,178.2 1371.9,178.2 1375.4,178.1 1378.9,178.1 1382.5,178 1386,178 1389.5,178 1393,177.7 1396.5,176.2 1400,172.8 1403.5,168.2 1407,163.4 1410.5,159.9 1414,160.2 1417.5,164.9 1421,171.4 1424.6,178.2 1428.1,184.8 1431.6,190.5 1435.1,192.2 1438.6,188.9 1442.1,183.4 1445.6,177.5 1449.1,171.6 1452.6,165.8 1456.1,160.3 1459.6,156.7 1463.2,155.9 1466.7,156.5 1470.2,157.3 1473.7,158.1 1477.2,158.9 1480.7,159.8 1484.2,160.6 1487.7,161.7 1491.2,163.1 1494.7,164.7 1498.2,166.3 1501.8,167.9 1505.3,169.4 1508.8,170.8 1512.3,171.8 1515.8,172.5 1519.3,173.1 1522.8,173.6 1526.3,174.1 1529.8,174.7 1533.3,175.2 1536.8,175.8 1540.3,176.4 1543.9,177.3 1547.4,178.6 1550.9,180.1 1554.4,181.7 1557.9,183.3 1561.4,184.8 1564.9,186.4 1568.4,188 1571.9,189.5 1575.4,190.8 1578.9,191.4 1582.5,191.6 1586,191.6 1589.5,191.7 1593,191.7 1596.5,191.8 1600,191.8 1603.5,191.9 1607,192.3 1610.5,192.8 1614,193.4 1617.5,194 1621.1,194.7 1624.6,195.3 1628.1,195.6 1631.6,195.6 1635.1,195.4 1638.6,195.1 1642.1,194.9 1645.6,194.6 1649.1,194.3 1652.6,194.1 1656.1,193.8 1659.6,193.6 1663.2,193.5 1666.7,193.5 1670.2,193.6 1673.7,193.7 1677.2,193.7 1680.7,193.8 1684.2,193.9 1687.7,194 1691.2,194.1 1694.7,194.2 1698.2,194.2 1701.8,194.3 1705.3,194.4 1708.8,194.5 1712.3,194.5" fill="none" stroke="#000" stroke-width="6" stroke-linejoin="round" stroke-linecap="round"/>
<text x="1536" y="353.4" font-size="28" text-anchor="middle" >Car ERPs</text>
<line x1="1360.6" y1="348.0" x2="1360.6" y2="556.0" stroke="#000" stroke-width="2"/>
<line x1="1357" y1="378.1" x2="1360.6" y2="378.1" stroke="#000" stroke-width="1.8"/>
<line x1="1357" y1="525.5" x2="1360.6" y2="525.5" stroke="#000" stroke-width="1.8"/>
<g fill="none" stroke="#ff7f0e" stroke-width="1.5" stroke-opacity="0.5" stroke-linejoin="round" transform="matrix(3.5088 0 0 0.25 1273.68 0)">
<path d="M0,1847l1,-4 1,-9 1,-7 1,-6 1,-3 1,-2 1,-5 1,-10 1,-11 1,-6 1,-1 1,5 1,6 1,4 1,0 1,-4 1,-1 1,4 1,6 1,6 1,0 1,-3 1,-3 1,-2 1,0 1,6 1,12 1,15 1,10 1,-4 1,-18 1,-26 1,-21 1,-8 1,13 1,28 1,32 1,27 1,12 1,-13 1,-46 1,-53 1,-32 1,2 1,29 1,33 1,19 1,-6 1,-19 1,-12 1,-10 1,-20 1,-27 1,-28 1,-17 1,-1 1,14 1,15 1,10 1,5 1,4 1,8 1,8 1,6 1,4 1,4 1,7 1,8 1,8 1,8 1,12 1,17 1,19 1,18 1,15 1,12 1,10 1,8 1,8 1,7 1,10 1,14 1,16 1,6 1,-11 1,-19 1,-11 1,0 1,8 1,4 1,-10 1,-28 1,-36 1,-27 1,-4 1,13 1,11 1,-4 1,-18 1,-24 1,-15 1,-1 1,9 1,12 1,12 1,13 1,10 1,12 1,10 1,2 1,-8 1,-12 1,-5 1,8 1,17 1,15 1,2 1,-15 1,-20 1,-16 1,-6 1,2 1,6 1,7 1,3" vector-effect="non-scaling-stroke"/>
<path d="M0,1805l1,0 1,0 1,2 1,2 1,2 1,-2 1,-6 1,-5 1,0 1,4 1,5 1,2 1,0 1,-1 1,0 1,-2 1,-4 1,-7 1,-2 1,8 1,11 1,6 1,-3 1,-6 1,-3 1,3 1,4 1,2 1,-3 1,-9 1,-11 1,-12 1,-10 1,-3 1,8 1,17 1,21 1,21 1,12 1,-8 1,-27 1,-30 1,-23 1,-8 1,17 1,47 1,62 1,47 1,8 1,-30 1,-48 1,-45 1,-33 1,-27 1,-28 1,-28 1,-23 1,-6 1,13 1,23 1,22 1,18 1,14 1,14 1,16 1,14 1,7 1,5 1,10 1,12 1,7 1,-3 1,-8 1,-12 1,-11 1,-8 1,2 1,12 1,16 1,12 1,4 1,-5 1,-10 1,-11 1,-6 1,-2 1,6 1,14 1,14 1,1 1,-15 1,-18 1,-12 1,-7 1,-1 1,10 1,25 1,32 1,25 1,20 1,23 1,26 1,14 1,-7 1,-21 1,-15 1,6 1,18 1,13 1,-2 1,-9 1,1 1,16 1,16 1,-2 1,-21 1,-28 1,-19 1,-3 1,11 1,22 1,27 1,22 1,9 1,2" vector-effect="non-scaling-stroke"/>
<path d="M0,1833l1,-2 1,-6 1,-8 1,-10 1,-10 1,-7 1,1 1,3 1,2 1,1 1,2 1,4 1,3 1,0 1,-7 1,-9 1,-6 1,0 1,3 1,6 1,7 1,6 1,4 1,1 1,-2 1,-1 1,1 1,2 1,4 1,8 1,5 1,-3 1,-14 1,-19 1,-16 1,-8 1,0 1,3 1,-2 1,-9 1,-10 1,-7 1,2 1,23 1,45 1,50 1,32 1,-6 1,-37 1,-48 1,-37 1,-20 1,-7 1,-5 1,-17 1,-41 1,-63 1,-56 1,-22 1,10 1,25 1,22 1,15 1,22 1,39 1,46 1,34 1,10 1,-5 1,-13 1,-17 1,-20 1,-17 1,-6 1,8 1,15 1,17 1,12 1,7 1,3 1,7 1,17 1,21 1,17 1,9 1,4 1,1 1,3 1,0 1,-11 1,-22 1,-18 1,0 1,16 1,18 1,6 1,-1 1,3 1,10 1,7 1,-5 1,-14 1,-13 1,-9 1,-4 1,1 1,5 1,5 1,4 1,3 1,7 1,19 1,25 1,15 1,-6 1,-22 1,-24 1,-18 1,-9 1,-10 1,-18 1,-29 1,-31 1,-20 1,-6" vector-effect="non-scaling-stroke"/>
<path d="M0,1819l1,-1 1,-2 1,-2 1,-1 1,-1 1,-1 1,2 1,4 1,1 1,-4 1,-8 1,-6 1,-4 1,-1 1,-1 1,0 1,1 1,4 1,6 1,4 1,1 1,-2 1,-2 1,-1 1,0 1,-1 1,0 1,2 1,3 1,0 1,-4 1,-3 1,2 1,7 1,4 1,-4 1,-11 1,-13 1,-14 1,-13 1,-3 1,15 1,25 1,24 1,14 1,0 1,-11 1,-17 1,-14 1,-6 1,3 1,5 1,-1 1,-10 1,-14 1,-13 1,-7 1,-2 1,-1 1,-2 1,-2 1,-2 1,-4 1,-7 1,-5 1,0 1,10 1,15 1,13 1,2 1,-9 1,-15 1,-9 1,4 1,12 1,12 1,8 1,10 1,11 1,11 1,7 1,0 1,-4 1,-6 1,-5 1,-5 1,-8 1,-4 1,1 1,4 1,4 1,1 1,-2 1,-3 1,-1 1,6 1,14 1,13 1,6 1,-1 1,1 1,9 1,18 1,20 1,10 1,-1 1,-3 1,2 1,3 1,0 1,-3 1,-1 1,1 1,2 1,4 1,3 1,-2 1,-13 1,-15 1,-9 1,-2 1,1 1,-1 1,-1 1,0" vector-effect="non-scaling-stroke"/>
<path d="M0,1799l1,0 1,1 1,6 1,8 1,9 1,5 1,3 1,5 1,6 1,2 1,-3 1,-6 1,-7 1,-6 1,-4 1,-3 1,-1 1,0 1,0 1,-2 1,-3 1,1 1,5 1,6 1,3 1,-3 1,-12 1,-16 1,-18 1,-19 1,-14 1,-3 1,8 1,12 1,7 1,-6 1,-18 1,-27 1,-28 1,-17 1,14 1,44 1,51 1,30 1,5 1,-8 1,1 1,8 1,5 1,-4 1,-12 1,-17 1,-26 1,-38 1,-40 1,-31 1,-16 1,0 1,13 1,11 1,3 1,-1 1,0 1,9 1,21 1,25 1,21 1,11 1,8 1,8 1,4 1,0 1,1 1,6 1,2 1,-4 1,5 1,21 1,23 1,14 1,11 1,22 1,36 1,38 1,30 1,11 1,-12 1,-27 1,-30 1,-28 1,-28 1,-32 1,-34 1,-20 1,5 1,29 1,32 1,18 1,4 1,-4 1,-5 1,-1 1,3 1,9 1,12 1,12 1,16 1,20 1,17 1,5 1,-10 1,-19 1,-17 1,-6 1,1 1,3 1,2 1,5 1,4 1,-6 1,-20 1,-29 1,-27 1,-16 1,-5" vector-effect="non-scaling-stroke"/>
<path d="M0,1814l1,0 1,1 1,-1 1,-4 1,-4 1,-3 1,0 1,2 1,4 1,2 1,-2 1,-5 1,-6 1,-2 1,2 1,6 1,7 1,6 1,5 1,3 1,2 1,-2 1,-8 1,-11 1,-8 1,-3 1,0 1,0 1,-1 1,1 1,0 1,1 1,0 1,4 1,7 1,8 1,5 1,2 1,-2 1,-7 1,-14 1,-12 1,-1 1,14 1,26 1,31 1,21 1,-5 1,-29 1,-36 1,-28 1,-13 1,-3 1,0 1,-3 1,-5 1,-8 1,-8 1,-9 1,-8 1,-1 1,12 1,24 1,25 1,18 1,6 1,-2 1,-2 1,-1 1,0 1,-5 1,-10 1,-11 1,-9 1,-2 1,6 1,16 1,17 1,9 1,-2 1,-9 1,-12 1,-14 1,-16 1,-15 1,-11 1,-6 1,-1 1,2 1,9 1,14 1,18 1,17 1,11 1,1 1,-7 1,-9 1,-5 1,2 1,8 1,17 1,23 1,26 1,22 1,9 1,-3 1,-11 1,-13 1,-5 1,7 1,14 1,8 1,-4 1,-10 1,-5 1,1 1,3 1,-4 1,-10 1,-14 1,-8 1,4 1,14 1,16 1,8" vector-effect="non-scaling-stroke"/>
<path d="M0,1810l1,-2 1,-4 1,-3 1,-2 1,1 1,3 1,6 1,4 1,0 1,-6 1,-7 1,-3 1,2 1,5 1,2 1,2 1,3 1,3 1,2 1,4 1,5 1,5 1,0 1,-7 1,-9 1,-6 1,1 1,7 1,9 1,4 1,1 1,-2 1,-7 1,-16 1,-23 1,-21 1,-11 1,1 1,13 1,19 1,13 1,0 1,-10 1,-18 1,-20 1,-21 1,-13 1,-2 1,9 1,13 1,12 1,13 1,17 1,14 1,-1 1,-22 1,-31 1,-23 1,-2 1,16 1,26 1,26 1,19 1,11 1,4 1,-1 1,-5 1,-6 1,-5 1,0 1,5 1,9 1,9 1,-1 1,-13 1,-22 1,-18 1,-6 1,6 1,14 1,16 1,15 1,10 1,7 1,2 1,-5 1,-15 1,-15 1,-4 1,11 1,19 1,19 1,11 1,-2 1,-11 1,-14 1,-8 1,-1 1,6 1,10 1,13 1,12 1,7 1,2 1,-4 1,-2 1,5 1,8 1,0 1,-15 1,-22 1,-14 1,0 1,10 1,6 1,-1 1,2 1,15 1,24 1,23 1,12 1,0 1,-6 1,-5 1,-3" vector-effect="non-scaling-stroke"/>
<path d="M0,1826l1,-3 1,-5 1,-4 1,-2 1,1 1,4 1,5 1,4 1,-1 1,-6 1,-8 1,-7 1,-6 1,-3 1,0 1,2 1,2 1,2 1,-1 1,-4 1,-7 1,-8 1,-2 1,6 1,14 1,13 1,6 1,-4 1,-9 1,-9 1,-4 1,-1 1,3 1,6 1,6 1,0 1,-10 1,-23 1,-33 1,-30 1,-8 1,12 1,12 1,-1 1,-14 1,-15 1,-3 1,6 1,6 1,0 1,-4 1,-6 1,-3 1,0 1,5 1,11 1,17 1,19 1,11 1,5 1,6 1,11 1,8 1,-2 1,-10 1,-12 1,-11 1,-6 1,6 1,16 1,20 1,17 1,10 1,4 1,-6 1,-12 1,-12 1,-2 1,12 1,26 1,34 1,31 1,22 1,16 1,17 1,21 1,13 1,1 1,-9 1,-16 1,-13 1,-3 1,2 1,3 1,1 1,1 1,3 1,4 1,4 1,3 1,2 1,2 1,4 1,6 1,4 1,-4 1,-9 1,-13 1,-13 1,-12 1,-6 1,-2 1,0 1,4 1,10 1,9 1,3 1,-2 1,-1 1,6 1,13 1,17 1,13 1,7 1,2" vector-effect="non-scaling-stroke"/>
<path d="M0,1832l1,2 1,5 1,3 1,1 1,-2 1,-5 1,-6 1,-5 1,-3 1,0 1,-3 1,-6 1,-8 1,-8 1,-7 1,-4 1,1 1,5 1,8 1,8 1,5 1,0 1,-3 1,-4 1,-2 1,0 1,4 1,4 1,2 1,-2 1,-5 1,-6 1,-2 1,2 1,4 1,3 1,0 1,-8 1,-17 1,-18 1,-12 1,-4 1,3 1,11 1,22 1,26 1,25 1,11 1,-2 1,-10 1,-21 1,-32 1,-37 1,-38 1,-34 1,-29 1,-19 1,-2 1,15 1,18 1,18 1,15 1,12 1,12 1,13 1,15 1,21 1,17 1,-1 1,-19 1,-25 1,-19 1,-4 1,10 1,18 1,20 1,17 1,14 1,13 1,12 1,10 1,4 1,-1 1,-5 1,-8 1,-13 1,-16 1,-14 1,-5 1,4 1,11 1,11 1,14 1,18 1,21 1,21 1,16 1,10 1,6 1,1 1,1 1,-2 1,-10 1,-18 1,-24 1,-21 1,-12 1,0 1,13 1,23 1,21 1,9 1,-5 1,-13 1,-13 1,-8 1,-6 1,-8 1,-8 1,-5 1,-3 1,-2 1,-1 1,0 1,1" vector-effect="non-scaling-stroke"/>
<path d="M0,1827l1,0 1,0 1,-4 1,-9 1,-11 1,-7 1,-1 1,5 1,7 1,8 1,6 1,2 1,-3 1,-3 1,-1 1,6 1,8 1,6 1,-3 1,-9 1,-11 1,-7 1,1 1,9 1,9 1,8 1,2 1,-2 1,-2 1,1 1,2 1,-2 1,-9 1,-12 1,-20 1,-32 1,-40 1,-41 1,-38 1,-26 1,-1 1,34 1,47 1,46 1,34 1,20 1,8 1,-7 1,-22 1,-21 1,-5 1,13 1,18 1,2 1,-19 1,-34 1,-37 1,-26 1,-10 1,3 1,12 1,20 1,29 1,34 1,37 1,32 1,20 1,4 1,-9 1,-16 1,-15 1,-10 1,-3 1,2 1,7 1,15 1,21 1,20 1,11 1,-3 1,-18 1,-25 1,-24 1,-18 1,-10 1,-2 1,2 1,1 1,1 1,8 1,11 1,9 1,4 1,-2 1,-8 1,-10 1,-5 1,6 1,16 1,14 1,-1 1,-12 1,-9 1,-1 1,2 1,4 1,8 1,8 1,3 1,-7 1,-15 1,-15 1,-9 1,-6 1,-9 1,-12 1,-4 1,11 1,21 1,19 1,12 1,7 1,0 1,-7 1,-4" vector-effect="non-scaling-stroke"/>
<path d="M0,1809l1,1 1,3 1,3 1,1 1,-5 1,-10 1,-12 1,-8 1,-1 1,4 1,5 1,5 1,4 1,5 1,6 1,4 1,-3 1,-10 1,-11 1,-6 1,4 1,12 1,17 1,9 1,0 1,-6 1,-5 1,-2 1,-2 1,-3 1,-4 1,0 1,2 1,3 1,2 1,1 1,3 1,3 1,4 1,5 1,2 1,-6 1,-17 1,-15 1,3 1,15 1,7 1,-16 1,-25 1,-16 1,-9 1,-13 1,-14 1,-4 1,7 1,10 1,7 1,15 1,28 1,32 1,22 1,1 1,-16 1,-23 1,-21 1,-17 1,-14 1,-13 1,-10 1,-7 1,-8 1,-12 1,-8 1,4 1,14 1,18 1,20 1,18 1,9 1,2 1,6 1,22 1,37 1,38 1,21 1,-3 1,-18 1,-18 1,-13 1,-14 1,-9 1,5 1,14 1,10 1,0 1,-6 1,1 1,12 1,18 1,13 1,0 1,-9 1,-7 1,-1 1,2 1,1 1,4 1,12 1,14 1,7 1,-3 1,-14 1,-19 1,-9 1,10 1,24 1,19 1,1 1,-14 1,-19 1,-21 1,-26 1,-27 1,-24 1,-11" vector-effect="non-scaling-stroke"/>
<path d="M0,1838l1,-2 1,-4 1,-10 1,-15 1,-13 1,-7 1,1 1,5 1,5 1,2 1,0 1,1 1,4 1,4 1,1 1,-3 1,-4 1,-4 1,-2 1,-1 1,3 1,7 1,9 1,5 1,0 1,-4 1,-5 1,-2 1,2 1,5 1,8 1,7 1,-1 1,-12 1,-20 1,-16 1,0 1,15 1,12 1,-4 1,-21 1,-15 1,5 1,26 1,34 1,27 1,10 1,-10 1,-20 1,-16 1,-11 1,-8 1,-10 1,-15 1,-20 1,-24 1,-19 1,-6 1,6 1,8 1,6 1,6 1,15 1,22 1,22 1,13 1,2 1,-3 1,-6 1,-9 1,-6 1,4 1,15 1,15 1,6 1,-5 1,-8 1,0 1,10 1,12 1,3 1,-9 1,-16 1,-11 1,2 1,18 1,20 1,11 1,0 1,-1 1,7 1,14 1,14 1,9 1,4 1,2 1,3 1,3 1,2 1,-2 1,-7 1,-9 1,-6 1,-3 1,2 1,7 1,11 1,7 1,-2 1,-6 1,-7 1,-6 1,-5 1,0 1,4 1,5 1,5 1,11 1,17 1,17 1,11 1,4 1,2 1,4 1,3" vector-effect="non-scaling-stroke"/>
<path d="M0,1791l1,-1 1,-1 1,3 1,8 1,10 1,8 1,4 1,-1 1,-4 1,-4 1,-4 1,-2 1,-1 1,1 1,1 1,2 1,2 1,2 1,1 1,-1 1,-2 1,0 1,0 1,-2 1,-4 1,-3 1,-4 1,-2 1,-2 1,-1 1,-3 1,-3 1,-2 1,4 1,12 1,14 1,12 1,3 1,-6 1,-11 1,-8 1,-4 1,5 1,12 1,14 1,12 1,5 1,-9 1,-26 1,-33 1,-34 1,-28 1,-17 1,-5 1,-2 1,-9 1,-21 1,-23 1,-8 1,11 1,25 1,25 1,16 1,9 1,15 1,26 1,30 1,22 1,8 1,-6 1,-12 1,-13 1,-13 1,-10 1,-6 1,-3 1,-2 1,4 1,18 1,32 1,34 1,23 1,7 1,-2 1,-6 1,-9 1,-10 1,-13 1,-10 1,-6 1,-5 1,-7 1,-8 1,-8 1,-6 1,-4 1,0 1,4 1,3 1,2 1,4 1,8 1,11 1,9 1,6 1,5 1,9 1,10 1,3 1,-4 1,-2 1,10 1,17 1,8 1,-4 1,-8 1,-1 1,4 1,1 1,-10 1,-20 1,-22 1,-14 1,-4 1,0" vector-effect="non-scaling-stroke"/>
<path d="M0,1853l1,-4 1,-8 1,-9 1,-8 1,-6 1,-7 1,-5 1,-5 1,-2 1,-2 1,-1 1,1 1,3 1,3 1,2 1,2 1,2 1,2 1,3 1,2 1,0 1,-2 1,-4 1,-4 1,-5 1,-5 1,-4 1,-5 1,-4 1,-4 1,-1 1,3 1,6 1,4 1,-2 1,-11 1,-13 1,-8 1,1 1,6 1,7 1,12 1,19 1,28 1,30 1,20 1,6 1,-12 1,-26 1,-31 1,-27 1,-25 1,-24 1,-28 1,-31 1,-31 1,-29 1,-20 1,-4 1,7 1,16 1,19 1,15 1,10 1,11 1,17 1,21 1,19 1,15 1,16 1,17 1,13 1,6 1,4 1,5 1,5 1,2 1,-1 1,-2 1,-1 1,3 1,3 1,3 1,8 1,11 1,14 1,11 1,6 1,1 1,-7 1,-13 1,-13 1,-4 1,12 1,22 1,23 1,14 1,2 1,-11 1,-18 1,-13 1,0 1,6 1,1 1,-9 1,-10 1,0 1,7 1,9 1,4 1,-1 1,-2 1,-4 1,-8 1,-11 1,-10 1,-6 1,1 1,8 1,12 1,9 1,3 1,-3 1,-6 1,-4" vector-effect="non-scaling-stroke"/>
<path d="M0,1847l1,2 1,2 1,2 1,-5 1,-11 1,-14 1,-13 1,-5 1,0 1,3 1,2 1,1 1,1 1,0 1,-1 1,-1 1,2 1,4 1,2 1,-1 1,-4 1,-4 1,-2 1,-2 1,-2 1,-1 1,2 1,3 1,2 1,0 1,0 1,-2 1,-2 1,-2 1,-3 1,-10 1,-16 1,-20 1,-20 1,-9 1,9 1,24 1,20 1,8 1,-2 1,-4 1,1 1,6 1,11 1,7 1,-2 1,-10 1,-8 1,1 1,12 1,16 1,13 1,5 1,-4 1,-7 1,-5 1,-2 1,-6 1,-13 1,-15 1,-8 1,-2 1,0 1,-2 1,2 1,4 1,1 1,-3 1,-10 1,-15 1,-16 1,-7 1,5 1,16 1,22 1,23 1,23 1,22 1,20 1,12 1,1 1,-8 1,-10 1,-6 1,0 1,4 1,7 1,9 1,11 1,5 1,-5 1,-11 1,-7 1,1 1,3 1,0 1,-4 1,-3 1,-1 1,-1 1,-6 1,-12 1,-13 1,-4 1,6 1,13 1,7 1,0 1,-5 1,-1 1,11 1,19 1,15 1,3 1,-9 1,-15 1,-12 1,-5 1,0 1,0" vector-effect="non-scaling-stroke"/>
<path d="M0,1833l1,-5 1,-8 1,-4 1,1 1,0 1,-3 1,0 1,6 1,8 1,5 1,1 1,-3 1,-4 1,-6 1,-8 1,-6 1,-2 1,4 1,7 1,5 1,-1 1,-6 1,-7 1,-3 1,2 1,4 1,7 1,5 1,1 1,-5 1,-11 1,-13 1,-12 1,-13 1,-17 1,-19 1,-13 1,-2 1,11 1,26 1,39 1,38 1,13 1,-21 1,-33 1,-20 1,-3 1,-1 1,-10 1,-15 1,-6 1,13 1,23 1,10 1,-9 1,-21 1,-18 1,-4 1,16 1,20 1,5 1,-9 1,-5 1,9 1,7 1,-9 1,-22 1,-11 1,14 1,33 1,26 1,4 1,-10 1,-17 1,-17 1,-17 1,-11 1,-5 1,-2 1,2 1,11 1,20 1,23 1,18 1,5 1,-6 1,-9 1,-5 1,2 1,7 1,10 1,7 1,4 1,3 1,10 1,15 1,13 1,2 1,-9 1,-12 1,-7 1,1 1,4 1,-1 1,-8 1,-10 1,0 1,10 1,11 1,4 1,7 1,22 1,28 1,14 1,-8 1,-18 1,-12 1,-5 1,-8 1,-17 1,-21 1,-14 1,1 1,12 1,8" vector-effect="non-scaling-stroke"/>
<path d="M0,1795l1,-3 1,-6 1,-6 1,-2 1,3 1,8 1,9 1,10 1,5 1,2 1,1 1,1 1,3 1,2 1,-2 1,-6 1,-9 1,-6 1,1 1,7 1,8 1,5 1,0 1,-2 1,-3 1,1 1,3 1,4 1,-1 1,-9 1,-14 1,-11 1,-6 1,-3 1,-13 1,-37 1,-59 1,-70 1,-66 1,-41 1,10 1,57 1,73 1,64 1,50 1,36 1,22 1,10 1,5 1,6 1,0 1,-10 1,-17 1,-17 1,-11 1,-8 1,-5 1,-1 1,0 1,-3 1,-3 1,6 1,16 1,18 1,4 1,-16 1,-25 1,-18 1,-7 1,1 1,4 1,9 1,13 1,11 1,4 1,-2 1,0 1,6 1,12 1,14 1,10 1,3 1,1 1,8 1,18 1,22 1,16 1,8 1,9 1,15 1,22 1,21 1,14 1,6 1,-4 1,-10 1,-15 1,-14 1,-11 1,-7 1,-4 1,-1 1,-3 1,-7 1,-14 1,-21 1,-29 1,-32 1,-27 1,-18 1,-5 1,0 1,0 1,-2 1,-1 1,5 1,16 1,20 1,19 1,15 1,14 1,11 1,1 1,-5 1,-3" vector-effect="non-scaling-stroke"/>
<path d="M0,1818l1,2 1,2 1,-2 1,-6 1,-5 1,0 1,9 1,15 1,10 1,-3 1,-15 1,-17 1,-7 1,9 1,16 1,7 1,-7 1,-17 1,-15 1,-8 1,3 1,11 1,12 1,3 1,-6 1,-9 1,-1 1,10 1,12 1,6 1,2 1,-2 1,-9 1,-19 1,-23 1,-13 1,1 1,4 1,-5 1,-18 1,-18 1,2 1,27 1,36 1,32 1,25 1,16 1,-1 1,-19 1,-29 1,-30 1,-20 1,-4 1,6 1,-3 1,-23 1,-23 1,1 1,26 1,22 1,-3 1,-27 1,-35 1,-26 1,-11 1,-5 1,-9 1,-6 1,13 1,36 1,42 1,27 1,4 1,-4 1,4 1,10 1,3 1,-7 1,-9 1,-1 1,11 1,16 1,14 1,14 1,16 1,13 1,4 1,0 1,7 1,13 1,10 1,-2 1,-18 1,-29 1,-28 1,-24 1,-13 1,2 1,9 1,-3 1,-15 1,-9 1,11 1,27 1,24 1,5 1,-13 1,-17 1,-13 1,-17 1,-29 1,-33 1,-16 1,22 1,57 1,63 1,44 1,17 1,-8 1,-25 1,-29 1,-15 1,0 1,4 1,3" vector-effect="non-scaling-stroke"/>
<path d="M0,1786l1,4 1,8 1,5 1,0 1,-3 1,-3 1,0 1,2 1,1 1,0 1,2 1,2 1,1 1,1 1,-2 1,-4 1,-5 1,0 1,6 1,8 1,5 1,2 1,-2 1,-4 1,-5 1,-1 1,3 1,5 1,5 1,9 1,13 1,11 1,2 1,-6 1,-13 1,-12 1,-4 1,8 1,13 1,3 1,-16 1,-25 1,-13 1,9 1,23 1,23 1,13 1,2 1,-10 1,-18 1,-26 1,-31 1,-30 1,-18 1,-3 1,8 1,8 1,2 1,2 1,4 1,10 1,13 1,7 1,-2 1,-6 1,1 1,10 1,10 1,0 1,-16 1,-22 1,-9 1,12 1,24 1,19 1,11 1,14 1,18 1,11 1,-2 1,-8 1,-2 1,13 1,31 1,45 1,46 1,27 1,-1 1,-18 1,-15 1,-2 1,12 1,19 1,18 1,8 1,-3 1,-10 1,-17 1,-19 1,-19 1,-14 1,-7 1,2 1,7 1,7 1,6 1,5 1,7 1,7 1,3 1,-5 1,-14 1,-10 1,5 1,15 1,8 1,-13 1,-29 1,-22 1,2 1,24 1,26 1,16 1,4 1,-1" vector-effect="non-scaling-stroke"/>
<path d="M0,1815l1,0 1,0 1,2 1,2 1,1 1,-1 1,-3 1,-4 1,-3 1,-1 1,0 1,-1 1,-1 1,-1 1,2 1,2 1,0 1,-1 1,1 1,1 1,0 1,-1 1,2 1,3 1,3 1,2 1,2 1,2 1,1 1,-2 1,-1 1,-3 1,-7 1,-13 1,-16 1,-14 1,-8 1,-2 1,0 1,2 1,7 1,14 1,14 1,12 1,13 1,11 1,8 1,3 1,-6 1,-14 1,-19 1,-20 1,-20 1,-20 1,-22 1,-21 1,-14 1,-5 1,-1 1,-6 1,-4 1,4 1,11 1,13 1,15 1,17 1,20 1,18 1,14 1,10 1,7 1,5 1,2 1,-5 1,-15 1,-20 1,-16 1,-4 1,7 1,12 1,9 1,8 1,13 1,16 1,14 1,8 1,5 1,4 1,1 1,-4 1,-7 1,-3 1,-3 1,-5 1,-11 1,-13 1,-9 1,-2 1,8 1,16 1,17 1,10 1,-1 1,-6 1,0 1,9 1,14 1,8 1,-1 1,-8 1,-10 1,-8 1,-4 1,3 1,6 1,3 1,2 1,3 1,3 1,-2 1,-5 1,-4 1,0 1,2 1,1" vector-effect="non-scaling-stroke"/>
<path d="M0,1818l1,2 1,2 1,-1 1,-8 1,-9 1,-6 1,0 1,2 1,0 1,-1 1,-2 1,0 1,0 1,0 1,3 1,8 1,11 1,6 1,0 1,-3 1,-3 1,-2 1,-3 1,-3 1,-4 1,-3 1,-2 1,-4 1,-4 1,-3 1,-4 1,-4 1,-6 1,-7 1,-8 1,-11 1,-12 1,-10 1,-3 1,3 1,8 1,17 1,26 1,26 1,18 1,11 1,9 1,4 1,-2 1,-7 1,-10 1,-14 1,-18 1,-22 1,-30 1,-30 1,-17 1,8 1,27 1,24 1,7 1,-5 1,-5 1,4 1,18 1,31 1,34 1,21 1,-1 1,-18 1,-24 1,-21 1,-12 1,-1 1,4 1,1 1,-1 1,-1 1,2 1,0 1,-1 1,2 1,10 1,21 1,25 1,13 1,-7 1,-19 1,-17 1,-7 1,-2 1,-1 1,5 1,13 1,18 1,13 1,0 1,-8 1,-5 1,-1 1,1 1,2 1,2 1,-1 1,-7 1,-12 1,-10 1,1 1,10 1,3 1,-13 1,-21 1,-12 1,2 1,11 1,8 1,-6 1,-20 1,-23 1,-12 1,1 1,7 1,3 1,-1 1,-1" vector-effect="non-scaling-stroke"/>
<path d="M0,1813l1,-2 1,-1 1,2 1,4 1,1 1,-3 1,-2 1,2 1,4 1,2 1,-6 1,-13 1,-13 1,-5 1,4 1,7 1,3 1,-4 1,-6 1,-5 1,1 1,4 1,3 1,-2 1,-3 1,-3 1,2 1,6 1,9 1,7 1,3 1,-1 1,-2 1,-1 1,5 1,10 1,12 1,11 1,12 1,11 1,-1 1,-16 1,-25 1,-20 1,-10 1,-6 1,-7 1,-8 1,2 1,16 1,23 1,19 1,10 1,4 1,1 1,-1 1,-7 1,-14 1,-19 1,-15 1,-6 1,1 1,1 1,-3 1,-8 1,-6 1,0 1,5 1,3 1,-2 1,-12 1,-17 1,-11 1,5 1,23 1,30 1,14 1,-17 1,-36 1,-21 1,17 1,53 1,62 1,48 1,24 1,0 1,-17 1,-25 1,-21 1,-7 1,8 1,20 1,20 1,17 1,13 1,12 1,8 1,-9 1,-31 1,-36 1,-21 1,-5 1,1 1,-1 1,-3 1,-3 1,-5 1,-7 1,-6 1,-4 1,4 1,16 1,26 1,27 1,13 1,-10 1,-32 1,-41 1,-30 1,-7 1,12 1,19 1,18 1,13 1,5" vector-effect="non-scaling-stroke"/>
<path d="M0,1788l1,1 1,4 1,8 1,10 1,11 1,9 1,5 1,-3 1,-11 1,-9 1,-2 1,3 1,0 1,-6 1,-7 1,-4 1,5 1,14 1,17 1,12 1,1 1,-6 1,-6 1,-3 1,-4 1,-7 1,-10 1,-11 1,-12 1,-12 1,-2 1,11 1,21 1,23 1,10 1,-13 1,-32 1,-45 1,-46 1,-28 1,12 1,47 1,50 1,35 1,24 1,16 1,8 1,-5 1,-14 1,-15 1,-9 1,-7 1,-19 1,-41 1,-57 1,-56 1,-35 1,8 1,49 1,54 1,29 1,9 1,15 1,35 1,43 1,29 1,2 1,-19 1,-23 1,-19 1,-12 1,-3 1,6 1,9 1,12 1,13 1,12 1,3 1,-10 1,-19 1,-14 1,1 1,12 1,16 1,13 1,14 1,15 1,12 1,-2 1,-14 1,-18 1,-8 1,8 1,11 1,-3 1,-23 1,-32 1,-29 1,-23 1,-28 1,-38 1,-34 1,-12 1,14 1,29 1,35 1,33 1,21 1,9 1,4 1,9 1,16 1,13 1,0 1,-15 1,-18 1,-5 1,6 1,4 1,-7 1,-10 1,-4 1,7 1,11 1,7" vector-effect="non-scaling-stroke"/>
<path d="M0,1804l1,-2 1,-4 1,0 1,3 1,6 1,4 1,1 1,0 1,0 1,1 1,3 1,2 1,1 1,1 1,3 1,5 1,2 1,-3 1,-8 1,-10 1,-8 1,-4 1,1 1,4 1,4 1,1 1,0 1,0 1,0 1,0 1,-2 1,-1 1,-1 1,-1 1,-3 1,-6 1,-4 1,4 1,13 1,6 1,-17 1,-33 1,-26 1,0 1,24 1,33 1,18 1,-16 1,-39 1,-33 1,-14 1,4 1,16 1,13 1,2 1,-13 1,-26 1,-37 1,-38 1,-28 1,-7 1,18 1,30 1,28 1,20 1,18 1,21 1,21 1,15 1,12 1,17 1,21 1,14 1,1 1,-11 1,-13 1,-7 1,3 1,8 1,6 1,-2 1,-8 1,-1 1,13 1,20 1,16 1,5 1,-5 1,-10 1,-9 1,-4 1,0 1,4 1,6 1,7 1,4 1,-2 1,-6 1,-8 1,-8 1,-3 1,-1 1,-6 1,-16 1,-21 1,-13 1,3 1,17 1,21 1,21 1,17 1,13 1,12 1,12 1,6 1,-7 1,-14 1,-12 1,-7 1,-9 1,-17 1,-18 1,-11 1,-2 1,1" vector-effect="non-scaling-stroke"/>
<path d="M0,1781l1,4 1,11 1,12 1,11 1,10 1,7 1,5 1,0 1,-7 1,-10 1,-8 1,-2 1,2 1,3 1,2 1,-2 1,-4 1,-3 1,0 1,0 1,0 1,-2 1,-3 1,-1 1,1 1,2 1,4 1,5 1,6 1,-2 1,-15 1,-20 1,-12 1,4 1,15 1,16 1,8 1,1 1,-5 1,-10 1,-12 1,-5 1,4 1,19 1,35 1,44 1,39 1,10 1,-32 1,-60 1,-61 1,-33 1,-1 1,8 1,-12 1,-36 1,-40 1,-16 1,11 1,18 1,11 1,11 1,19 1,28 1,27 1,21 1,12 1,-3 1,-16 1,-16 1,-8 1,0 1,5 1,9 1,16 1,17 1,7 1,-4 1,-6 1,-1 1,8 1,10 1,0 1,-18 1,-27 1,-19 1,2 1,21 1,29 1,26 1,10 1,-10 1,-21 1,-18 1,-11 1,-10 1,-12 1,-17 1,-19 1,-7 1,12 1,23 1,19 1,14 1,17 1,24 1,23 1,10 1,-5 1,-10 1,-7 1,1 1,9 1,16 1,17 1,16 1,11 1,11 1,14 1,18 1,16 1,5 1,-6 1,-9 1,-6" vector-effect="non-scaling-stroke"/>
<path d="M0,1853l1,-5 1,-10 1,-9 1,-7 1,-5 1,-3 1,0 1,3 1,3 1,0 1,0 1,1 1,4 1,5 1,3 1,2 1,-1 1,-4 1,-5 1,-7 1,-5 1,-3 1,1 1,1 1,1 1,0 1,4 1,8 1,11 1,10 1,4 1,-2 1,-6 1,-9 1,-15 1,-19 1,-14 1,-3 1,9 1,13 1,14 1,14 1,8 1,-3 1,-13 1,-19 1,-16 1,-10 1,1 1,14 1,21 1,21 1,11 1,-6 1,-25 1,-34 1,-29 1,-16 1,-2 1,8 1,10 1,2 1,-9 1,-15 1,-11 1,1 1,17 1,31 1,37 1,32 1,13 1,-7 1,-17 1,-17 1,-13 1,-12 1,-11 1,-5 1,1 1,2 1,3 1,5 1,15 1,29 1,41 1,40 1,29 1,21 1,20 1,20 1,14 1,5 1,-7 1,-12 1,-7 1,1 1,3 1,3 1,5 1,2 1,-8 1,-17 1,-17 1,-9 1,-3 1,-5 1,-13 1,-19 1,-19 1,-15 1,-13 1,-17 1,-19 1,-14 1,-8 1,-5 1,-8 1,-8 1,-4 1,9 1,22 1,23 1,10 1,-3 1,-4" vector-effect="non-scaling-stroke"/>
<path d="M0,1798l1,0 1,1 1,0 1,2 1,3 1,5 1,5 1,4 1,0 1,-4 1,-4 1,-1 1,3 1,2 1,1 1,-1 1,-2 1,-2 1,-1 1,3 1,5 1,5 1,3 1,1 1,0 1,-1 1,-2 1,-6 1,-6 1,-3 1,3 1,6 1,4 1,-5 1,-22 1,-41 1,-50 1,-51 1,-46 1,-31 1,4 1,47 1,64 1,57 1,39 1,18 1,6 1,3 1,5 1,5 1,2 1,0 1,0 1,-4 1,-15 1,-26 1,-26 1,-12 1,6 1,16 1,19 1,16 1,10 1,2 1,0 1,4 1,6 1,4 1,3 1,3 1,2 1,-3 1,-14 1,-21 1,-19 1,-11 1,-5 1,1 1,9 1,18 1,20 1,9 1,-9 1,-15 1,-10 1,4 1,11 1,7 1,1 1,-6 1,-6 1,-6 1,-3 1,0 1,1 1,2 1,3 1,5 1,4 1,4 1,0 1,-4 1,-6 1,-5 1,-2 1,2 1,5 1,5 1,5 1,0 1,-3 1,-4 1,-1 1,4 1,8 1,7 1,5 1,6 1,7 1,10 1,9 1,4 1,-2 1,-7 1,-3" vector-effect="non-scaling-stroke"/>
<path d="M0,1804l1,2 1,5 1,2 1,-3 1,-4 1,-2 1,1 1,3 1,0 1,-2 1,-3 1,1 1,5 1,7 1,6 1,4 1,-1 1,-4 1,-3 1,0 1,3 1,4 1,3 1,3 1,2 1,0 1,-6 1,-9 1,-9 1,-7 1,-3 1,-1 1,2 1,4 1,11 1,14 1,13 1,4 1,-4 1,-11 1,-21 1,-24 1,-20 1,-10 1,0 1,10 1,16 1,8 1,-8 1,-19 1,-17 1,-8 1,1 1,9 1,9 1,-5 1,-25 1,-26 1,-8 1,10 1,11 1,6 1,-1 1,-7 1,-5 1,10 1,27 1,31 1,15 1,-4 1,-11 1,-5 1,-2 1,-8 1,-15 1,-11 1,5 1,21 1,32 1,34 1,24 1,7 1,-11 1,-13 1,-1 1,12 1,7 1,-4 1,-8 1,3 1,10 1,1 1,-18 1,-22 1,-3 1,14 1,13 1,-3 1,-11 1,-10 1,-8 1,-6 1,-4 1,1 1,8 1,12 1,9 1,1 1,-6 1,-9 1,-10 1,-11 1,-9 1,-6 1,3 1,16 1,25 1,20 1,11 1,6 1,3 1,-6 1,-16 1,-20 1,-10" vector-effect="non-scaling-stroke"/>
<path d="M0,1814l1,-1 1,-3 1,-3 1,-4 1,-5 1,-4 1,2 1,4 1,3 1,-1 1,-4 1,-1 1,1 1,4 1,5 1,6 1,2 1,-3 1,-4 1,-2 1,2 1,5 1,3 1,-1 1,-3 1,-4 1,-2 1,3 1,8 1,7 1,3 1,-4 1,-13 1,-18 1,-14 1,-1 1,16 1,24 1,23 1,9 1,-9 1,-22 1,-22 1,-13 1,-1 1,9 1,10 1,2 1,-7 1,-7 1,-5 1,-8 1,-17 1,-22 1,-15 1,0 1,11 1,10 1,3 1,-2 1,1 1,11 1,19 1,21 1,16 1,1 1,-12 1,-14 1,-3 1,11 1,9 1,-6 1,-18 1,-16 1,0 1,12 1,14 1,9 1,4 1,-4 1,-7 1,-3 1,5 1,11 1,11 1,9 1,10 1,17 1,17 1,13 1,3 1,-5 1,-11 1,-12 1,-6 1,3 1,8 1,9 1,4 1,-4 1,-8 1,-11 1,-12 1,-8 1,-2 1,6 1,12 1,10 1,5 1,1 1,1 1,5 1,6 1,0 1,-9 1,-11 1,-3 1,5 1,8 1,0 1,-8 1,-9 1,1 1,10 1,7" vector-effect="non-scaling-stroke"/>
<path d="M0,1844l1,-5 1,-8 1,-9 1,-6 1,-7 1,-9 1,-11 1,-6 1,6 1,13 1,12 1,6 1,1 1,3 1,5 1,3 1,-1 1,-4 1,-3 1,-2 1,0 1,-2 1,-6 1,-8 1,-6 1,-1 1,2 1,2 1,1 1,0 1,6 1,11 1,15 1,11 1,6 1,3 1,11 1,20 1,17 1,-5 1,-31 1,-38 1,-26 1,-2 1,22 1,29 1,20 1,2 1,-12 1,-16 1,-20 1,-28 1,-38 1,-45 1,-43 1,-24 1,5 1,24 1,29 1,23 1,21 1,23 1,21 1,15 1,6 1,-1 1,-9 1,-22 1,-31 1,-28 1,-14 1,9 1,28 1,36 1,28 1,13 1,3 1,5 1,13 1,18 1,16 1,12 1,9 1,4 1,-7 1,-20 1,-20 1,-3 1,19 1,26 1,11 1,-5 1,-11 1,-1 1,8 1,9 1,0 1,-8 1,-5 1,4 1,9 1,0 1,-11 1,-16 1,-13 1,-9 1,-5 1,3 1,16 1,26 1,21 1,5 1,-11 1,-16 1,-13 1,-8 1,-3 1,3 1,8 1,10 1,11 1,6 1,-8 1,-17 1,-11" vector-effect="non-scaling-stroke"/>
<path d="M0,1828l1,-1 1,-4 1,-4 1,-2 1,0 1,1 1,0 1,-2 1,-2 1,0 1,3 1,2 1,2 1,-1 1,-5 1,-5 1,-6 1,-5 1,-5 1,-5 1,-2 1,3 1,8 1,9 1,6 1,1 1,-5 1,-6 1,-5 1,-3 1,-1 1,-1 1,2 1,4 1,6 1,7 1,13 1,18 1,12 1,-9 1,-35 1,-38 1,-22 1,3 1,21 1,28 1,19 1,-6 1,-30 1,-36 1,-29 1,-18 1,-6 1,9 1,19 1,17 1,8 1,7 1,18 1,25 1,20 1,5 1,-8 1,-9 1,-5 1,2 1,1 1,-7 1,-15 1,-14 1,-7 1,1 1,4 1,0 1,-5 1,-6 1,-3 1,2 1,9 1,16 1,22 1,21 1,17 1,11 1,7 1,6 1,5 1,2 1,0 1,0 1,6 1,14 1,14 1,7 1,2 1,2 1,5 1,5 1,3 1,-2 1,-11 1,-17 1,-15 1,-6 1,4 1,9 1,9 1,1 1,-8 1,-13 1,-7 1,6 1,14 1,12 1,5 1,4 1,9 1,15 1,14 1,11 1,8 1,6 1,3 1,1 1,1" vector-effect="non-scaling-stroke"/>
<path d="M0,1845l1,-3 1,-6 1,-10 1,-11 1,-9 1,-3 1,3 1,6 1,6 1,2 1,-3 1,-7 1,-7 1,-5 1,0 1,5 1,7 1,4 1,-1 1,-3 1,-2 1,1 1,3 1,1 1,0 1,-2 1,-4 1,-4 1,-6 1,-5 1,-2 1,0 1,2 1,2 1,-7 1,-23 1,-35 1,-35 1,-29 1,-14 1,9 1,27 1,27 1,19 1,18 1,21 1,19 1,9 1,-1 1,1 1,3 1,0 1,-11 1,-26 1,-39 1,-43 1,-35 1,-20 1,-6 1,1 1,7 1,9 1,7 1,-1 1,-7 1,-3 1,11 1,24 1,30 1,24 1,13 1,7 1,10 1,17 1,15 1,0 1,-11 1,-8 1,7 1,22 1,26 1,22 1,18 1,13 1,2 1,-20 1,-36 1,-39 1,-26 1,-11 1,-2 1,-2 1,-3 1,-3 1,-5 1,-7 1,-2 1,10 1,21 1,22 1,16 1,11 1,8 1,12 1,22 1,33 1,37 1,29 1,19 1,11 1,7 1,4 1,1 1,-4 1,-9 1,-16 1,-18 1,-9 1,5 1,18 1,26 1,28 1,25 1,18 1,7" vector-effect="non-scaling-stroke"/>
<path d="M0,1818l1,-4 1,-5 1,-3 1,1 1,1 1,1 1,0 1,2 1,4 1,5 1,5 1,2 1,-5 1,-9 1,-7 1,-2 1,3 1,4 1,2 1,-2 1,-5 1,-5 1,-3 1,1 1,5 1,7 1,8 1,7 1,3 1,-2 1,-7 1,-9 1,-12 1,-16 1,-17 1,-16 1,-12 1,-6 1,-1 1,1 1,5 1,10 1,13 1,14 1,17 1,26 1,30 1,25 1,8 1,-11 1,-26 1,-33 1,-24 1,-8 1,5 1,9 1,5 1,-1 1,-1 1,4 1,9 1,8 1,-1 1,-8 1,-5 1,6 1,17 1,16 1,2 1,-16 1,-27 1,-26 1,-19 1,-13 1,-9 1,-2 1,6 1,14 1,20 1,28 1,33 1,31 1,22 1,9 1,-4 1,-18 1,-27 1,-19 1,-4 1,5 1,4 1,1 1,-1 1,-2 1,-5 1,-8 1,-6 1,2 1,10 1,10 1,3 1,-7 1,-11 1,-9 1,0 1,8 1,12 1,14 1,12 1,5 1,-4 1,-7 1,-3 1,2 1,-2 1,-5 1,-3 1,1 1,0 1,-5 1,-10 1,-10 1,-7 1,-3 1,-2" vector-effect="non-scaling-stroke"/>
<path d="M0,1825l1,-1 1,-4 1,-7 1,-8 1,-5 1,0 1,3 1,4 1,4 1,3 1,0 1,-2 1,-4 1,-6 1,-6 1,-4 1,0 1,5 1,9 1,10 1,9 1,5 1,4 1,2 1,-3 1,-8 1,-13 1,-13 1,-10 1,-3 1,1 1,2 1,3 1,6 1,11 1,18 1,25 1,31 1,30 1,19 1,1 1,-11 1,-17 1,-16 1,-11 1,-3 1,4 1,3 1,-10 1,-30 1,-42 1,-39 1,-18 1,8 1,29 1,41 1,40 1,24 1,4 1,-14 1,-21 1,-22 1,-21 1,-18 1,-7 1,13 1,29 1,28 1,16 1,8 1,9 1,10 1,4 1,-9 1,-18 1,-17 1,-4 1,14 1,21 1,11 1,-1 1,-1 1,6 1,5 1,-6 1,-13 1,-10 1,-2 1,6 1,7 1,-1 1,-10 1,-15 1,-13 1,-6 1,3 1,11 1,15 1,13 1,7 1,7 1,11 1,8 1,-1 1,-9 1,-11 1,-8 1,-2 1,4 1,6 1,6 1,6 1,2 1,-3 1,-3 1,3 1,10 1,10 1,2 1,-8 1,-11 1,-3 1,7 1,11 1,7" vector-effect="non-scaling-stroke"/>
<path d="M0,1830l1,-2 1,-3 1,-3 1,-1 1,2 1,2 1,0 1,-1 1,-3 1,-3 1,-4 1,-1 1,2 1,4 1,3 1,1 1,-2 1,-5 1,-5 1,-3 1,-1 1,1 1,0 1,-1 1,-2 1,-2 1,-1 1,-1 1,-2 1,-5 1,-5 1,-4 1,0 1,6 1,7 1,2 1,-7 1,-12 1,-12 1,-5 1,5 1,17 1,22 1,22 1,22 1,20 1,12 1,-9 1,-28 1,-35 1,-33 1,-27 1,-20 1,-12 1,-8 1,-4 1,4 1,18 1,30 1,28 1,17 1,7 1,3 1,7 1,9 1,4 1,-2 1,-6 1,-5 1,-1 1,-3 1,-6 1,-9 1,-4 1,4 1,7 1,7 1,7 1,11 1,17 1,23 1,22 1,11 1,-4 1,-15 1,-15 1,-15 1,-15 1,-15 1,-9 1,0 1,10 1,12 1,6 1,-1 1,-1 1,3 1,7 1,6 1,4 1,1 1,-1 1,-7 1,-8 1,-2 1,5 1,11 1,12 1,7 1,0 1,-6 1,-7 1,-3 1,0 1,1 1,-3 1,-7 1,-12 1,-14 1,-12 1,-4 1,3 1,7 1,4 1,1" vector-effect="non-scaling-stroke"/>
<path d="M0,1776l1,2 1,5 1,6 1,6 1,6 1,3 1,-2 1,-2 1,1 1,4 1,2 1,-2 1,-2 1,0 1,1 1,0 1,0 1,3 1,6 1,5 1,1 1,-4 1,-4 1,-2 1,-3 1,-3 1,0 1,7 1,15 1,20 1,17 1,5 1,-8 1,-19 1,-28 1,-37 1,-38 1,-30 1,-19 1,-2 1,19 1,35 1,27 1,10 1,4 1,5 1,9 1,5 1,-6 1,-17 1,-26 1,-29 1,-25 1,-23 1,-23 1,-20 1,-9 1,10 1,25 1,26 1,17 1,10 1,13 1,18 1,19 1,8 1,-9 1,-19 1,-13 1,5 1,19 1,22 1,15 1,3 1,-3 1,-5 1,-2 1,6 1,15 1,20 1,16 1,4 1,-11 1,-18 1,-13 1,2 1,17 1,17 1,4 1,-5 1,-5 1,2 1,4 1,1 1,3 1,10 1,21 1,28 1,23 1,7 1,-10 1,-16 1,-15 1,-16 1,-15 1,-14 1,-12 1,-15 1,-17 1,-16 1,-15 1,-12 1,-1 1,13 1,18 1,8 1,0 1,1 1,10 1,14 1,13 1,10 1,9 1,6 1,3" vector-effect="non-scaling-stroke"/>
<path d="M0,1804l1,-1 1,1 1,2 1,5 1,5 1,4 1,2 1,1 1,0 1,0 1,-2 1,-3 1,-3 1,-3 1,-3 1,-3 1,-2 1,-2 1,-2 1,-1 1,-1 1,0 1,2 1,4 1,6 1,7 1,4 1,-1 1,-7 1,-10 1,-8 1,-4 1,-1 1,5 1,6 1,0 1,-10 1,-18 1,-21 1,-15 1,-3 1,14 1,24 1,27 1,27 1,26 1,20 1,6 1,-10 1,-21 1,-24 1,-20 1,-17 1,-18 1,-21 1,-25 1,-23 1,-11 1,7 1,22 1,28 1,26 1,18 1,15 1,18 1,23 1,17 1,4 1,-7 1,-15 1,-17 1,-14 1,-7 1,4 1,9 1,10 1,11 1,10 1,5 1,-6 1,-17 1,-19 1,-11 1,-1 1,3 1,1 1,-1 1,-1 1,0 1,3 1,6 1,8 1,7 1,3 1,4 1,7 1,9 1,3 1,-4 1,-5 1,1 1,11 1,18 1,16 1,8 1,-1 1,-6 1,-5 1,-2 1,2 1,4 1,3 1,-3 1,-10 1,-16 1,-14 1,-5 1,9 1,19 1,18 1,7 1,-3 1,-7 1,-5 1,-3" vector-effect="non-scaling-stroke"/>
<path d="M0,1808l1,0 1,2 1,4 1,1 1,-1 1,-6 1,-9 1,-8 1,-2 1,4 1,6 1,6 1,4 1,6 1,8 1,5 1,-1 1,-6 1,-7 1,-7 1,-8 1,-5 1,-1 1,6 1,9 1,11 1,9 1,2 1,-9 1,-16 1,-16 1,-6 1,3 1,2 1,-10 1,-20 1,-18 1,-13 1,-20 1,-34 1,-25 1,2 1,37 1,64 1,71 1,48 1,10 1,-22 1,-27 1,-10 1,7 1,6 1,-9 1,-17 1,-4 1,19 1,27 1,14 1,-2 1,-3 1,13 1,24 1,11 1,-16 1,-37 1,-34 1,-17 1,-6 1,-8 1,-9 1,-1 1,11 1,10 1,-2 1,-10 1,-6 1,3 1,12 1,26 1,35 1,27 1,7 1,-2 1,7 1,23 1,29 1,16 1,8 1,12 1,17 1,7 1,-15 1,-33 1,-35 1,-22 1,2 1,19 1,18 1,7 1,-2 1,-4 1,-3 1,-3 1,-10 1,-21 1,-27 1,-23 1,-12 1,1 1,10 1,12 1,10 1,9 1,8 1,3 1,-7 1,-13 1,-12 1,-4 1,3 1,-2 1,-9 1,-7 1,3 1,5" vector-effect="non-scaling-stroke"/>
<path d="M0,1810l1,1 1,3 1,3 1,2 1,3 1,4 1,7 1,4 1,-3 1,-12 1,-12 1,-6 1,3 1,4 1,0 1,-5 1,-6 1,-5 1,-2 1,2 1,7 1,12 1,12 1,5 1,-4 1,-12 1,-16 1,-15 1,-12 1,-9 1,-2 1,9 1,21 1,25 1,20 1,13 1,7 1,4 1,-3 1,-11 1,-17 1,-15 1,-16 1,-22 1,-19 1,-8 1,3 1,6 1,9 1,13 1,8 1,-5 1,-15 1,-9 1,9 1,23 1,15 1,-6 1,-18 1,-5 1,16 1,23 1,10 1,2 1,4 1,7 1,3 1,-7 1,-10 1,2 1,20 1,23 1,3 1,-18 1,-23 1,-11 1,5 1,19 1,25 1,15 1,-8 1,-26 1,-28 1,-16 1,0 1,13 1,15 1,6 1,-3 1,2 1,20 1,27 1,15 1,-6 1,-27 1,-45 1,-51 1,-27 1,18 1,50 1,48 1,27 1,8 1,2 1,5 1,7 1,3 1,1 1,5 1,7 1,5 1,2 1,-6 1,-16 1,-16 1,-5 1,5 1,11 1,11 1,11 1,19 1,29 1,37 1,30 1,13" vector-effect="non-scaling-stroke"/>
<path d="M0,1829l1,0 1,-2 1,-3 1,-5 1,-7 1,-6 1,-2 1,2 1,3 1,4 1,6 1,7 1,6 1,0 1,-6 1,-11 1,-10 1,-6 1,2 1,6 1,8 1,6 1,1 1,-2 1,-4 1,-3 1,1 1,6 1,10 1,8 1,1 1,-11 1,-18 1,-16 1,-6 1,4 1,4 1,-5 1,-13 1,-10 1,-2 1,2 1,-6 1,-15 1,-15 1,-3 1,13 1,20 1,15 1,6 1,6 1,14 1,19 1,6 1,-25 1,-46 1,-40 1,-13 1,11 1,19 1,20 1,19 1,13 1,2 1,-10 1,-14 1,-8 1,-9 1,-13 1,-14 1,-5 1,3 1,7 1,9 1,13 1,13 1,12 1,13 1,18 1,18 1,12 1,7 1,12 1,19 1,22 1,15 1,0 1,-18 1,-24 1,-8 1,14 1,22 1,10 1,-6 1,-15 1,-12 1,-4 1,5 1,7 1,3 1,-5 1,-6 1,2 1,12 1,16 1,15 1,7 1,-3 1,-10 1,-11 1,-9 1,-5 1,2 1,15 1,23 1,23 1,17 1,10 1,2 1,-6 1,-6 1,2 1,10 1,11 1,5" vector-effect="non-scaling-stroke"/>
<path d="M0,1818l1,1 1,1 1,0 1,-1 1,-1 1,0 1,3 1,5 1,4 1,0 1,-4 1,-5 1,-4 1,-2 1,-1 1,-1 1,-3 1,-5 1,-3 1,0 1,4 1,4 1,1 1,0 1,1 1,2 1,1 1,-3 1,-5 1,-4 1,2 1,5 1,2 1,-4 1,-12 1,-16 1,-14 1,-3 1,7 1,11 1,11 1,11 1,8 1,5 1,0 1,-3 1,-5 1,-10 1,-17 1,-23 1,-26 1,-18 1,-6 1,8 1,18 1,17 1,13 1,9 1,9 1,10 1,9 1,6 1,2 1,-2 1,-1 1,3 1,8 1,10 1,10 1,12 1,13 1,9 1,-2 1,-12 1,-18 1,-12 1,-2 1,7 1,9 1,10 1,10 1,5 1,-4 1,-11 1,-13 1,-7 1,2 1,8 1,9 1,1 1,-9 1,-13 1,-9 1,-3 1,1 1,4 1,5 1,6 1,4 1,-1 1,-6 1,-4 1,5 1,17 1,22 1,20 1,15 1,6 1,-3 1,-11 1,-17 1,-17 1,-8 1,7 1,21 1,26 1,19 1,9 1,3 1,0 1,-2 1,-1 1,5 1,11 1,9" vector-effect="non-scaling-stroke"/>
<path d="M0,1817l1,-1 1,-6 1,-9 1,-9 1,-6 1,-2 1,-1 1,1 1,5 1,8 1,9 1,9 1,5 1,1 1,0 1,-4 1,-8 1,-11 1,-7 1,-1 1,5 1,6 1,3 1,0 1,-2 1,-1 1,1 1,6 1,9 1,12 1,6 1,-7 1,-22 1,-30 1,-35 1,-35 1,-31 1,-24 1,-19 1,-18 1,-3 1,24 1,50 1,59 1,49 1,31 1,21 1,19 1,19 1,12 1,-6 1,-17 1,-14 1,-3 1,0 1,-8 1,-20 1,-29 1,-31 1,-31 1,-21 1,-2 1,23 1,38 1,38 1,28 1,15 1,6 1,0 1,-6 1,-16 1,-28 1,-33 1,-21 1,0 1,18 1,23 1,18 1,6 1,-8 1,-16 1,-13 1,2 1,27 1,53 1,61 1,44 1,13 1,-10 1,-20 1,-21 1,-18 1,-14 1,-10 1,-10 1,-12 1,-15 1,-13 1,-2 1,11 1,18 1,15 1,2 1,-3 1,-1 1,3 1,0 1,-6 1,-10 1,-14 1,-14 1,-11 1,-7 1,-6 1,-10 1,-16 1,-20 1,-19 1,-14 1,-5 1,8 1,18 1,14 1,5 1,0" vector-effect="non-scaling-stroke"/>
<path d="M0,1811l1,-1 1,-1 1,0 1,2 1,-1 1,-2 1,-4 1,-2 1,-1 1,1 1,1 1,2 1,1 1,0 1,0 1,2 1,3 1,3 1,3 1,1 1,-1 1,-2 1,-3 1,-2 1,-1 1,0 1,-2 1,-3 1,-5 1,-2 1,2 1,5 1,4 1,2 1,-4 1,-13 1,-22 1,-28 1,-27 1,-20 1,-10 1,3 1,17 1,34 1,51 1,56 1,36 1,-7 1,-36 1,-35 1,-18 1,-5 1,1 1,0 1,-2 1,-3 1,-1 1,2 1,0 1,-2 1,-4 1,-1 1,2 1,4 1,4 1,2 1,-4 1,-9 1,-9 1,-4 1,1 1,3 1,4 1,5 1,4 1,3 1,2 1,6 1,9 1,12 1,12 1,12 1,9 1,8 1,6 1,4 1,1 1,-2 1,-2 1,0 1,1 1,2 1,1 1,2 1,1 1,-1 1,-3 1,-6 1,-8 1,-8 1,-3 1,0 1,3 1,4 1,4 1,6 1,11 1,17 1,18 1,13 1,6 1,4 1,-1 1,-6 1,-8 1,-8 1,-7 1,-6 1,-4 1,-1 1,7 1,15 1,20 1,19 1,9" vector-effect="non-scaling-stroke"/>
<path d="M0,1793l1,2 1,3 1,4 1,5 1,3 1,2 1,-2 1,-4 1,-2 1,1 1,6 1,10 1,11 1,6 1,0 1,-8 1,-13 1,-14 1,-10 1,-3 1,5 1,10 1,6 1,0 1,-4 1,-6 1,-7 1,-9 1,-9 1,-5 1,-1 1,3 1,7 1,9 1,0 1,-17 1,-30 1,-41 1,-51 1,-44 1,-6 1,42 1,66 1,60 1,45 1,34 1,32 1,14 1,-15 1,-38 1,-46 1,-37 1,-19 1,-2 1,9 1,3 1,-17 1,-29 1,-21 1,-6 1,6 1,14 1,18 1,15 1,16 1,19 1,20 1,13 1,5 1,4 1,9 1,13 1,12 1,8 1,2 1,-2 1,1 1,3 1,0 1,-7 1,-7 1,6 1,29 1,48 1,53 1,37 1,6 1,-17 1,-16 1,-5 1,1 1,0 1,-2 1,-1 1,2 1,5 1,11 1,14 1,11 1,1 1,-2 1,2 1,7 1,-4 1,-25 1,-45 1,-49 1,-34 1,-9 1,13 1,24 1,23 1,16 1,-1 1,-18 1,-29 1,-25 1,-11 1,7 1,19 1,24 1,25 1,20 1,11 1,4" vector-effect="non-scaling-stroke"/>
<path d="M0,1796l1,4 1,6 1,3 1,-1 1,-1 1,0 1,3 1,3 1,3 1,1 1,0 1,-2 1,-3 1,-2 1,0 1,0 1,0 1,-4 1,-6 1,-5 1,-2 1,2 1,5 1,7 1,5 1,2 1,0 1,0 1,0 1,-1 1,-5 1,-9 1,-11 1,-11 1,-8 1,-6 1,0 1,3 1,-3 1,-10 1,-4 1,22 1,41 1,43 1,29 1,6 1,-18 1,-38 1,-45 1,-33 1,-13 1,3 1,3 1,1 1,4 1,8 1,3 1,-9 1,-18 1,-14 1,-5 1,2 1,3 1,3 1,2 1,-1 1,-3 1,2 1,9 1,13 1,8 1,1 1,2 1,10 1,15 1,8 1,-3 1,-9 1,-4 1,7 1,14 1,17 1,14 1,17 1,26 1,32 1,25 1,12 1,6 1,4 1,3 1,1 1,0 1,1 1,5 1,9 1,10 1,7 1,3 1,2 1,2 1,0 1,-4 1,-5 1,-10 1,-17 1,-26 1,-28 1,-25 1,-20 1,-10 1,1 1,8 1,8 1,8 1,7 1,5 1,0 1,-2 1,-1 1,0 1,0 1,-6 1,-8 1,-6" vector-effect="non-scaling-stroke"/>
<path d="M0,1796l1,2 1,5 1,7 1,4 1,0 1,-5 1,-7 1,-3 1,2 1,5 1,5 1,1 1,-2 1,-3 1,-3 1,-3 1,-2 1,0 1,1 1,4 1,5 1,5 1,1 1,-1 1,-3 1,-2 1,-3 1,-3 1,-3 1,-2 1,1 1,3 1,2 1,0 1,-6 1,-13 1,-15 1,-15 1,-10 1,-6 1,2 1,15 1,23 1,22 1,13 1,4 1,-5 1,-10 1,-8 1,1 1,5 1,2 1,-7 1,-11 1,-6 1,0 1,5 1,8 1,10 1,9 1,9 1,8 1,10 1,9 1,2 1,-7 1,-17 1,-21 1,-13 1,1 1,11 1,10 1,6 1,4 1,4 1,6 1,10 1,15 1,14 1,16 1,20 1,22 1,18 1,10 1,4 1,3 1,3 1,0 1,-4 1,-12 1,-21 1,-20 1,-10 1,0 1,1 1,-3 1,-5 1,0 1,4 1,2 1,-3 1,-6 1,-10 1,-14 1,-13 1,-5 1,3 1,7 1,4 1,-3 1,-12 1,-12 1,-2 1,9 1,7 1,-3 1,-7 1,-3 1,4 1,7 1,6 1,6 1,9 1,9 1,4" vector-effect="non-scaling-stroke"/>
<path d="M0,1807l1,-1 1,-2 1,-3 1,-2 1,-2 1,0 1,2 1,3 1,2 1,1 1,3 1,6 1,6 1,4 1,0 1,-3 1,-4 1,-2 1,1 1,1 1,1 1,-1 1,-2 1,-3 1,-4 1,-4 1,-3 1,0 1,2 1,3 1,2 1,-1 1,-1 1,-4 1,-12 1,-22 1,-31 1,-36 1,-35 1,-26 1,2 1,32 1,49 1,48 1,34 1,15 1,-1 1,-11 1,-13 1,-9 1,-7 1,-5 1,-5 1,-4 1,-7 1,-10 1,-10 1,-6 1,-2 1,-4 1,-3 1,1 1,4 1,8 1,10 1,12 1,10 1,6 1,10 1,20 1,26 1,26 1,16 1,5 1,-4 1,-2 1,5 1,7 1,3 1,-5 1,-12 1,-18 1,-20 1,-20 1,-16 1,-12 1,-4 1,4 1,10 1,9 1,8 1,5 1,6 1,5 1,3 1,-1 1,0 1,8 1,15 1,13 1,2 1,-6 1,-7 1,-3 1,-1 1,0 1,4 1,5 1,2 1,-5 1,-7 1,-6 1,-2 1,-3 1,0 1,5 1,14 1,17 1,14 1,11 1,11 1,14 1,15 1,12 1,6" vector-effect="non-scaling-stroke"/>
<path d="M0,1811l1,2 1,4 1,4 1,2 1,1 1,-2 1,-3 1,-4 1,-4 1,-2 1,1 1,6 1,6 1,2 1,-4 1,-3 1,-1 1,0 1,-2 1,-3 1,-5 1,-7 1,-9 1,-10 1,-6 1,-7 1,-7 1,-7 1,-2 1,2 1,7 1,13 1,15 1,13 1,2 1,-14 1,-23 1,-20 1,-16 1,-16 1,-16 1,-9 1,-2 1,10 1,26 1,36 1,34 1,11 1,-7 1,-6 1,4 1,10 1,8 1,-5 1,-15 1,-16 1,-9 1,0 1,4 1,4 1,7 1,9 1,4 1,-9 1,-18 1,-17 1,-8 1,2 1,6 1,6 1,3 1,1 1,-1 1,0 1,5 1,9 1,8 1,6 1,2 1,2 1,10 1,17 1,15 1,11 1,10 1,11 1,12 1,8 1,1 1,-10 1,-21 1,-23 1,-20 1,-10 1,-2 1,2 1,0 1,0 1,0 1,0 1,-5 1,-7 1,-5 1,5 1,17 1,19 1,15 1,16 1,19 1,19 1,13 1,5 1,2 1,-3 1,-7 1,-12 1,-10 1,-5 1,0 1,3 1,0 1,-5 1,-10 1,-10 1,-4" vector-effect="non-scaling-stroke"/>
<path d="M0,1829l1,-1 1,-2 1,-1 1,-1 1,-5 1,-6 1,-4 1,0 1,3 1,5 1,5 1,3 1,-3 1,-4 1,0 1,4 1,3 1,-1 1,-5 1,-3 1,-3 1,-2 1,-1 1,0 1,3 1,3 1,3 1,2 1,4 1,6 1,3 1,-2 1,-11 1,-14 1,-16 1,-12 1,-6 1,-8 1,-23 1,-30 1,-2 1,39 1,53 1,25 1,-11 1,-27 1,-15 1,3 1,14 1,17 1,17 1,13 1,-2 1,-30 1,-58 1,-62 1,-36 1,1 1,23 1,29 1,32 1,45 1,49 1,33 1,7 1,-10 1,-8 1,3 1,8 1,5 1,-2 1,-4 1,0 1,9 1,16 1,8 1,-8 1,-19 1,-15 1,-4 1,6 1,7 1,6 1,11 1,28 1,44 1,37 1,15 1,-6 1,-13 1,-6 1,2 1,10 1,11 1,10 1,3 1,-9 1,-25 1,-34 1,-25 1,-2 1,15 1,19 1,13 1,2 1,-8 1,-12 1,-8 1,-4 1,-2 1,-1 1,-1 1,-3 1,-6 1,-8 1,-8 1,-8 1,-8 1,-8 1,-1 1,9 1,19 1,26 1,23 1,11" vector-effect="non-scaling-stroke"/>
<path d="M0,1846l1,2 1,1 1,-2 1,-6 1,-7 1,-8 1,-11 1,-12 1,-7 1,1 1,10 1,13 1,10 1,4 1,-1 1,-6 1,-10 1,-15 1,-14 1,-7 1,3 1,9 1,10 1,4 1,0 1,-3 1,-3 1,-2 1,-1 1,2 1,8 1,13 1,10 1,3 1,-5 1,-10 1,-13 1,-16 1,-19 1,-17 1,3 1,35 1,51 1,42 1,15 1,-10 1,-24 1,-21 1,-9 1,-1 1,-10 1,-26 1,-35 1,-29 1,-16 1,-9 1,-10 1,-9 1,-1 1,5 1,7 1,9 1,14 1,22 1,17 1,4 1,-5 1,1 1,15 1,20 1,16 1,11 1,11 1,13 1,8 1,-8 1,-21 1,-20 1,-4 1,14 1,15 1,3 1,-18 1,-34 1,-33 1,-20 1,-3 1,11 1,24 1,29 1,27 1,23 1,16 1,6 1,-9 1,-19 1,-22 1,-18 1,-9 1,9 1,30 1,41 1,34 1,16 1,-5 1,-23 1,-29 1,-24 1,-15 1,-7 1,2 1,17 1,28 1,23 1,5 1,-14 1,-26 1,-29 1,-22 1,-8 1,4 1,8 1,6 1,2 1,1" vector-effect="non-scaling-stroke"/>
</g>
<line x1="1273.7" y1="451.8" x2="1712.3" y2="451.8" stroke="#000" stroke-width="1.8"/>
<line x1="1273.7" y1="451.8" x2="1273.7" y2="455.3" stroke="#000" stroke-width="1.8"/>
<line x1="1493" y1="451.8" x2="1493" y2="455.3" stroke="#000" stroke-width="1.8"/>
<line x1="1712.3" y1="451.8" x2="1712.3" y2="455.3" stroke="#000" stroke-width="1.8"/>
<polyline points="1273.7,453.6 1277.2,453.6 1280.7,453.5 1284.2,453.4 1287.7,453.3 1291.2,453.3 1294.7,453.2 1298.2,453.1 1301.8,453.1 1305.3,453 1308.8,452.9 1312.3,452.8 1315.8,452.8 1319.3,452.7 1322.8,452.6 1326.3,452.5 1329.8,452.5 1333.3,452.4 1336.8,452.3 1340.3,452.2 1343.9,452.2 1347.4,452.1 1350.9,452 1354.4,451.9 1357.9,451.9 1361.4,451.8 1364.9,451.6 1368.4,451.5 1371.9,451.4 1375.4,451.2 1378.9,451.1 1382.5,450.9 1386,450.8 1389.5,450.6 1393,450.3 1396.5,449.2 1400,446.8 1403.5,443.5 1407,440.2 1410.5,436.8 1414,434 1417.5,433.3 1421,435.8 1424.6,440 1428.1,444.5 1431.6,449 1435.1,453.4 1438.6,456.9 1442.1,457.7 1445.6,455.7 1449.1,452.9 1452.6,450 1456.1,447 1459.6,444.1 1463.2,441.1 1466.7,438.2 1470.2,435.3 1473.7,432.8 1477.2,431.9 1480.7,432.7 1484.2,434.2 1487.7,435.8 1491.2,437.4 1494.7,439 1498.2,440.5 1501.8,442.1 1505.3,443.7 1508.8,445.1 1512.3,445.9 1515.8,446.3 1519.3,446.6 1522.8,446.9 1526.3,447.2 1529.8,447.4 1533.3,447.7 1536.8,448 1540.3,448.4 1543.9,449.3 1547.4,450.9 1550.9,452.9 1554.4,455 1557.9,457.1 1561.4,459.2 1564.9,461.2 1568.4,463.3 1571.9,465.3 1575.4,467 1578.9,467.8 1582.5,467.9 1586,467.9 1589.5,467.8 1593,467.8 1596.5,467.8 1600,467.7 1603.5,467.7 1607,467.6 1610.5,467.6 1614,467.5 1617.5,467.5 1621.1,467.4 1624.6,467.4 1628.1,467.3 1631.6,467.2 1635.1,466.9 1638.6,466.5 1642.1,465.9 1645.6,465.4 1649.1,464.8 1652.6,464.3 1656.1,463.7 1659.6,463.3 1663.2,463 1666.7,463 1670.2,463.1 1673.7,463.2 1677.2,463.3 1680.7,463.4 1684.2,463.5 1687.7,463.6 1691.2,463.7 1694.7,463.8 1698.2,463.9 1701.8,464 1705.3,464.1 1708.8,464.2 1712.3,464.3" fill="none" stroke="#000" stroke-width="6" stroke-linejoin="round" stroke-linecap="round"/>
<text x="1536" y="625.0" font-size="28" text-anchor="middle" >Scrambled Face ERPs</text>
<line x1="1360.6" y1="619.6" x2="1360.6" y2="827.6" stroke="#000" stroke-width="2"/>
<line x1="1357" y1="649.7" x2="1360.6" y2="649.7" stroke="#000" stroke-width="1.8"/>
<line x1="1357" y1="797.1" x2="1360.6" y2="797.1" stroke="#000" stroke-width="1.8"/>
<g fill="none" stroke="#2ca02c" stroke-width="1.5" stroke-opacity="0.5" stroke-linejoin="round" transform="matrix(3.5088 0 0 0.25 1273.68 0)">
<path d="M0,2898l1,-1 1,-3 1,-3 1,-1 1,-1 1,-1 1,-1 1,4 1,7 1,5 1,-1 1,-6 1,-6 1,-3 1,2 1,7 1,8 1,4 1,0 1,-3 1,-5 1,-5 1,-5 1,-1 1,2 1,2 1,-2 1,-8 1,-13 1,-11 1,2 1,14 1,19 1,12 1,-1 1,-11 1,-18 1,-16 1,-5 1,7 1,9 1,-4 1,-26 1,-35 1,-26 1,-7 1,11 1,13 1,-2 1,-26 1,-45 1,-50 1,-35 1,-4 1,26 1,41 1,40 1,25 1,6 1,-4 1,-1 1,9 1,10 1,-3 1,-16 1,-14 1,0 1,12 1,6 1,-9 1,-18 1,-11 1,3 1,7 1,-2 1,-12 1,-13 1,-2 1,14 1,29 1,40 1,46 1,46 1,33 1,13 1,-3 1,-9 1,-12 1,-15 1,-11 1,-4 1,-2 1,-10 1,-13 1,-4 1,12 1,18 1,8 1,-3 1,-3 1,9 1,17 1,12 1,0 1,-1 1,8 1,15 1,7 1,-5 1,-8 1,-1 1,1 1,-7 1,-16 1,-15 1,-6 1,1 1,3 1,0 1,-3 1,1 1,4 1,1 1,-4 1,-4" vector-effect="non-scaling-stroke"/>
<path d="M0,2910l1,-3 1,-5 1,-1 1,4 1,5 1,4 1,2 1,4 1,6 1,7 1,4 1,-1 1,-8 1,-12 1,-9 1,-5 1,-1 1,2 1,4 1,6 1,5 1,0 1,-3 1,-4 1,-2 1,2 1,-1 1,-5 1,-10 1,-13 1,-12 1,-7 1,3 1,10 1,7 1,0 1,0 1,5 1,0 1,-20 1,-36 1,-33 1,-12 1,3 1,5 1,-3 1,-8 1,-1 1,11 1,16 1,11 1,2 1,1 1,7 1,7 1,-2 1,-12 1,-7 1,4 1,9 1,3 1,-2 1,-1 1,9 1,21 1,27 1,25 1,14 1,-4 1,-14 1,-11 1,1 1,6 1,4 1,-1 1,-10 1,-23 1,-34 1,-28 1,-13 1,-4 1,-6 1,-8 1,0 1,13 1,18 1,17 1,17 1,22 1,22 1,11 1,-4 1,-16 1,-17 1,-11 1,-1 1,8 1,8 1,-1 1,-9 1,2 1,18 1,23 1,6 1,-7 1,-5 1,9 1,17 1,18 1,14 1,13 1,14 1,10 1,-2 1,-13 1,-12 1,3 1,20 1,20 1,1 1,-16 1,-14 1,5 1,20 1,12" vector-effect="non-scaling-stroke"/>
<path d="M0,2868l1,2 1,7 1,8 1,9 1,10 1,7 1,4 1,-2 1,-5 1,-4 1,-3 1,-4 1,-9 1,-10 1,-5 1,4 1,10 1,7 1,2 1,0 1,-1 1,-1 1,-3 1,-1 1,3 1,7 1,7 1,0 1,-7 1,-12 1,-9 1,-6 1,-7 1,-13 1,-24 1,-37 1,-47 1,-56 1,-52 1,-27 1,10 1,36 1,37 1,30 1,25 1,8 1,-25 1,-38 1,-23 1,-2 1,11 1,14 1,19 1,23 1,14 1,0 1,1 1,18 1,34 1,30 1,14 1,4 1,5 1,6 1,0 1,-5 1,-1 1,10 1,8 1,-3 1,-8 1,0 1,13 1,16 1,13 1,11 1,13 1,15 1,16 1,10 1,-2 1,-13 1,-18 1,-19 1,-21 1,-18 1,-7 1,12 1,29 1,33 1,25 1,17 1,12 1,5 1,-10 1,-27 1,-36 1,-32 1,-21 1,-3 1,12 1,13 1,3 1,-3 1,5 1,17 1,20 1,14 1,8 1,6 1,-1 1,-14 1,-24 1,-24 1,-15 1,-10 1,-5 1,-1 1,4 1,5 1,6 1,11 1,14 1,12 1,6" vector-effect="non-scaling-stroke"/>
<path d="M0,2894l1,1 1,3 1,3 1,2 1,0 1,-1 1,-4 1,-4 1,-2 1,1 1,3 1,1 1,-3 1,-5 1,-3 1,2 1,5 1,1 1,-2 1,-6 1,-3 1,2 1,3 1,1 1,-1 1,-2 1,2 1,3 1,5 1,4 1,2 1,-3 1,-7 1,-10 1,-15 1,-16 1,-14 1,-11 1,-8 1,-7 1,-1 1,8 1,14 1,13 1,6 1,-2 1,-8 1,-14 1,-13 1,-8 1,-1 1,-2 1,-9 1,-11 1,-5 1,4 1,8 1,11 1,16 1,20 1,14 1,1 1,-13 1,-18 1,-16 1,-7 1,-1 1,2 1,7 1,9 1,10 1,6 1,5 1,9 1,17 1,21 1,18 1,9 1,0 1,-5 1,-4 1,2 1,11 1,17 1,15 1,6 1,-1 1,-2 1,1 1,5 1,2 1,1 1,2 1,3 1,6 1,8 1,9 1,6 1,1 1,2 1,10 1,14 1,14 1,12 1,10 1,2 1,-9 1,-18 1,-19 1,-17 1,-16 1,-13 1,-11 1,-8 1,-6 1,-5 1,-3 1,-1 1,0 1,2 1,3 1,5 1,7 1,8 1,6" vector-effect="non-scaling-stroke"/>
<path d="M0,2892l1,-1 1,-1 1,-2 1,2 1,4 1,6 1,4 1,2 1,2 1,-2 1,-4 1,-6 1,-3 1,1 1,3 1,1 1,-4 1,-6 1,-5 1,2 1,9 1,9 1,2 1,-5 1,-6 1,-3 1,3 1,5 1,5 1,3 1,-1 1,-3 1,1 1,3 1,0 1,-11 1,-22 1,-24 1,-14 1,0 1,1 1,-16 1,-31 1,-34 1,-16 1,4 1,10 1,13 1,13 1,5 1,-18 1,-42 1,-47 1,-31 1,-12 1,6 1,26 1,40 1,39 1,23 1,7 1,2 1,9 1,14 1,10 1,5 1,11 1,25 1,34 1,28 1,14 1,7 1,5 1,0 1,-11 1,-23 1,-24 1,-20 1,-9 1,5 1,16 1,17 1,11 1,9 1,16 1,19 1,8 1,-12 1,-25 1,-17 1,0 1,13 1,12 1,9 1,9 1,11 1,10 1,1 1,-5 1,-4 1,4 1,7 1,5 1,-2 1,-10 1,-20 1,-28 1,-24 1,-7 1,13 1,26 1,28 1,26 1,17 1,5 1,-6 1,-7 1,-2 1,-3 1,-13 1,-29 1,-41 1,-40 1,-31 1,-13" vector-effect="non-scaling-stroke"/>
<path d="M0,2892l1,-1 1,0 1,0 1,3 1,4 1,3 1,-2 1,-3 1,-1 1,2 1,3 1,2 1,-3 1,-4 1,-2 1,1 1,1 1,-3 1,-2 1,0 1,2 1,2 1,2 1,1 1,1 1,-1 1,-3 1,-5 1,-6 1,-7 1,-5 1,-3 1,-2 1,-2 1,-3 1,0 1,6 1,13 1,15 1,10 1,-2 1,-12 1,-20 1,-20 1,-15 1,-10 1,-16 1,-29 1,-40 1,-45 1,-38 1,-21 1,-5 1,3 1,-2 1,-1 1,11 1,28 1,33 1,28 1,16 1,6 1,-2 1,-7 1,-6 1,7 1,25 1,39 1,41 1,35 1,24 1,14 1,3 1,-4 1,-3 1,2 1,6 1,5 1,5 1,8 1,8 1,0 1,-9 1,-16 1,-18 1,-12 1,-1 1,8 1,12 1,10 1,6 1,0 1,-3 1,-5 1,-5 1,-4 1,-2 1,-1 1,-1 1,1 1,12 1,21 1,20 1,5 1,-12 1,-16 1,-2 1,12 1,18 1,11 1,-1 1,-7 1,-8 1,-2 1,3 1,5 1,0 1,-3 1,-6 1,-7 1,-7 1,-7 1,-5 1,-5 1,-3" vector-effect="non-scaling-stroke"/>
<path d="M0,2905l1,-2 1,-1 1,2 1,5 1,6 1,5 1,2 1,1 1,1 1,-1 1,-3 1,-7 1,-8 1,-9 1,-8 1,-5 1,-4 1,-5 1,-2 1,5 1,12 1,12 1,7 1,-2 1,-9 1,-10 1,-6 1,1 1,6 1,10 1,9 1,2 1,-2 1,-5 1,-9 1,-13 1,-17 1,-16 1,-12 1,-3 1,-1 1,0 1,1 1,1 1,-2 1,-15 1,-34 1,-28 1,-5 1,9 1,8 1,-3 1,-8 1,-8 1,-6 1,1 1,8 1,10 1,9 1,5 1,5 1,10 1,15 1,11 1,0 1,-11 1,-6 1,6 1,12 1,6 1,-3 1,-1 1,6 1,10 1,6 1,2 1,3 1,7 1,11 1,9 1,6 1,4 1,2 1,1 1,2 1,8 1,12 1,12 1,11 1,10 1,2 1,-13 1,-25 1,-23 1,-5 1,17 1,32 1,37 1,31 1,20 1,6 1,-4 1,-14 1,-18 1,-19 1,-15 1,-10 1,-3 1,-2 1,-5 1,-10 1,-11 1,-7 1,-5 1,-8 1,-11 1,-7 1,2 1,9 1,11 1,12 1,17 1,18 1,12 1,4" vector-effect="non-scaling-stroke"/>
<path d="M0,2875l1,0 1,4 1,11 1,16 1,15 1,6 1,-3 1,-8 1,-10 1,-8 1,-3 1,2 1,4 1,-1 1,-6 1,-8 1,-4 1,-1 1,-2 1,-6 1,-9 1,-4 1,4 1,6 1,6 1,5 1,6 1,6 1,3 1,1 1,1 1,2 1,-1 1,-3 1,1 1,14 1,24 1,22 1,4 1,-13 1,-23 1,-28 1,-38 1,-49 1,-46 1,-24 1,1 1,15 1,16 1,2 1,-15 1,-28 1,-24 1,-5 1,9 1,4 1,-12 1,-20 1,-17 1,-6 1,4 1,13 1,24 1,32 1,38 1,37 1,27 1,10 1,-2 1,-4 1,0 1,2 1,-1 1,-5 1,-7 1,-1 1,9 1,16 1,14 1,7 1,-2 1,-12 1,-18 1,-16 1,-5 1,6 1,10 1,4 1,-6 1,-14 1,-11 1,-5 1,3 1,7 1,8 1,8 1,12 1,19 1,24 1,20 1,8 1,-4 1,-11 1,-10 1,-6 1,0 1,7 1,10 1,9 1,5 1,7 1,10 1,12 1,9 1,0 1,-5 1,-5 1,2 1,7 1,8 1,8 1,7 1,4 1,2 1,0" vector-effect="non-scaling-stroke"/>
<path d="M0,2876l1,0 1,1 1,2 1,4 1,6 1,6 1,6 1,4 1,1 1,-3 1,-5 1,-4 1,-6 1,-7 1,-7 1,-4 1,-1 1,0 1,1 1,5 1,9 1,10 1,7 1,0 1,-3 1,-4 1,-5 1,-8 1,-8 1,-5 1,1 1,3 1,2 1,-1 1,-8 1,-20 1,-28 1,-28 1,-23 1,-14 1,4 1,23 1,28 1,17 1,-1 1,-9 1,-4 1,-3 1,-19 1,-41 1,-49 1,-33 1,-3 1,24 1,31 1,26 1,25 1,30 1,27 1,9 1,-11 1,-17 1,-5 1,12 1,22 1,20 1,6 1,-7 1,-9 1,-1 1,5 1,5 1,10 1,21 1,31 1,31 1,19 1,6 1,-3 1,-9 1,-12 1,-11 1,-5 1,0 1,5 1,1 1,-5 1,-3 1,10 1,25 1,22 1,2 1,-12 1,-9 1,7 1,14 1,5 1,-12 1,-18 1,-12 1,-2 1,-4 1,-17 1,-26 1,-19 1,4 1,27 1,33 1,24 1,17 1,20 1,22 1,10 1,-10 1,-21 1,-20 1,-16 1,-11 1,-8 1,-11 1,-12 1,-9 1,0 1,6 1,2" vector-effect="non-scaling-stroke"/>
<path d="M0,2893l1,-1 1,0 1,0 1,1 1,0 1,-2 1,-6 1,-7 1,-6 1,-2 1,6 1,10 1,9 1,6 1,4 1,5 1,7 1,5 1,0 1,-5 1,-6 1,-3 1,0 1,3 1,3 1,3 1,1 1,1 1,-2 1,-6 1,-11 1,-12 1,-10 1,-4 1,0 1,5 1,11 1,9 1,-5 1,-18 1,-10 1,12 1,20 1,9 1,-7 1,-20 1,-20 1,-12 1,-10 1,-8 1,3 1,13 1,11 1,-3 1,-17 1,-20 1,-14 1,-7 1,-7 1,-5 1,8 1,21 1,22 1,9 1,-5 1,-6 1,-1 1,-1 1,-4 1,-5 1,-1 1,7 1,17 1,23 1,23 1,17 1,9 1,0 1,-4 1,-1 1,6 1,7 1,-5 1,-22 1,-30 1,-18 1,7 1,26 1,29 1,18 1,1 1,-12 1,-20 1,-15 1,-5 1,4 1,6 1,4 1,2 1,1 1,4 1,8 1,6 1,-4 1,-8 1,-2 1,14 1,28 1,32 1,30 1,26 1,19 1,9 1,-2 1,-9 1,-9 1,-3 1,-2 1,-10 1,-12 1,-5 1,6 1,7 1,1 1,-3" vector-effect="non-scaling-stroke"/>
<path d="M0,2880l1,6 1,11 1,9 1,5 1,1 1,0 1,0 1,1 1,0 1,-4 1,-8 1,-7 1,-5 1,-1 1,0 1,0 1,1 1,3 1,6 1,2 1,-3 1,-5 1,-3 1,4 1,8 1,10 1,7 1,-1 1,-5 1,-5 1,-2 1,0 1,0 1,-5 1,-16 1,-23 1,-17 1,-5 1,6 1,9 1,13 1,14 1,7 1,-8 1,-15 1,-12 1,-5 1,1 1,13 1,26 1,28 1,18 1,10 1,6 1,-2 1,-15 1,-24 1,-16 1,8 1,30 1,37 1,23 1,2 1,-6 1,2 1,8 1,3 1,-15 1,-31 1,-37 1,-26 1,-11 1,4 1,14 1,20 1,16 1,5 1,-4 1,-4 1,-6 1,-8 1,-6 1,-4 1,-5 1,-6 1,-4 1,1 1,3 1,2 1,-3 1,-3 1,3 1,9 1,8 1,6 1,4 1,2 1,-3 1,-11 1,-15 1,-8 1,3 1,9 1,8 1,9 1,8 1,5 1,7 1,11 1,15 1,18 1,18 1,11 1,-1 1,-11 1,-9 1,-3 1,4 1,6 1,5 1,1 1,-6 1,-18 1,-22 1,-12" vector-effect="non-scaling-stroke"/>
<path d="M0,2900l1,3 1,6 1,5 1,2 1,-2 1,-5 1,-10 1,-13 1,-11 1,-3 1,4 1,8 1,7 1,1 1,-2 1,-3 1,1 1,2 1,-2 1,-3 1,1 1,4 1,1 1,-7 1,-11 1,-4 1,8 1,14 1,8 1,-4 1,-14 1,-14 1,-8 1,-4 1,-10 1,-26 1,-41 1,-45 1,-35 1,-13 1,11 1,27 1,27 1,19 1,12 1,-3 1,-28 1,-42 1,-39 1,-30 1,-28 1,-28 1,-17 1,6 1,25 1,35 1,39 1,39 1,33 1,18 1,4 1,-1 1,-1 1,3 1,10 1,18 1,24 1,22 1,9 1,0 1,5 1,10 1,8 1,1 1,-1 1,-1 1,-4 1,-4 1,-2 1,5 1,11 1,14 1,20 1,24 1,18 1,7 1,-1 1,-2 1,-7 1,-10 1,-4 1,11 1,25 1,25 1,14 1,1 1,-4 1,-6 1,-8 1,-11 1,-11 1,-9 1,-4 1,3 1,8 1,11 1,5 1,-4 1,-12 1,-11 1,-2 1,11 1,20 1,25 1,28 1,21 1,7 1,-6 1,-9 1,-9 1,-6 1,-5 1,-4 1,-5 1,-3" vector-effect="non-scaling-stroke"/>
<path d="M0,2893l1,-2 1,-2 1,0 1,2 1,3 1,1 1,0 1,1 1,3 1,4 1,0 1,-3 1,-6 1,-4 1,0 1,4 1,5 1,2 1,-7 1,-10 1,-6 1,5 1,10 1,9 1,2 1,-1 1,-2 1,-3 1,-7 1,-12 1,-10 1,-1 1,13 1,23 1,24 1,24 1,23 1,20 1,10 1,-4 1,-20 1,-31 1,-33 1,-28 1,-17 1,-8 1,0 1,1 1,-5 1,-16 1,-29 1,-37 1,-32 1,-17 1,-6 1,-1 1,-4 1,-5 1,-1 1,7 1,11 1,17 1,17 1,8 1,-6 1,-10 1,1 1,12 1,14 1,7 1,2 1,5 1,11 1,19 1,23 1,19 1,5 1,-3 1,-1 1,14 1,23 1,20 1,11 1,2 1,-11 1,-20 1,-16 1,1 1,15 1,17 1,9 1,-5 1,-14 1,-19 1,-20 1,-19 1,-14 1,-6 1,-2 1,2 1,12 1,24 1,29 1,21 1,4 1,-8 1,-11 1,-12 1,-11 1,-5 1,0 1,4 1,7 1,7 1,6 1,3 1,3 1,3 1,4 1,3 1,1 1,3 1,9 1,13 1,7" vector-effect="non-scaling-stroke"/>
<path d="M0,2913l1,-4 1,-6 1,-4 1,1 1,-1 1,-4 1,-5 1,1 1,8 1,8 1,4 1,1 1,-1 1,-2 1,-3 1,-5 1,-6 1,-7 1,-8 1,-8 1,-5 1,4 1,15 1,23 1,20 1,12 1,-4 1,-15 1,-20 1,-18 1,-8 1,4 1,15 1,18 1,11 1,-1 1,-8 1,-13 1,-19 1,-17 1,-8 1,3 1,3 1,-5 1,-13 1,-18 1,-17 1,-9 1,-4 1,-12 1,-34 1,-50 1,-42 1,-18 1,6 1,21 1,32 1,34 1,25 1,10 1,-10 1,-14 1,4 1,31 1,47 1,50 1,39 1,20 1,-10 1,-35 1,-42 1,-28 1,-12 1,-9 1,-10 1,-6 1,0 1,4 1,10 1,20 1,24 1,19 1,18 1,20 1,16 1,-1 1,-17 1,-21 1,-2 1,24 1,34 1,22 1,2 1,-10 1,-11 1,-2 1,6 1,11 1,12 1,8 1,-3 1,-13 1,-8 1,8 1,18 1,17 1,7 1,-1 1,2 1,13 1,15 1,0 1,-17 1,-19 1,-5 1,8 1,15 1,16 1,10 1,-8 1,-27 1,-35 1,-30 1,-17 1,-9" vector-effect="non-scaling-stroke"/>
<path d="M0,2894l1,2 1,1 1,-1 1,-4 1,-3 1,-1 1,1 1,0 1,-1 1,-1 1,1 1,3 1,5 1,5 1,5 1,3 1,2 1,-1 1,-5 1,-5 1,-4 1,-3 1,-1 1,2 1,4 1,6 1,3 1,-1 1,-3 1,-1 1,2 1,3 1,0 1,-7 1,-16 1,-23 1,-24 1,-26 1,-29 1,-32 1,-23 1,-6 1,9 1,21 1,27 1,19 1,-3 1,-10 1,3 1,22 1,30 1,26 1,20 1,11 1,3 1,0 1,2 1,4 1,8 1,12 1,16 1,13 1,5 1,-5 1,-9 1,-6 1,3 1,11 1,12 1,4 1,-8 1,-20 1,-24 1,-22 1,-20 1,-14 1,-3 1,6 1,8 1,1 1,-10 1,-17 1,-19 1,-13 1,-3 1,11 1,21 1,26 1,23 1,16 1,5 1,-3 1,-7 1,-8 1,-4 1,1 1,3 1,3 1,5 1,8 1,7 1,4 1,3 1,6 1,8 1,2 1,-9 1,-15 1,-14 1,-12 1,-12 1,-10 1,-6 1,3 1,9 1,12 1,8 1,0 1,-8 1,-12 1,-7 1,1 1,8 1,9 1,5" vector-effect="non-scaling-stroke"/>
<path d="M0,2912l1,-2 1,-3 1,-3 1,-3 1,-5 1,-9 1,-9 1,-2 1,7 1,13 1,9 1,4 1,-2 1,-4 1,-6 1,-5 1,-3 1,1 1,2 1,3 1,3 1,1 1,1 1,0 1,-1 1,2 1,5 1,3 1,1 1,-2 1,-1 1,1 1,-4 1,-13 1,-22 1,-22 1,-12 1,-2 1,3 1,0 1,-7 1,-8 1,-5 1,-3 1,-7 1,-14 1,-15 1,-4 1,9 1,18 1,22 1,26 1,29 1,23 1,11 1,-2 1,-10 1,-12 1,-9 1,-4 1,-2 1,-6 1,-18 1,-29 1,-25 1,-9 1,4 1,0 1,-15 1,-23 1,-16 1,1 1,15 1,17 1,12 1,8 1,8 1,14 1,19 1,20 1,18 1,16 1,20 1,21 1,20 1,13 1,7 1,2 1,-1 1,-10 1,-17 1,-18 1,-14 1,-9 1,-6 1,-5 1,2 1,8 1,12 1,13 1,13 1,10 1,2 1,-6 1,0 1,12 1,20 1,14 1,-2 1,-12 1,-10 1,1 1,9 1,5 1,-5 1,-14 1,-14 1,-6 1,1 1,0 1,-7 1,-14 1,-13 1,-10 1,-3" vector-effect="non-scaling-stroke"/>
<path d="M0,2899l1,1 1,1 1,-2 1,-8 1,-10 1,-7 1,-1 1,1 1,2 1,7 1,11 1,12 1,7 1,-2 1,-8 1,-11 1,-7 1,-3 1,3 1,5 1,7 1,6 1,6 1,2 1,-2 1,-3 1,1 1,5 1,4 1,-2 1,-6 1,-7 1,-1 1,5 1,4 1,-4 1,-12 1,-14 1,-11 1,-9 1,-2 1,5 1,8 1,2 1,-5 1,-7 1,-9 1,-8 1,9 1,30 1,35 1,23 1,5 1,-1 1,-1 1,-6 1,-17 1,-22 1,-18 1,-9 1,-2 1,0 1,-1 1,-3 1,-6 1,-11 1,-13 1,-10 1,-5 1,2 1,6 1,10 1,11 1,12 1,5 1,-2 1,1 1,12 1,20 1,13 1,3 1,-1 1,4 1,12 1,18 1,20 1,14 1,0 1,-12 1,-10 1,3 1,15 1,14 1,0 1,-10 1,-9 1,-7 1,-8 1,-12 1,-18 1,-15 1,-5 1,10 1,21 1,24 1,22 1,16 1,5 1,-3 1,-3 1,9 1,18 1,17 1,3 1,-13 1,-25 1,-31 1,-33 1,-24 1,-6 1,6 1,1 1,-13 1,-21 1,-13" vector-effect="non-scaling-stroke"/>
<path d="M0,2881l1,2 1,6 1,7 1,4 1,-1 1,-1 1,2 1,2 1,2 1,0 1,0 1,1 1,0 1,-2 1,-6 1,-9 1,-7 1,1 1,7 1,11 1,10 1,7 1,2 1,-4 1,-8 1,-7 1,-2 1,4 1,6 1,4 1,-3 1,-11 1,-15 1,-20 1,-29 1,-37 1,-38 1,-37 1,-33 1,-21 1,2 1,26 1,31 1,22 1,17 1,13 1,5 1,-7 1,-25 1,-45 1,-54 1,-45 1,-25 1,-4 1,11 1,24 1,40 1,45 1,33 1,14 1,-2 1,-7 1,-3 1,9 1,17 1,21 1,25 1,28 1,27 1,14 1,0 1,-7 1,-3 1,8 1,17 1,15 1,7 1,-4 1,-11 1,-12 1,-4 1,7 1,8 1,-1 1,-9 1,-12 1,-6 1,6 1,13 1,8 1,-6 1,-11 1,-5 1,7 1,9 1,0 1,-12 1,-16 1,-6 1,12 1,27 1,29 1,17 1,-4 1,-15 1,-10 1,7 1,22 1,25 1,16 1,5 1,-1 1,0 1,2 1,0 1,-6 1,-7 1,-2 1,7 1,17 1,22 1,19 1,10 1,2 1,-3" vector-effect="non-scaling-stroke"/>
<path d="M0,2904l1,1 1,-1 1,-2 1,-1 1,-2 1,-3 1,-3 1,-3 1,-1 1,-1 1,0 1,3 1,4 1,2 1,-3 1,-6 1,-7 1,-5 1,-1 1,3 1,5 1,3 1,1 1,-1 1,1 1,1 1,3 1,4 1,7 1,9 1,6 1,1 1,-4 1,-8 1,-10 1,-7 1,1 1,2 1,-7 1,-19 1,-20 1,-10 1,7 1,27 1,37 1,29 1,5 1,-17 1,-26 1,-21 1,-13 1,-7 1,-5 1,-7 1,-12 1,-23 1,-26 1,-18 1,-1 1,13 1,18 1,13 1,6 1,1 1,-4 1,-8 1,-9 1,-1 1,8 1,12 1,12 1,16 1,20 1,22 1,14 1,1 1,-6 1,-2 1,6 1,7 1,-2 1,-10 1,-9 1,1 1,9 1,9 1,-2 1,-10 1,-9 1,-2 1,5 1,9 1,16 1,16 1,11 1,0 1,-6 1,-5 1,-1 1,3 1,2 1,-2 1,-6 1,-6 1,-3 1,-4 1,-9 1,-12 1,-10 1,-5 1,-4 1,-7 1,-11 1,-10 1,-1 1,4 1,4 1,-1 1,-1 1,1 1,3 1,5 1,8 1,9 1,6" vector-effect="non-scaling-stroke"/>
<path d="M0,2867l1,2 1,5 1,6 1,4 1,1 1,0 1,4 1,7 1,6 1,1 1,-4 1,-8 1,-7 1,-2 1,4 1,8 1,9 1,3 1,-4 1,-4 1,3 1,10 1,7 1,-1 1,-5 1,-3 1,-2 1,-4 1,-8 1,-10 1,-6 1,-1 1,-1 1,-4 1,-7 1,-8 1,-16 1,-23 1,-18 1,-1 1,17 1,22 1,13 1,4 1,3 1,0 1,-13 1,-20 1,-15 1,-5 1,3 1,15 1,20 1,8 1,-13 1,-20 1,-8 1,8 1,16 1,17 1,17 1,8 1,-6 1,-16 1,-15 1,-6 1,3 1,6 1,7 1,3 1,-2 1,-3 1,-1 1,3 1,2 1,-2 1,-6 1,-5 1,3 1,13 1,19 1,23 1,26 1,30 1,33 1,32 1,19 1,-2 1,-22 1,-32 1,-30 1,-21 1,-12 1,-8 1,-6 1,-3 1,-6 1,-11 1,-11 1,-9 1,-2 1,5 1,11 1,13 1,13 1,14 1,9 1,1 1,2 1,9 1,10 1,-2 1,-12 1,-5 1,5 1,5 1,-7 1,-12 1,-7 1,1 1,5 1,5 1,4 1,1 1,0" vector-effect="non-scaling-stroke"/>
<path d="M0,2890l1,1 1,3 1,8 1,9 1,3 1,-7 1,-15 1,-14 1,-7 1,-1 1,2 1,1 1,4 1,8 1,11 1,7 1,0 1,-6 1,-4 1,-1 1,-2 1,-4 1,-4 1,-1 1,0 1,-2 1,-3 1,-4 1,-4 1,-4 1,-6 1,-6 1,-6 1,-5 1,-6 1,-9 1,-13 1,-16 1,-21 1,-25 1,-24 1,-19 1,-13 1,-6 1,2 1,4 1,4 1,16 1,25 1,14 1,-14 1,-37 1,-30 1,-9 1,-2 1,-13 1,-16 1,-4 1,16 1,29 1,28 1,18 1,12 1,16 1,25 1,29 1,24 1,12 1,-3 1,-16 1,-18 1,-5 1,15 1,27 1,26 1,17 1,12 1,9 1,10 1,8 1,3 1,-3 1,-8 1,-8 1,-1 1,4 1,6 1,-2 1,-10 1,-15 1,-9 1,2 1,11 1,11 1,1 1,-4 1,1 1,11 1,13 1,7 1,-3 1,-8 1,-8 1,1 1,12 1,17 1,13 1,7 1,4 1,7 1,12 1,12 1,9 1,0 1,-7 1,-10 1,-11 1,-12 1,-12 1,-12 1,-7 1,4 1,13 1,14 1,4" vector-effect="non-scaling-stroke"/>
<path d="M0,2869l1,2 1,3 1,3 1,3 1,5 1,6 1,4 1,0 1,-3 1,-3 1,0 1,5 1,5 1,5 1,2 1,-1 1,-4 1,-4 1,-5 1,-5 1,-1 1,4 1,7 1,3 1,-1 1,-2 1,-2 1,-4 1,-4 1,-2 1,2 1,4 1,2 1,-3 1,-6 1,-6 1,-3 1,-4 1,-10 1,-16 1,-20 1,-10 1,5 1,18 1,17 1,-3 1,-38 1,-52 1,-40 1,-16 1,3 1,13 1,17 1,14 1,8 1,2 1,0 1,1 1,4 1,8 1,7 1,-2 1,-7 1,-4 1,9 1,23 1,27 1,15 1,-2 1,-8 1,0 1,12 1,18 1,19 1,18 1,14 1,10 1,9 1,7 1,1 1,-6 1,-10 1,-9 1,-7 1,-7 1,-7 1,0 1,7 1,9 1,2 1,-8 1,-11 1,-8 1,0 1,4 1,8 1,14 1,19 1,15 1,5 1,-2 1,-1 1,0 1,-3 1,-8 1,-9 1,-4 1,0 1,1 1,0 1,0 1,0 1,2 1,2 1,2 1,4 1,11 1,16 1,15 1,10 1,11 1,15 1,19 1,15 1,5" vector-effect="non-scaling-stroke"/>
<path d="M0,2919l1,-1 1,-2 1,-3 1,-2 1,-3 1,-1 1,-1 1,-1 1,-2 1,-1 1,-1 1,-5 1,-7 1,-3 1,3 1,9 1,7 1,1 1,-5 1,-8 1,-6 1,0 1,4 1,6 1,3 1,1 1,-2 1,-7 1,-14 1,-15 1,-12 1,0 1,8 1,11 1,8 1,6 1,4 1,-1 1,-5 1,-10 1,-15 1,-23 1,-31 1,-24 1,-3 1,5 1,-11 1,-23 1,-20 1,-8 1,8 1,23 1,27 1,21 1,10 1,10 1,14 1,12 1,0 1,-10 1,-14 1,-11 1,-10 1,-12 1,-14 1,-17 1,-14 1,-5 1,0 1,-2 1,-5 1,-6 1,-3 1,-1 1,0 1,1 1,6 1,15 1,21 1,24 1,22 1,25 1,30 1,32 1,28 1,22 1,13 1,1 1,-12 1,-23 1,-25 1,-14 1,2 1,10 1,10 1,3 1,-5 1,-7 1,-6 1,-2 1,-3 1,-5 1,2 1,14 1,18 1,15 1,10 1,9 1,5 1,-2 1,-9 1,-11 1,-3 1,2 1,1 1,-5 1,-8 1,-9 1,-6 1,-1 1,6 1,8 1,4 1,0 1,-1" vector-effect="non-scaling-stroke"/>
<path d="M0,2892l1,4 1,6 1,7 1,5 1,2 1,-2 1,-4 1,-5 1,-2 1,0 1,-1 1,-3 1,-5 1,-6 1,-3 1,1 1,7 1,9 1,8 1,2 1,-4 1,-8 1,-10 1,-8 1,-2 1,3 1,7 1,5 1,-1 1,-5 1,-5 1,-3 1,-2 1,-3 1,-7 1,-11 1,-15 1,-22 1,-26 1,-16 1,4 1,21 1,20 1,10 1,-1 1,-10 1,-14 1,-9 1,-2 1,0 1,-2 1,-4 1,0 1,2 1,-2 1,-8 1,-13 1,-15 1,-9 1,-2 1,1 1,2 1,3 1,8 1,9 1,7 1,2 1,-3 1,-6 1,-7 1,-4 1,4 1,8 1,12 1,13 1,15 1,19 1,18 1,10 1,3 1,4 1,10 1,18 1,21 1,19 1,12 1,3 1,-5 1,-7 1,-2 1,2 1,1 1,-2 1,-6 1,-8 1,-9 1,-9 1,0 1,8 1,10 1,9 1,8 1,7 1,6 1,0 1,-7 1,-14 1,-15 1,-13 1,-10 1,0 1,16 1,27 1,26 1,11 1,-3 1,-8 1,-6 1,0 1,8 1,14 1,12 1,-1 1,-11 1,-9" vector-effect="non-scaling-stroke"/>
<path d="M0,2888l1,4 1,8 1,6 1,2 1,-2 1,-5 1,-5 1,-3 1,-1 1,0 1,-1 1,0 1,0 1,2 1,3 1,0 1,-2 1,-2 1,-1 1,0 1,0 1,1 1,3 1,6 1,5 1,2 1,2 1,0 1,0 1,0 1,2 1,2 1,-5 1,-18 1,-35 1,-41 1,-36 1,-33 1,-34 1,-28 1,-3 1,32 1,42 1,31 1,17 1,9 1,8 1,2 1,-8 1,-20 1,-25 1,-23 1,-12 1,3 1,2 1,-8 1,-12 1,-3 1,7 1,14 1,14 1,14 1,9 1,2 1,2 1,10 1,22 1,22 1,14 1,8 1,5 1,5 1,5 1,5 1,5 1,4 1,10 1,15 1,10 1,0 1,-2 1,2 1,7 1,9 1,8 1,6 1,0 1,-9 1,-19 1,-24 1,-19 1,-3 1,11 1,16 1,9 1,-1 1,-6 1,-11 1,-17 1,-18 1,-14 1,-5 1,-4 1,-3 1,5 1,18 1,33 1,37 1,30 1,18 1,14 1,14 1,14 1,5 1,-10 1,-23 1,-24 1,-6 1,22 1,40 1,33 1,3 1,-29 1,-41 1,-21" vector-effect="non-scaling-stroke"/>
<path d="M0,2896l1,1 1,2 1,-1 1,-3 1,-2 1,-1 1,-1 1,-1 1,-2 1,-1 1,2 1,3 1,1 1,-2 1,-1 1,1 1,0 1,0 1,-1 1,-2 1,-3 1,-1 1,2 1,4 1,3 1,3 1,4 1,5 1,-2 1,-12 1,-16 1,-14 1,-9 1,-11 1,-17 1,-21 1,-19 1,-9 1,0 1,4 1,6 1,5 1,-1 1,-15 1,-25 1,-20 1,-10 1,7 1,19 1,24 1,22 1,19 1,15 1,9 1,4 1,2 1,5 1,7 1,10 1,12 1,9 1,-2 1,-15 1,-25 1,-23 1,-15 1,-9 1,-10 1,-19 1,-19 1,-9 1,8 1,21 1,23 1,14 1,1 1,-5 1,-4 1,-3 1,0 1,11 1,28 1,40 1,35 1,15 1,-10 1,-22 1,-17 1,-4 1,6 1,4 1,0 1,5 1,20 1,31 1,20 1,-2 1,-14 1,-8 1,4 1,13 1,15 1,8 1,-3 1,-12 1,-10 1,-2 1,2 1,2 1,-4 1,-9 1,-12 1,-5 1,6 1,16 1,14 1,-2 1,-24 1,-34 1,-28 1,-14 1,-5 1,-1 1,0 1,0" vector-effect="non-scaling-stroke"/>
<path d="M0,2892l1,3 1,6 1,6 1,6 1,5 1,3 1,1 1,-3 1,-3 1,-2 1,3 1,5 1,3 1,-1 1,-4 1,-5 1,-4 1,-2 1,-2 1,-2 1,-2 1,-3 1,-6 1,-9 1,-5 1,-2 1,5 1,9 1,12 1,10 1,6 1,-3 1,-14 1,-25 1,-37 1,-41 1,-32 1,-20 1,-17 1,-25 1,-20 1,7 1,36 1,47 1,28 1,-3 1,-22 1,-16 1,1 1,9 1,4 1,-4 1,-3 1,5 1,9 1,9 1,11 1,13 1,9 1,-6 1,-22 1,-24 1,-7 1,12 1,19 1,17 1,16 1,19 1,17 1,11 1,6 1,0 1,-8 1,-22 1,-31 1,-25 1,-6 1,13 1,24 1,28 1,27 1,22 1,16 1,9 1,1 1,-7 1,-11 1,-5 1,6 1,21 1,26 1,17 1,-4 1,-21 1,-20 1,-6 1,3 1,-3 1,-16 1,-26 1,-21 1,-1 1,25 1,35 1,24 1,4 1,-8 1,-5 1,0 1,1 1,-5 1,-12 1,-19 1,-21 1,-20 1,-12 1,-2 1,6 1,8 1,7 1,8 1,12 1,19 1,20 1,11" vector-effect="non-scaling-stroke"/>
<path d="M0,2891l1,2 1,4 1,3 1,0 1,-3 1,-3 1,-5 1,-4 1,-3 1,-1 1,0 1,2 1,3 1,1 1,0 1,0 1,-1 1,-1 1,-2 1,0 1,1 1,1 1,1 1,1 1,1 1,1 1,3 1,5 1,7 1,8 1,7 1,-1 1,-10 1,-17 1,-21 1,-15 1,-4 1,7 1,9 1,3 1,-1 1,-3 1,-5 1,-5 1,-6 1,-7 1,-7 1,0 1,12 1,19 1,24 1,29 1,26 1,12 1,-4 1,-15 1,-20 1,-17 1,-11 1,-4 1,1 1,3 1,-4 1,-18 1,-34 1,-37 1,-23 1,2 1,26 1,35 1,28 1,13 1,1 1,-7 1,-8 1,-7 1,-5 1,0 1,3 1,4 1,3 1,5 1,12 1,18 1,15 1,9 1,1 1,-6 1,-7 1,-4 1,0 1,1 1,0 1,-1 1,3 1,7 1,7 1,3 1,-2 1,-2 1,2 1,5 1,3 1,1 1,-2 1,-5 1,-10 1,-13 1,-13 1,-8 1,1 1,8 1,11 1,8 1,7 1,5 1,4 1,0 1,-2 1,-5 1,-3 1,-1 1,0 1,-3 1,-1" vector-effect="non-scaling-stroke"/>
<path d="M0,2890l1,-4 1,-7 1,-8 1,-8 1,-5 1,3 1,12 1,14 1,10 1,4 1,0 1,-2 1,0 1,5 1,7 1,4 1,0 1,-1 1,0 1,-1 1,-3 1,-5 1,-4 1,-4 1,0 1,2 1,7 1,8 1,5 1,-3 1,-12 1,-18 1,-12 1,0 1,6 1,-2 1,-17 1,-25 1,-22 1,-12 1,2 1,11 1,15 1,14 1,19 1,21 1,11 1,-6 1,-15 1,-7 1,3 1,5 1,3 1,2 1,1 1,-4 1,-7 1,0 1,13 1,27 1,36 1,28 1,10 1,-12 1,-22 1,-16 1,-4 1,7 1,8 1,-9 1,-29 1,-30 1,-6 1,20 1,29 1,20 1,9 1,3 1,-5 1,-18 1,-26 1,-21 1,-9 1,-5 1,-6 1,-10 1,-6 1,-1 1,4 1,6 1,7 1,0 1,-10 1,-18 1,-16 1,-4 1,8 1,14 1,6 1,-2 1,-2 1,2 1,1 1,-8 1,-7 1,7 1,19 1,20 1,13 1,10 1,13 1,15 1,16 1,14 1,15 1,19 1,21 1,17 1,5 1,-8 1,-12 1,-6 1,6 1,8 1,3" vector-effect="non-scaling-stroke"/>
<path d="M0,2893l1,0 1,-1 1,-2 1,0 1,4 1,4 1,3 1,1 1,-1 1,-1 1,2 1,4 1,5 1,2 1,-2 1,-6 1,-8 1,-8 1,-6 1,-3 1,-1 1,0 1,-2 1,-2 1,-1 1,0 1,0 1,-2 1,-6 1,-2 1,5 1,13 1,15 1,12 1,-1 1,-15 1,-25 1,-28 1,-27 1,-19 1,2 1,20 1,20 1,12 1,9 1,8 1,4 1,6 1,7 1,-3 1,-17 1,-24 1,-17 1,0 1,17 1,26 1,25 1,16 1,3 1,-10 1,-14 1,-10 1,-2 1,-1 1,-4 1,-11 1,-16 1,-18 1,-19 1,-14 1,-4 1,3 1,3 1,-2 1,0 1,5 1,8 1,11 1,9 1,6 1,2 1,6 1,13 1,18 1,17 1,14 1,10 1,7 1,1 1,-9 1,-19 1,-22 1,-21 1,-18 1,-12 1,-3 1,6 1,8 1,3 1,0 1,3 1,8 1,12 1,11 1,5 1,-5 1,-18 1,-19 1,-8 1,12 1,22 1,19 1,12 1,10 1,13 1,14 1,13 1,8 1,-1 1,-12 1,-16 1,-13 1,-5 1,1 1,2" vector-effect="non-scaling-stroke"/>
<path d="M0,2906l1,-3 1,-7 1,-5 1,-3 1,0 1,1 1,3 1,1 1,-1 1,0 1,1 1,0 1,-1 1,2 1,6 1,6 1,2 1,-5 1,-9 1,-8 1,-4 1,2 1,6 1,8 1,7 1,4 1,-4 1,-14 1,-17 1,-12 1,-2 1,6 1,5 1,0 1,0 1,3 1,10 1,11 1,6 1,-4 1,-18 1,-31 1,-38 1,-30 1,-11 1,6 1,1 1,-25 1,-53 1,-66 1,-57 1,-34 1,-10 1,9 1,14 1,16 1,27 1,38 1,36 1,19 1,3 1,4 1,21 1,28 1,18 1,3 1,-5 1,-2 1,5 1,13 1,27 1,46 1,59 1,51 1,19 1,-15 1,-32 1,-30 1,-16 1,-2 1,10 1,14 1,11 1,2 1,1 1,17 1,36 1,41 1,24 1,-3 1,-28 1,-41 1,-43 1,-32 1,-14 1,9 1,25 1,34 1,34 1,32 1,26 1,12 1,-10 1,-32 1,-45 1,-47 1,-36 1,-19 1,-3 1,5 1,4 1,0 1,-3 1,-5 1,-1 1,11 1,13 1,2 1,-13 1,-17 1,-3 1,20 1,33 1,31 1,14" vector-effect="non-scaling-stroke"/>
<path d="M0,2868l1,1 1,3 1,7 1,7 1,6 1,2 1,-2 1,-4 1,-4 1,1 1,4 1,4 1,3 1,1 1,-2 1,-3 1,-2 1,-1 1,2 1,4 1,4 1,0 1,-3 1,-3 1,0 1,3 1,3 1,2 1,0 1,-1 1,-1 1,-1 1,-2 1,-7 1,-23 1,-38 1,-40 1,-30 1,-22 1,-23 1,-22 1,-5 1,11 1,18 1,18 1,13 1,2 1,-9 1,-16 1,-14 1,-6 1,2 1,9 1,15 1,18 1,20 1,23 1,22 1,22 1,20 1,17 1,6 1,-2 1,2 1,17 1,26 1,24 1,15 1,2 1,-14 1,-21 1,-14 1,4 1,16 1,12 1,-6 1,-16 1,-9 1,4 1,6 1,1 1,-2 1,3 1,6 1,4 1,-6 1,-17 1,-26 1,-23 1,-9 1,6 1,12 1,7 1,1 1,2 1,9 1,13 1,10 1,6 1,4 1,3 1,3 1,2 1,-4 1,-8 1,-7 1,-2 1,1 1,3 1,9 1,11 1,10 1,8 1,7 1,6 1,-1 1,-10 1,-14 1,-11 1,-9 1,-8 1,-12 1,-12 1,-9 1,-2" vector-effect="non-scaling-stroke"/>
<path d="M0,2889l1,0 1,0 1,-4 1,-8 1,-9 1,-5 1,0 1,6 1,8 1,8 1,7 1,5 1,2 1,0 1,0 1,-1 1,-1 1,1 1,6 1,8 1,6 1,-2 1,-5 1,-4 1,-1 1,2 1,-1 1,-5 1,-6 1,3 1,13 1,18 1,10 1,-4 1,-21 1,-27 1,-23 1,-17 1,-10 1,-8 1,-5 1,2 1,11 1,19 1,20 1,11 1,-2 1,-8 1,-7 1,-4 1,-6 1,-7 1,1 1,7 1,5 1,-5 1,-9 1,-4 1,4 1,12 1,17 1,18 1,9 1,-9 1,-25 1,-33 1,-28 1,-12 1,5 1,16 1,16 1,8 1,0 1,-2 1,3 1,10 1,16 1,17 1,18 1,15 1,8 1,-3 1,-10 1,-11 1,-6 1,1 1,4 1,1 1,0 1,-3 1,-8 1,-10 1,-3 1,10 1,12 1,4 1,-3 1,-2 1,2 1,8 1,12 1,16 1,14 1,8 1,3 1,-2 1,-7 1,-9 1,-12 1,-13 1,-16 1,-14 1,-3 1,12 1,18 1,12 1,2 1,-5 1,-5 1,1 1,7 1,6 1,-4 1,-13 1,-8" vector-effect="non-scaling-stroke"/>
<path d="M0,2912l1,0 1,-1 1,-4 1,-5 1,-4 1,0 1,5 1,8 1,6 1,-3 1,-10 1,-13 1,-12 1,-8 1,-2 1,2 1,3 1,2 1,0 1,3 1,5 1,6 1,3 1,0 1,0 1,2 1,4 1,2 1,-1 1,-4 1,-3 1,0 1,-2 1,-6 1,-8 1,-2 1,0 1,-6 1,-19 1,-28 1,-22 1,-5 1,12 1,23 1,27 1,15 1,-16 1,-55 1,-83 1,-90 1,-82 1,-66 1,-38 1,-6 1,15 1,21 1,24 1,23 1,19 1,12 1,7 1,13 1,21 1,30 1,36 1,39 1,36 1,22 1,7 1,0 1,3 1,14 1,18 1,12 1,-1 1,-8 1,-7 1,3 1,11 1,14 1,15 1,16 1,17 1,10 1,3 1,3 1,8 1,10 1,9 1,10 1,10 1,10 1,2 1,-6 1,-11 1,-9 1,-5 1,-2 1,1 1,3 1,5 1,7 1,9 1,10 1,9 1,1 1,-10 1,-15 1,-18 1,-18 1,-18 1,-13 1,-4 1,-1 1,-7 1,-12 1,-10 1,-1 1,7 1,8 1,5 1,-4 1,-8 1,-7 1,-2" vector-effect="non-scaling-stroke"/>
<path d="M0,2899l1,1 1,5 1,5 1,2 1,-5 1,-8 1,-8 1,-5 1,-1 1,2 1,4 1,5 1,4 1,-1 1,-4 1,-6 1,-7 1,-5 1,-1 1,1 1,1 1,-1 1,-1 1,-2 1,-3 1,-4 1,-3 1,0 1,2 1,2 1,4 1,6 1,11 1,14 1,12 1,1 1,-11 1,-17 1,-16 1,-4 1,11 1,22 1,17 1,0 1,-16 1,-27 1,-38 1,-39 1,-28 1,-15 1,-9 1,-4 1,7 1,22 1,28 1,20 1,3 1,-9 1,-11 1,-6 1,-1 1,6 1,10 1,8 1,-1 1,-8 1,-8 1,-7 1,-4 1,0 1,8 1,13 1,13 1,10 1,4 1,-4 1,-11 1,-17 1,-17 1,-9 1,8 1,21 1,23 1,13 1,1 1,-3 1,0 1,-2 1,-6 1,-8 1,0 1,9 1,17 1,18 1,14 1,8 1,2 1,-2 1,-9 1,-13 1,-8 1,5 1,15 1,14 1,4 1,-5 1,-6 1,1 1,7 1,5 1,0 1,-1 1,1 1,6 1,8 1,11 1,14 1,11 1,3 1,-2 1,-2 1,-3 1,-3 1,-3 1,-1" vector-effect="non-scaling-stroke"/>
<path d="M0,2883l1,1 1,3 1,6 1,5 1,1 1,-2 1,-3 1,-4 1,-2 1,-1 1,0 1,-1 1,-4 1,-3 1,0 1,5 1,7 1,7 1,4 1,0 1,-3 1,-6 1,-7 1,-7 1,-4 1,-1 1,5 1,4 1,-1 1,-6 1,-3 1,2 1,6 1,4 1,-8 1,-20 1,-24 1,-25 1,-29 1,-37 1,-34 1,-15 1,5 1,18 1,18 1,6 1,-15 1,-17 1,-5 1,10 1,18 1,18 1,12 1,7 1,11 1,19 1,24 1,22 1,11 1,1 1,-2 1,0 1,2 1,-7 1,-22 1,-34 1,-30 1,-11 1,9 1,15 1,6 1,-1 1,0 1,3 1,1 1,-5 1,-3 1,11 1,23 1,22 1,11 1,1 1,1 1,7 1,10 1,8 1,0 1,-4 1,-5 1,-1 1,4 1,8 1,9 1,13 1,11 1,7 1,0 1,-2 1,2 1,0 1,-4 1,-5 1,0 1,7 1,13 1,19 1,23 1,19 1,8 1,-4 1,-11 1,-11 1,-10 1,-7 1,1 1,9 1,11 1,1 1,-11 1,-15 1,-7 1,2 1,4 1,1 1,-3" vector-effect="non-scaling-stroke"/>
<path d="M0,2919l1,-3 1,-7 1,-6 1,-4 1,-1 1,7 1,11 1,11 1,5 1,0 1,-2 1,-6 1,-10 1,-13 1,-7 1,0 1,3 1,5 1,2 1,-2 1,-7 1,-5 1,2 1,5 1,4 1,4 1,6 1,7 1,0 1,-13 1,-25 1,-29 1,-26 1,-24 1,-25 1,-29 1,-26 1,-24 1,-16 1,2 1,25 1,41 1,38 1,29 1,26 1,28 1,24 1,12 1,-3 1,-14 1,-14 1,-11 1,-6 1,2 1,10 1,7 1,0 1,-4 1,-4 1,-9 1,-15 1,-12 1,0 1,5 1,2 1,4 1,17 1,25 1,18 1,7 1,7 1,12 1,3 1,-17 1,-35 1,-33 1,-17 1,0 1,12 1,20 1,25 1,19 1,10 1,11 1,26 1,45 1,47 1,17 1,-24 1,-41 1,-25 1,-3 1,1 1,-12 1,-17 1,-12 1,-4 1,5 1,13 1,21 1,23 1,15 1,0 1,-14 1,-24 1,-27 1,-22 1,-18 1,-19 1,-14 1,-4 1,5 1,3 1,-12 1,-28 1,-32 1,-13 1,16 1,32 1,33 1,25 1,25 1,29 1,28 1,16" vector-effect="non-scaling-stroke"/>
<path d="M0,2897l1,-1 1,-1 1,2 1,2 1,-3 1,-7 1,-4 1,2 1,5 1,4 1,1 1,-2 1,-8 1,-11 1,-13 1,-11 1,-1 1,10 1,16 1,15 1,10 1,3 1,1 1,2 1,3 1,5 1,6 1,3 1,-3 1,0 1,8 1,11 1,0 1,-19 1,-32 1,-26 1,-7 1,12 1,19 1,14 1,-2 1,-12 1,-9 1,0 1,-4 1,-22 1,-35 1,-33 1,-21 1,-6 1,4 1,15 1,30 1,40 1,30 1,8 1,-12 1,-20 1,-20 1,-16 1,-12 1,-4 1,8 1,16 1,14 1,3 1,-18 1,-34 1,-40 1,-39 1,-35 1,-25 1,-2 1,27 1,35 1,17 1,-6 1,-13 1,0 1,23 1,44 1,47 1,40 1,30 1,23 1,12 1,-8 1,-28 1,-34 1,-9 1,30 1,47 1,30 1,1 1,-15 1,-16 1,-12 1,-9 1,-5 1,5 1,19 1,22 1,8 1,-10 1,-12 1,-5 1,1 1,-2 1,-3 1,0 1,-2 1,-5 1,1 1,17 1,28 1,22 1,4 1,-13 1,-25 1,-29 1,-21 1,-1 1,19 1,27 1,14" vector-effect="non-scaling-stroke"/>
<path d="M0,2908l1,-1 1,-3 1,-5 1,-5 1,-3 1,-4 1,-4 1,-2 1,0 1,3 1,2 1,1 1,-3 1,-4 1,0 1,5 1,1 1,-3 1,-5 1,0 1,7 1,11 1,12 1,8 1,1 1,-6 1,-9 1,-7 1,2 1,9 1,10 1,2 1,-5 1,-14 1,-25 1,-35 1,-33 1,-26 1,-16 1,-12 1,-7 1,1 1,10 1,14 1,17 1,15 1,10 1,6 1,2 1,-5 1,-14 1,-18 1,-8 1,9 1,14 1,2 1,-10 1,-11 1,-4 1,-3 1,-12 1,-14 1,-2 1,16 1,23 1,15 1,-1 1,-16 1,-20 1,-13 1,-1 1,5 1,6 1,6 1,2 1,-8 1,-19 1,-21 1,-10 1,12 1,38 1,50 1,39 1,14 1,-9 1,-12 1,-5 1,3 1,6 1,0 1,-3 1,1 1,14 1,23 1,22 1,13 1,6 1,3 1,-1 1,-4 1,-7 1,-1 1,9 1,14 1,6 1,-6 1,-12 1,-10 1,-7 1,-6 1,-8 1,-7 1,-6 1,6 1,25 1,37 1,29 1,11 1,-4 1,-14 1,-21 1,-25 1,-23 1,-17 1,-6" vector-effect="non-scaling-stroke"/>
<path d="M0,2901l1,-1 1,-1 1,0 1,2 1,-1 1,-5 1,-11 1,-11 1,-9 1,-5 1,-5 1,-6 1,-2 1,1 1,3 1,3 1,5 1,11 1,16 1,12 1,4 1,-4 1,-5 1,-1 1,1 1,-2 1,-6 1,-6 1,-2 1,2 1,2 1,0 1,-2 1,-2 1,-7 1,-7 1,1 1,19 1,32 1,28 1,3 1,-23 1,-39 1,-38 1,-25 1,-8 1,-1 1,-7 1,-22 1,-35 1,-42 1,-46 1,-38 1,-14 1,3 1,7 1,6 1,11 1,20 1,22 1,20 1,18 1,17 1,9 1,-6 1,-15 1,-11 1,2 1,10 1,11 1,1 1,-7 1,-9 1,-8 1,-9 1,-11 1,-9 1,1 1,19 1,38 1,43 1,31 1,15 1,10 1,19 1,33 1,37 1,25 1,8 1,-4 1,-9 1,-9 1,-4 1,6 1,8 1,-1 1,-12 1,-11 1,-1 1,7 1,5 1,-4 1,-14 1,-20 1,-18 1,-3 1,20 1,34 1,34 1,23 1,12 1,5 1,5 1,4 1,-4 1,-19 1,-30 1,-32 1,-28 1,-15 1,4 1,25 1,32 1,27 1,11" vector-effect="non-scaling-stroke"/>
<path d="M0,2896l1,2 1,2 1,2 1,0 1,0 1,-2 1,-1 1,0 1,2 1,4 1,5 1,4 1,2 1,0 1,-3 1,-4 1,-3 1,-4 1,-2 1,-2 1,-3 1,-5 1,-6 1,-4 1,-1 1,1 1,2 1,3 1,7 1,6 1,2 1,2 1,3 1,1 1,-6 1,-9 1,-3 1,4 1,3 1,-9 1,-21 1,-25 1,-20 1,-8 1,3 1,7 1,-1 1,-6 1,-3 1,2 1,7 1,6 1,-4 1,-15 1,-20 1,-17 1,-8 1,3 1,12 1,17 1,14 1,8 1,0 1,-5 1,-9 1,-9 1,-8 1,-5 1,-3 1,-4 1,-5 1,-4 1,7 1,21 1,27 1,19 1,8 1,7 1,8 1,8 1,7 1,7 1,8 1,7 1,7 1,8 1,10 1,5 1,-4 1,-8 1,-3 1,9 1,16 1,14 1,8 1,2 1,-3 1,-6 1,-5 1,-4 1,-3 1,-6 1,-7 1,-1 1,9 1,12 1,7 1,-3 1,-11 1,-13 1,-8 1,0 1,4 1,6 1,6 1,3 1,0 1,-4 1,-9 1,-12 1,-6 1,6 1,18 1,21 1,11" vector-effect="non-scaling-stroke"/>
<path d="M0,2888l1,-1 1,-4 1,-2 1,0 1,4 1,3 1,2 1,-1 1,1 1,1 1,3 1,1 1,-2 1,-3 1,-1 1,3 1,6 1,4 1,-2 1,-5 1,-8 1,-6 1,-1 1,4 1,7 1,4 1,1 1,-3 1,-6 1,-7 1,-9 1,-9 1,-5 1,1 1,7 1,12 1,14 1,11 1,4 1,-6 1,-10 1,-6 1,2 1,8 1,4 1,-13 1,-36 1,-48 1,-44 1,-27 1,-6 1,8 1,11 1,15 1,23 1,27 1,20 1,7 1,-3 1,-8 1,-9 1,-7 1,-6 1,-4 1,-9 1,-17 1,-20 1,-15 1,-9 1,-6 1,0 1,14 1,23 1,18 1,-1 1,-12 1,-2 1,19 1,30 1,20 1,3 1,-6 1,-3 1,2 1,6 1,7 1,6 1,2 1,-3 1,-6 1,-7 1,-8 1,-7 1,0 1,15 1,28 1,30 1,19 1,3 1,-8 1,-12 1,-9 1,0 1,7 1,11 1,14 1,23 1,30 1,20 1,1 1,-11 1,-8 1,0 1,2 1,-3 1,-11 1,-16 1,-11 1,-4 1,4 1,7 1,4 1,-3 1,-8 1,-6" vector-effect="non-scaling-stroke"/>
<path d="M0,2891l1,-1 1,-4 1,-5 1,-4 1,0 1,6 1,12 1,11 1,5 1,-2 1,-5 1,-5 1,0 1,1 1,-2 1,-9 1,-11 1,-6 1,2 1,3 1,2 1,0 1,2 1,4 1,5 1,2 1,-7 1,-15 1,-16 1,-4 1,9 1,12 1,9 1,1 1,-15 1,-32 1,-44 1,-49 1,-39 1,-13 1,25 1,50 1,45 1,22 1,2 1,-5 1,-3 1,-1 1,-9 1,-26 1,-40 1,-40 1,-25 1,-1 1,16 1,23 1,24 1,18 1,10 1,3 1,-1 1,1 1,5 1,11 1,20 1,30 1,34 1,24 1,3 1,-18 1,-28 1,-29 1,-18 1,0 1,17 1,22 1,13 1,5 1,3 1,1 1,-8 1,-19 1,-23 1,-13 1,5 1,17 1,13 1,-3 1,-11 1,-9 1,-4 1,-4 1,1 1,11 1,18 1,14 1,5 1,8 1,20 1,25 1,10 1,-12 1,-24 1,-12 1,15 1,39 1,43 1,29 1,8 1,-12 1,-20 1,-18 1,-7 1,4 1,11 1,9 1,-2 1,-11 1,-8 1,7 1,18 1,12 1,1 1,-7 1,-5" vector-effect="non-scaling-stroke"/>
<path d="M0,2899l1,-1 1,-1 1,-3 1,-2 1,-3 1,-4 1,-4 1,-1 1,3 1,5 1,4 1,3 1,2 1,0 1,0 1,2 1,4 1,1 1,-3 1,-5 1,-1 1,1 1,-1 1,-6 1,-7 1,-4 1,4 1,10 1,13 1,10 1,3 1,-4 1,-9 1,-12 1,-13 1,-10 1,-2 1,4 1,4 1,1 1,-4 1,-6 1,-4 1,4 1,7 1,4 1,0 1,3 1,8 1,12 1,14 1,14 1,9 1,-3 1,-18 1,-28 1,-28 1,-25 1,-22 1,-18 1,-8 1,2 1,12 1,18 1,25 1,29 1,21 1,4 1,-14 1,-19 1,-16 1,-7 1,-1 1,0 1,-1 1,1 1,9 1,14 1,12 1,6 1,1 1,-2 1,-4 1,-4 1,0 1,6 1,10 1,9 1,2 1,-2 1,-3 1,1 1,4 1,6 1,3 1,0 1,-1 1,1 1,0 1,-5 1,-9 1,-11 1,-4 1,8 1,15 1,11 1,-2 1,-16 1,-22 1,-16 1,0 1,15 1,19 1,11 1,3 1,-2 1,-1 1,-3 1,-7 1,-9 1,-8 1,-6 1,-8 1,-10 1,-4" vector-effect="non-scaling-stroke"/>
<path d="M0,2930l1,-6 1,-11 1,-12 1,-6 1,1 1,3 1,0 1,-2 1,-4 1,-4 1,-2 1,2 1,6 1,9 1,8 1,6 1,4 1,0 1,-4 1,-8 1,-9 1,-11 1,-14 1,-17 1,-15 1,-6 1,12 1,27 1,29 1,22 1,14 1,2 1,-13 1,-24 1,-27 1,-22 1,-16 1,-12 1,-5 1,11 1,29 1,30 1,11 1,-12 1,-22 1,-18 1,-15 1,-17 1,-16 1,-16 1,-28 1,-47 1,-45 1,-24 1,-7 1,-4 1,-4 1,-2 1,3 1,7 1,8 1,11 1,23 1,40 1,50 1,42 1,23 1,4 1,-4 1,-1 1,5 1,9 1,9 1,10 1,5 1,-10 1,-18 1,-8 1,11 1,20 1,6 1,-20 1,-36 1,-27 1,4 1,30 1,37 1,21 1,-4 1,-17 1,-4 1,19 1,31 1,26 1,14 1,9 1,6 1,2 1,-7 1,-15 1,-11 1,7 1,19 1,8 1,-14 1,-19 1,-2 1,11 1,7 1,-12 1,-24 1,-19 1,-2 1,14 1,13 1,6 1,-3 1,-4 1,2 1,17 1,29 1,23 1,1 1,-15 1,-10" vector-effect="non-scaling-stroke"/>
<path d="M0,2861l1,1 1,3 1,6 1,7 1,6 1,3 1,2 1,0 1,0 1,0 1,2 1,3 1,1 1,-2 1,-3 1,0 1,4 1,5 1,1 1,-1 1,-1 1,3 1,6 1,8 1,4 1,-1 1,-9 1,-14 1,-10 1,-5 1,-3 1,-4 1,0 1,8 1,14 1,9 1,1 1,-4 1,-9 1,-17 1,-23 1,-19 1,-10 1,-6 1,-8 1,-12 1,-15 1,-5 1,16 1,30 1,32 1,28 1,19 1,5 1,-10 1,-17 1,-15 1,-11 1,-9 1,-7 1,0 1,9 1,11 1,0 1,-8 1,-7 1,0 1,13 1,24 1,22 1,6 1,-16 1,-23 1,-11 1,-1 1,-4 1,-12 1,-10 1,6 1,22 1,29 1,31 1,29 1,21 1,7 1,-6 1,-8 1,-6 1,-6 1,-9 1,-17 1,-17 1,-8 1,6 1,16 1,14 1,4 1,-7 1,-18 1,-20 1,-13 1,-4 1,0 1,1 1,5 1,14 1,15 1,5 1,-8 1,-15 1,-13 1,-3 1,1 1,1 1,-1 1,-1 1,1 1,2 1,3 1,7 1,10 1,7 1,-1 1,-6 1,-2" vector-effect="non-scaling-stroke"/>
<path d="M0,2885l1,-1 1,-2 1,2 1,6 1,9 1,6 1,-2 1,-6 1,-8 1,-4 1,0 1,4 1,2 1,-1 1,-5 1,-5 1,0 1,7 1,8 1,4 1,1 1,0 1,-1 1,-2 1,-4 1,-5 1,-3 1,-3 1,-2 1,-1 1,1 1,4 1,2 1,-3 1,-12 1,-17 1,-21 1,-24 1,-26 1,-23 1,-7 1,13 1,24 1,24 1,12 1,0 1,-9 1,-3 1,8 1,15 1,13 1,4 1,-2 1,2 1,8 1,13 1,13 1,14 1,13 1,5 1,-7 1,-17 1,-18 1,-12 1,0 1,9 1,14 1,13 1,7 1,-5 1,-10 1,-10 1,-8 1,-11 1,-16 1,-15 1,-9 1,0 1,2 1,-1 1,-3 1,1 1,5 1,3 1,-5 1,-10 1,-10 1,-6 1,-2 1,3 1,8 1,12 1,18 1,22 1,21 1,11 1,-3 1,-9 1,-4 1,5 1,5 1,-3 1,-8 1,-5 1,8 1,18 1,16 1,6 1,-8 1,-15 1,-11 1,-2 1,8 1,13 1,13 1,9 1,10 1,14 1,14 1,6 1,-4 1,-9 1,-9 1,-8 1,-4" vector-effect="non-scaling-stroke"/>
<path d="M0,2901l1,5 1,7 1,2 1,-5 1,-3 1,0 1,-1 1,-5 1,-6 1,0 1,6 1,7 1,1 1,-6 1,-11 1,-12 1,-10 1,-8 1,-5 1,-1 1,5 1,7 1,8 1,8 1,8 1,5 1,3 1,2 1,2 1,3 1,0 1,-5 1,-6 1,-6 1,-9 1,-16 1,-20 1,-15 1,-4 1,5 1,10 1,9 1,6 1,5 1,5 1,10 1,11 1,4 1,-10 1,-19 1,-17 1,-11 1,-5 1,-1 1,-1 1,-6 1,-10 1,-7 1,-1 1,-2 1,-8 1,-9 1,-5 1,0 1,2 1,1 1,2 1,7 1,16 1,22 1,24 1,22 1,10 1,-11 1,-27 1,-23 1,-3 1,18 1,28 1,20 1,2 1,-12 1,-13 1,-6 1,2 1,10 1,17 1,11 1,1 1,-2 1,6 1,13 1,9 1,-4 1,-21 1,-22 1,-7 1,13 1,22 1,21 1,19 1,13 1,0 1,-13 1,-19 1,-19 1,-15 1,-4 1,8 1,13 1,10 1,3 1,0 1,-4 1,-11 1,-14 1,-12 1,-4 1,3 1,7 1,11 1,12 1,10 1,6 1,3" vector-effect="non-scaling-stroke"/>
<path d="M0,2908l1,-1 1,-1 1,-4 1,-7 1,-12 1,-9 1,-2 1,2 1,2 1,-4 1,-8 1,-4 1,2 1,7 1,7 1,4 1,2 1,3 1,3 1,4 1,4 1,4 1,5 1,3 1,1 1,0 1,-4 1,-5 1,-7 1,-6 1,-6 1,-4 1,2 1,3 1,1 1,-2 1,1 1,5 1,-2 1,-20 1,-27 1,-10 1,19 1,39 1,39 1,18 1,-17 1,-43 1,-49 1,-37 1,-15 1,4 1,14 1,14 1,7 1,4 1,4 1,3 1,-3 1,-7 1,-3 1,8 1,17 1,16 1,10 1,2 1,-4 1,-6 1,-7 1,-7 1,-9 1,-5 1,0 1,5 1,4 1,3 1,4 1,7 1,12 1,16 1,23 1,23 1,15 1,0 1,-14 1,-17 1,-10 1,-2 1,3 1,2 1,2 1,2 1,6 1,8 1,9 1,8 1,6 1,6 1,7 1,7 1,5 1,-1 1,-3 1,1 1,8 1,12 1,10 1,2 1,-9 1,-15 1,-19 1,-21 1,-21 1,-15 1,-2 1,10 1,13 1,12 1,8 1,1 1,-9 1,-19 1,-21 1,-16 1,-7" vector-effect="non-scaling-stroke"/>
<path d="M0,2869l1,6 1,11 1,6 1,2 1,3 1,4 1,2 1,1 1,2 1,3 1,1 1,-5 1,-7 1,-4 1,0 1,4 1,3 1,1 1,-1 1,-3 1,-3 1,-3 1,-1 1,3 1,13 1,19 1,18 1,5 1,-11 1,-22 1,-24 1,-20 1,-12 1,-6 1,-6 1,-5 1,1 1,0 1,-6 1,-8 1,-5 1,-4 1,-19 1,-32 1,-23 1,-5 1,3 1,6 1,9 1,6 1,-5 1,-25 1,-39 1,-34 1,-8 1,23 1,48 1,57 1,42 1,12 1,-2 1,12 1,33 1,36 1,17 1,-3 1,-8 1,-7 1,-7 1,-16 1,-23 1,-22 1,-19 1,-25 1,-35 1,-34 1,-12 1,11 1,20 1,21 1,23 1,21 1,15 1,7 1,2 1,4 1,14 1,20 1,22 1,25 1,27 1,27 1,20 1,9 1,-5 1,-13 1,-14 1,-8 1,2 1,6 1,3 1,-5 1,-14 1,-18 1,-16 1,-14 1,-15 1,-18 1,-7 1,9 1,16 1,5 1,-6 1,-7 1,-1 1,5 1,6 1,5 1,1 1,-8 1,-16 1,-16 1,-6 1,4 1,3" vector-effect="non-scaling-stroke"/>
</g>
<line x1="1273.7" y1="723.4" x2="1712.3" y2="723.4" stroke="#000" stroke-width="1.8"/>
<line x1="1273.7" y1="723.4" x2="1273.7" y2="726.9" stroke="#000" stroke-width="1.8"/>
<line x1="1493" y1="723.4" x2="1493" y2="726.9" stroke="#000" stroke-width="1.8"/>
<line x1="1712.3" y1="723.4" x2="1712.3" y2="726.9" stroke="#000" stroke-width="1.8"/>
<polyline points="1273.7,723.4 1277.2,723.4 1280.7,723.4 1284.2,723.4 1287.7,723.4 1291.2,723.4 1294.7,723.4 1298.2,723.4 1301.8,723.4 1305.3,723.4 1308.8,723.4 1312.3,723.4 1315.8,723.4 1319.3,723.4 1322.8,723.4 1326.3,723.4 1329.8,723.4 1333.3,723.4 1336.8,723.4 1340.3,723.4 1343.9,723.4 1347.4,723.4 1350.9,723.4 1354.4,723.4 1357.9,723.4 1361.4,723.4 1364.9,723.3 1368.4,723.2 1371.9,723.1 1375.4,722.9 1378.9,722.8 1382.5,722.7 1386,722.6 1389.5,722.4 1393,721.8 1396.5,720 1400,716.9 1403.5,713.3 1407,709.8 1410.5,706.2 1414,703 1417.5,701.3 1421,702 1424.6,703.8 1428.1,705.8 1431.6,707.6 1435.1,708.2 1438.6,706.4 1442.1,703 1445.6,699.3 1449.1,695.5 1452.6,691.8 1456.1,688.4 1459.6,686.5 1463.2,686.8 1466.7,688.2 1470.2,689.8 1473.7,691.5 1477.2,693.1 1480.7,694.7 1484.2,696.1 1487.7,697.3 1491.2,698.4 1494.7,699.6 1498.2,700.8 1501.8,701.9 1505.3,703.1 1508.8,704.3 1512.3,705.4 1515.8,706.3 1519.3,706.9 1522.8,707.4 1526.3,707.9 1529.8,708.3 1533.3,708.8 1536.8,709.3 1540.3,709.8 1543.9,710.7 1547.4,712.2 1550.9,713.9 1554.4,715.7 1557.9,717.4 1561.4,719.2 1564.9,721 1568.4,722.7 1571.9,724.5 1575.4,726.2 1578.9,727.7 1582.5,728.6 1586,728.7 1589.5,728.5 1593,728.4 1596.5,728.2 1600,728.1 1603.5,728 1607,728.1 1610.5,728.4 1614,728.8 1617.5,729.2 1621.1,729.6 1624.6,730 1628.1,730.4 1631.6,730.8 1635.1,731.2 1638.6,731.7 1642.1,732.1 1645.6,732.5 1649.1,732.9 1652.6,733.3 1656.1,733.7 1659.6,734.1 1663.2,734.5 1666.7,734.9 1670.2,735.3 1673.7,735.7 1677.2,736 1680.7,736.1 1684.2,736 1687.7,735.8 1691.2,735.6 1694.7,735.4 1698.2,735.2 1701.8,735 1705.3,734.8 1708.8,734.7 1712.3,734.5" fill="none" stroke="#000" stroke-width="6" stroke-linejoin="round" stroke-linecap="round"/>
<text x="1536" y="875.5" font-size="28" text-anchor="middle" >Scrambled Car ERPs</text>
<line x1="1360.6" y1="871.0" x2="1360.6" y2="1079.0" stroke="#000" stroke-width="2"/>
<line x1="1357" y1="901.1" x2="1360.6" y2="901.1" stroke="#000" stroke-width="1.8"/>
<line x1="1357" y1="1048.5" x2="1360.6" y2="1048.5" stroke="#000" stroke-width="1.8"/>
<g fill="none" stroke="#d62728" stroke-width="1.5" stroke-opacity="0.5" stroke-linejoin="round" transform="matrix(3.5088 0 0 0.25 1273.68 0)">
<path d="M0,3889l1,-1 1,-1 1,0 1,3 1,4 1,6 1,4 1,1 1,-2 1,-1 1,3 1,6 1,5 1,0 1,-7 1,-10 1,-6 1,-1 1,0 1,-2 1,-4 1,-1 1,4 1,6 1,5 1,3 1,1 1,-1 1,-4 1,-10 1,-15 1,-13 1,-7 1,-3 1,-7 1,-22 1,-37 1,-43 1,-35 1,-20 1,5 1,30 1,45 1,46 1,32 1,17 1,7 1,-1 1,-18 1,-39 1,-56 1,-60 1,-52 1,-28 1,-2 1,16 1,23 1,16 1,4 1,-6 1,-5 1,3 1,14 1,25 1,29 1,26 1,17 1,9 1,8 1,12 1,14 1,8 1,-2 1,-9 1,-7 1,1 1,8 1,12 1,15 1,17 1,20 1,24 1,26 1,23 1,13 1,3 1,1 1,5 1,5 1,1 1,-5 1,-11 1,-15 1,-12 1,-6 1,1 1,8 1,9 1,10 1,6 1,-1 1,-9 1,-11 1,-3 1,1 1,-3 1,-12 1,-16 1,-12 1,-8 1,-2 1,1 1,3 1,4 1,-2 1,-7 1,-8 1,-1 1,9 1,14 1,14 1,8 1,-3 1,-10 1,-7" vector-effect="non-scaling-stroke"/>
<path d="M0,3883l1,1 1,1 1,1 1,3 1,4 1,4 1,1 1,-1 1,0 1,3 1,5 1,3 1,-3 1,-8 1,-6 1,-2 1,2 1,3 1,3 1,2 1,1 1,4 1,5 1,5 1,2 1,2 1,1 1,-1 1,-1 1,0 1,0 1,-1 1,-3 1,-8 1,-14 1,-22 1,-23 1,-22 1,-16 1,-11 1,1 1,17 1,32 1,40 1,37 1,26 1,6 1,-17 1,-32 1,-39 1,-40 1,-34 1,-24 1,-15 1,-13 1,-16 1,-13 1,-6 1,0 1,2 1,7 1,14 1,21 1,22 1,22 1,20 1,20 1,17 1,14 1,12 1,9 1,5 1,-1 1,-5 1,-7 1,-4 1,-1 1,4 1,8 1,9 1,12 1,12 1,10 1,3 1,-1 1,-3 1,-4 1,-3 1,-2 1,-3 1,-8 1,-13 1,-14 1,-9 1,1 1,8 1,9 1,5 1,-2 1,-4 1,-3 1,-1 1,-1 1,-5 1,-5 1,3 1,15 1,23 1,22 1,13 1,4 1,-1 1,2 1,10 1,12 1,8 1,0 1,-9 1,-14 1,-12 1,-7 1,-2 1,-4 1,-7 1,-4" vector-effect="non-scaling-stroke"/>
<path d="M0,3889l1,0 1,1 1,-1 1,-2 1,-3 1,-3 1,-3 1,0 1,4 1,9 1,9 1,8 1,7 1,5 1,2 1,-4 1,-8 1,-7 1,-2 1,0 1,0 1,-4 1,-8 1,-9 1,-9 1,-7 1,-1 1,7 1,12 1,12 1,10 1,9 1,8 1,6 1,-8 1,-24 1,-35 1,-37 1,-26 1,-6 1,16 1,25 1,24 1,15 1,5 1,1 1,-4 1,-20 1,-43 1,-64 1,-68 1,-50 1,-26 1,-1 1,10 1,10 1,10 1,11 1,11 1,13 1,21 1,37 1,53 1,60 1,47 1,20 1,-8 1,-21 1,-19 1,-8 1,4 1,16 1,22 1,21 1,12 1,0 1,-6 1,-4 1,-2 1,-3 1,-7 1,-7 1,0 1,6 1,3 1,-1 1,-2 1,-1 1,1 1,-4 1,-7 1,1 1,12 1,14 1,3 1,-7 1,-6 1,4 1,12 1,13 1,12 1,10 1,7 1,3 1,-4 1,-10 1,-8 1,1 1,13 1,16 1,10 1,5 1,-1 1,-9 1,-13 1,-9 1,-6 1,-16 1,-23 1,-18 1,-5 1,4 1,7 1,5 1,0" vector-effect="non-scaling-stroke"/>
<path d="M0,3906l1,1 1,1 1,2 1,-1 1,-4 1,-4 1,-3 1,0 1,1 1,0 1,-2 1,-1 1,-1 1,1 1,3 1,2 1,0 1,0 1,1 1,2 1,2 1,4 1,1 1,-1 1,-3 1,-4 1,-1 1,2 1,5 1,2 1,-3 1,-5 1,-6 1,-6 1,-9 1,-14 1,-18 1,-14 1,-2 1,11 1,17 1,15 1,12 1,12 1,11 1,-2 1,-22 1,-42 1,-53 1,-54 1,-46 1,-38 1,-24 1,-2 1,15 1,15 1,6 1,-8 1,-15 1,-8 1,7 1,24 1,36 1,36 1,30 1,21 1,14 1,11 1,8 1,5 1,7 1,9 1,10 1,7 1,4 1,0 1,0 1,1 1,6 1,10 1,9 1,0 1,-9 1,-11 1,-5 1,2 1,6 1,9 1,8 1,5 1,1 1,-4 1,-7 1,-9 1,-8 1,-8 1,-7 1,-1 1,4 1,9 1,11 1,12 1,7 1,4 1,2 1,4 1,9 1,11 1,7 1,-3 1,-10 1,-4 1,8 1,17 1,17 1,8 1,0 1,-4 1,-2 1,-2 1,-2 1,-1 1,-1 1,-3 1,-3" vector-effect="non-scaling-stroke"/>
<path d="M0,3891l1,0 1,1 1,2 1,4 1,7 1,6 1,2 1,-4 1,-8 1,-9 1,-5 1,-1 1,1 1,1 1,1 1,1 1,2 1,2 1,2 1,3 1,2 1,0 1,-1 1,-2 1,-5 1,-9 1,-10 1,-7 1,-3 1,-4 1,-4 1,-3 1,4 1,12 1,17 1,15 1,8 1,0 1,-13 1,-25 1,-35 1,-35 1,-31 1,-24 1,-14 1,-7 1,-12 1,-13 1,1 1,22 1,35 1,37 1,30 1,20 1,10 1,4 1,1 1,2 1,10 1,11 1,0 1,-19 1,-33 1,-34 1,-31 1,-28 1,-22 1,-11 1,-1 1,2 1,3 1,4 1,5 1,0 1,-5 1,-3 1,4 1,16 1,30 1,38 1,37 1,36 1,37 1,32 1,19 1,6 1,1 1,-1 1,-4 1,0 1,8 1,16 1,10 1,-8 1,-25 1,-27 1,-16 1,-2 1,4 1,2 1,-3 1,-2 1,3 1,5 1,2 1,-6 1,-11 1,-10 1,-7 1,1 1,10 1,18 1,18 1,13 1,13 1,14 1,14 1,11 1,7 1,4 1,-1 1,-3 1,-1 1,2 1,0" vector-effect="non-scaling-stroke"/>
<path d="M0,3916l1,4 1,7 1,5 1,1 1,-4 1,-8 1,-9 1,-8 1,-5 1,-3 1,1 1,7 1,5 1,-1 1,-8 1,-7 1,0 1,6 1,5 1,1 1,-1 1,-1 1,0 1,3 1,5 1,6 1,3 1,-4 1,-6 1,-1 1,5 1,0 1,-12 1,-23 1,-29 1,-26 1,-17 1,-10 1,-11 1,-16 1,-12 1,11 1,36 1,36 1,15 1,-11 1,-22 1,-17 1,-6 1,2 1,3 1,-3 1,-2 1,14 1,36 1,44 1,30 1,4 1,-18 1,-27 1,-24 1,-13 1,0 1,5 1,-3 1,-17 1,-21 1,-10 1,7 1,18 1,22 1,14 1,-1 1,-13 1,-15 1,-16 1,-14 1,3 1,29 1,35 1,18 1,-2 1,2 1,19 1,32 1,28 1,18 1,7 1,-1 1,-7 1,-19 1,-29 1,-26 1,-10 1,11 1,18 1,6 1,-12 1,-21 1,-16 1,-5 1,3 1,5 1,0 1,-10 1,-20 1,-22 1,-12 1,0 1,-3 1,-15 1,-20 1,-13 1,-5 1,-1 1,3 1,10 1,20 1,29 1,33 1,27 1,19 1,17 1,18 1,11" vector-effect="non-scaling-stroke"/>
<path d="M0,3909l1,1 1,0 1,3 1,6 1,7 1,5 1,-6 1,-18 1,-22 1,-18 1,-7 1,8 1,19 1,20 1,12 1,3 1,-4 1,-7 1,-7 1,-6 1,-5 1,-4 1,-3 1,1 1,6 1,8 1,8 1,10 1,13 1,13 1,1 1,-17 1,-31 1,-28 1,-11 1,10 1,22 1,22 1,15 1,7 1,-6 1,-9 1,-15 1,-18 1,-14 1,-5 1,6 1,12 1,10 1,-1 1,-19 1,-35 1,-40 1,-25 1,6 1,38 1,51 1,38 1,14 1,-6 1,-13 1,-11 1,-7 1,-2 1,-3 1,-5 1,-7 1,-7 1,-9 1,-13 1,-12 1,-1 1,20 1,35 1,33 1,15 1,-2 1,-12 1,-13 1,-13 1,-8 1,5 1,17 1,23 1,19 1,10 1,8 1,7 1,3 1,-3 1,-8 1,-9 1,-13 1,-16 1,-10 1,-3 1,5 1,10 1,13 1,11 1,6 1,0 1,-11 1,-22 1,-21 1,-3 1,24 1,40 1,35 1,19 1,7 1,-2 1,-10 1,-20 1,-28 1,-32 1,-30 1,-23 1,-7 1,15 1,32 1,31 1,13 1,-7 1,-8" vector-effect="non-scaling-stroke"/>
<path d="M0,3920l1,-1 1,-3 1,-2 1,2 1,2 1,-2 1,-9 1,-13 1,-11 1,-9 1,-8 1,-3 1,4 1,9 1,10 1,8 1,3 1,1 1,3 1,3 1,1 1,0 1,2 1,3 1,-1 1,-6 1,-10 1,-10 1,-11 1,-13 1,-15 1,-10 1,-3 1,4 1,10 1,15 1,20 1,21 1,17 1,3 1,-22 1,-40 1,-40 1,-17 1,13 1,27 1,15 1,-12 1,-35 1,-49 1,-51 1,-42 1,-25 1,-1 1,14 1,14 1,8 1,9 1,15 1,18 1,19 1,22 1,27 1,30 1,34 1,33 1,28 1,18 1,8 1,-4 1,-14 1,-16 1,-8 1,0 1,1 1,-2 1,-1 1,3 1,2 1,-9 1,-21 1,-19 1,-4 1,15 1,31 1,36 1,29 1,13 1,-9 1,-21 1,-22 1,-12 1,0 1,5 1,1 1,-7 1,-7 1,-4 1,-4 1,-11 1,-13 1,-8 1,-3 1,6 1,17 1,23 1,26 1,24 1,18 1,9 1,2 1,1 1,5 1,5 1,-1 1,-12 1,-18 1,-19 1,-17 1,-9 1,4 1,21 1,36 1,36 1,16" vector-effect="non-scaling-stroke"/>
<path d="M0,3872l1,4 1,9 1,13 1,10 1,2 1,-3 1,-4 1,0 1,4 1,7 1,7 1,4 1,1 1,-1 1,-1 1,1 1,1 1,-2 1,-6 1,-11 1,-12 1,-9 1,-1 1,3 1,4 1,2 1,0 1,-4 1,-11 1,-12 1,-6 1,4 1,10 1,7 1,-3 1,-12 1,-18 1,-21 1,-25 1,-25 1,-10 1,12 1,25 1,24 1,14 1,3 1,-5 1,-14 1,-20 1,-22 1,-27 1,-34 1,-34 1,-17 1,4 1,17 1,28 1,37 1,36 1,23 1,4 1,-12 1,-23 1,-29 1,-24 1,-3 1,25 1,46 1,54 1,42 1,19 1,0 1,-9 1,-13 1,-15 1,-14 1,-8 1,-2 1,5 1,5 1,2 1,-2 1,2 1,2 1,-7 1,-15 1,-8 1,7 1,19 1,18 1,9 1,2 1,2 1,1 1,-1 1,-3 1,1 1,5 1,3 1,-1 1,0 1,9 1,19 1,19 1,6 1,-12 1,-21 1,-15 1,0 1,14 1,15 1,2 1,-19 1,-32 1,-25 1,-5 1,15 1,20 1,12 1,-3 1,-12 1,-7 1,7 1,16 1,11" vector-effect="non-scaling-stroke"/>
<path d="M0,3883l1,1 1,3 1,6 1,6 1,4 1,1 1,1 1,1 1,0 1,0 1,2 1,3 1,1 1,-1 1,-4 1,-5 1,-3 1,-2 1,0 1,2 1,2 1,0 1,-1 1,0 1,-2 1,-3 1,-1 1,0 1,4 1,4 1,4 1,7 1,11 1,11 1,1 1,-18 1,-34 1,-39 1,-38 1,-30 1,-13 1,10 1,24 1,25 1,18 1,3 1,-16 1,-28 1,-29 1,-25 1,-17 1,-9 1,4 1,21 1,31 1,30 1,17 1,6 1,2 1,5 1,8 1,9 1,9 1,5 1,-7 1,-19 1,-24 1,-17 1,-7 1,-1 1,-2 1,-1 1,9 1,22 1,27 1,22 1,13 1,4 1,1 1,5 1,11 1,15 1,17 1,16 1,10 1,0 1,-9 1,-11 1,-4 1,4 1,2 1,-4 1,-5 1,-1 1,4 1,4 1,1 1,2 1,6 1,12 1,12 1,5 1,-1 1,-2 1,-3 1,-8 1,-13 1,-13 1,-2 1,9 1,11 1,1 1,-8 1,-9 1,-5 1,-3 1,-11 1,-15 1,-11 1,-1 1,2 1,-2 1,-9 1,-12 1,-5" vector-effect="non-scaling-stroke"/>
<path d="M0,3883l1,1 1,2 1,3 1,4 1,1 1,-1 1,-4 1,-2 1,1 1,4 1,3 1,1 1,2 1,4 1,2 1,-2 1,-5 1,-2 1,2 1,5 1,4 1,2 1,0 1,-1 1,-3 1,-3 1,-2 1,-2 1,0 1,0 1,0 1,3 1,4 1,2 1,-7 1,-25 1,-41 1,-49 1,-43 1,-23 1,3 1,30 1,49 1,55 1,52 1,32 1,-4 1,-46 1,-71 1,-75 1,-65 1,-56 1,-49 1,-36 1,-22 1,-10 1,5 1,19 1,21 1,16 1,9 1,8 1,12 1,21 1,34 1,47 1,50 1,43 1,26 1,11 1,1 1,2 1,9 1,10 1,0 1,-10 1,-11 1,-4 1,4 1,8 1,12 1,17 1,23 1,22 1,13 1,3 1,-8 1,-12 1,-13 1,-9 1,-5 1,0 1,5 1,6 1,5 1,6 1,11 1,13 1,7 1,-3 1,-10 1,-6 1,1 1,7 1,9 1,8 1,3 1,-4 1,-8 1,-1 1,9 1,13 1,8 1,-3 1,-11 1,-9 1,0 1,7 1,10 1,4 1,-1 1,2 1,9 1,11 1,6" vector-effect="non-scaling-stroke"/>
<path d="M0,3913l1,-2 1,-4 1,-3 1,1 1,1 1,-1 1,-4 1,-3 1,1 1,6 1,6 1,2 1,-2 1,-3 1,1 1,4 1,5 1,1 1,-2 1,-4 1,-6 1,-6 1,-4 1,2 1,9 1,11 1,1 1,-10 1,-17 1,-15 1,-5 1,3 1,4 1,-1 1,-7 1,-9 1,-2 1,7 1,3 1,-14 1,-31 1,-28 1,-10 1,5 1,8 1,0 1,-20 1,-36 1,-34 1,-25 1,-18 1,-15 1,-17 1,-18 1,-21 1,-23 1,-21 1,-11 1,6 1,29 1,49 1,58 1,50 1,36 1,19 1,11 1,13 1,18 1,15 1,6 1,-2 1,0 1,7 1,8 1,-1 1,-12 1,-14 1,-9 1,1 1,11 1,20 1,23 1,21 1,17 1,20 1,22 1,21 1,11 1,1 1,-10 1,-14 1,-11 1,-8 1,-8 1,-5 1,2 1,3 1,-4 1,-15 1,-21 1,-15 1,-4 1,-3 1,-11 1,-22 1,-22 1,-7 1,10 1,25 1,29 1,23 1,9 1,2 1,5 1,9 1,7 1,4 1,6 1,11 1,7 1,-1 1,-8 1,-11 1,-11 1,-7" vector-effect="non-scaling-stroke"/>
<path d="M0,3927l1,-4 1,-8 1,-6 1,-1 1,2 1,6 1,9 1,6 1,-2 1,-8 1,-10 1,-7 1,-3 1,-2 1,-2 1,-3 1,-5 1,-7 1,-4 1,0 1,5 1,6 1,4 1,0 1,-3 1,-1 1,5 1,8 1,4 1,-3 1,-6 1,-7 1,-3 1,0 1,5 1,8 1,8 1,-4 1,-23 1,-35 1,-23 1,1 1,16 1,15 1,6 1,2 1,-1 1,0 1,-2 1,-6 1,-10 1,-11 1,-7 1,-1 1,2 1,1 1,-2 1,-3 1,-5 1,-7 1,-6 1,-5 1,-4 1,-2 1,7 1,18 1,28 1,23 1,9 1,0 1,4 1,13 1,14 1,5 1,-4 1,-11 1,-16 1,-16 1,-7 1,5 1,16 1,23 1,21 1,14 1,11 1,12 1,15 1,10 1,-5 1,-15 1,-15 1,-6 1,2 1,1 1,-6 1,-12 1,-10 1,-2 1,9 1,15 1,15 1,8 1,-2 1,-9 1,-8 1,1 1,10 1,12 1,4 1,-3 1,-5 1,-7 1,-7 1,-8 1,-5 1,-1 1,0 1,-1 1,-1 1,-2 1,-3 1,-3 1,-3 1,0 1,0" vector-effect="non-scaling-stroke"/>
<path d="M0,3917l1,-1 1,-3 1,-8 1,-11 1,-8 1,-1 1,7 1,8 1,5 1,0 1,-2 1,-3 1,-3 1,-3 1,-4 1,-4 1,-2 1,1 1,5 1,8 1,9 1,9 1,6 1,1 1,-3 1,-6 1,-7 1,-7 1,-3 1,-2 1,-2 1,-5 1,-8 1,-6 1,-6 1,-13 1,-25 1,-33 1,-36 1,-25 1,3 1,29 1,34 1,24 1,15 1,10 1,5 1,6 1,9 1,15 1,20 1,18 1,11 1,-2 1,-13 1,-22 1,-28 1,-22 1,-7 1,12 1,24 1,22 1,10 1,-7 1,-21 1,-31 1,-33 1,-29 1,-18 1,-4 1,7 1,10 1,6 1,-3 1,-18 1,-24 1,-11 1,12 1,33 1,36 1,27 1,16 1,14 1,17 1,18 1,14 1,7 1,-1 1,-8 1,-11 1,-8 1,-5 1,-3 1,0 1,4 1,12 1,16 1,18 1,17 1,15 1,9 1,0 1,-7 1,-8 1,-7 1,-4 1,-2 1,0 1,-1 1,-3 1,-7 1,-12 1,-13 1,-11 1,-6 1,0 1,8 1,16 1,15 1,8 1,-4 1,-12 1,-18 1,-15 1,-8" vector-effect="non-scaling-stroke"/>
<path d="M0,3909l1,-1 1,-2 1,-3 1,-3 1,-3 1,-1 1,1 1,1 1,2 1,1 1,2 1,0 1,-3 1,-5 1,-4 1,-1 1,2 1,0 1,-7 1,-9 1,-6 1,0 1,7 1,10 1,9 1,2 1,-7 1,-9 1,-5 1,-1 1,1 1,0 1,3 1,8 1,8 1,4 1,2 1,7 1,13 1,7 1,-11 1,-26 1,-30 1,-27 1,-20 1,-10 1,-3 1,4 1,10 1,13 1,11 1,5 1,6 1,10 1,12 1,4 1,-4 1,-4 1,2 1,8 1,6 1,1 1,-2 1,-4 1,-2 1,8 1,18 1,17 1,3 1,-19 1,-38 1,-39 1,-24 1,1 1,21 1,29 1,24 1,13 1,4 1,1 1,-5 1,-13 1,-20 1,-14 1,0 1,10 1,12 1,11 1,13 1,17 1,14 1,3 1,-11 1,-19 1,-17 1,-4 1,13 1,26 1,27 1,16 1,-2 1,-15 1,-21 1,-16 1,-7 1,9 1,20 1,22 1,12 1,1 1,-7 1,-10 1,-11 1,-14 1,-15 1,-14 1,-7 1,2 1,10 1,9 1,4 1,-1 1,-1 1,2 1,0" vector-effect="non-scaling-stroke"/>
<path d="M0,3917l1,1 1,1 1,-2 1,-7 1,-9 1,-7 1,1 1,7 1,10 1,9 1,6 1,-1 1,-9 1,-12 1,-10 1,-2 1,3 1,3 1,1 1,-2 1,1 1,6 1,11 1,9 1,6 1,1 1,-1 1,-2 1,3 1,7 1,10 1,2 1,-8 1,-26 1,-47 1,-66 1,-64 1,-40 1,-10 1,9 1,21 1,35 1,43 1,42 1,36 1,23 1,0 1,-26 1,-42 1,-47 1,-47 1,-45 1,-38 1,-22 1,2 1,20 1,28 1,20 1,4 1,-6 1,-1 1,12 1,13 1,6 1,6 1,15 1,25 1,20 1,5 1,-7 1,-5 1,4 1,15 1,21 1,10 1,-10 1,-21 1,-8 1,18 1,32 1,27 1,17 1,15 1,19 1,24 1,17 1,3 1,-8 1,-9 1,-1 1,5 1,4 1,-3 1,-3 1,7 1,19 1,14 1,-6 1,-23 1,-24 1,-17 1,-12 1,-9 1,0 1,12 1,15 1,11 1,7 1,4 1,4 1,5 1,8 1,10 1,4 1,-9 1,-23 1,-27 1,-19 1,-2 1,10 1,3 1,-18 1,-39 1,-43 1,-22" vector-effect="non-scaling-stroke"/>
<path d="M0,3920l1,-2 1,-3 1,-3 1,-2 1,0 1,-2 1,-4 1,-6 1,-4 1,-2 1,-1 1,-1 1,-1 1,-1 1,1 1,2 1,4 1,5 1,3 1,0 1,-1 1,0 1,3 1,5 1,4 1,0 1,-4 1,-6 1,-4 1,2 1,5 1,5 1,4 1,0 1,-10 1,-24 1,-32 1,-34 1,-33 1,-29 1,-13 1,16 1,34 1,36 1,26 1,9 1,-8 1,-14 1,-10 1,-7 1,-5 1,-7 1,-7 1,-5 1,2 1,9 1,13 1,9 1,0 1,-9 1,-8 1,0 1,13 1,24 1,28 1,22 1,7 1,-8 1,-15 1,-7 1,2 1,1 1,-6 1,-9 1,-4 1,2 1,5 1,8 1,12 1,13 1,7 1,-3 1,-12 1,-8 1,3 1,12 1,12 1,7 1,1 1,0 1,2 1,4 1,5 1,2 1,-3 1,-9 1,-9 1,-8 1,-9 1,-10 1,-6 1,-3 1,1 1,1 1,3 1,1 1,0 1,-3 1,-6 1,-6 1,-4 1,-2 1,-2 1,-2 1,0 1,2 1,1 1,3 1,5 1,5 1,-2 1,-10 1,-12 1,-8 1,0" vector-effect="non-scaling-stroke"/>
<path d="M0,3894l1,5 1,8 1,3 1,-4 1,-5 1,-3 1,2 1,4 1,3 1,-2 1,-7 1,-9 1,-9 1,-9 1,-6 1,1 1,10 1,14 1,11 1,4 1,0 1,1 1,2 1,-3 1,-7 1,-7 1,-3 1,-2 1,-5 1,-8 1,-7 1,-4 1,2 1,6 1,9 1,5 1,1 1,1 1,0 1,-4 1,-12 1,-10 1,-9 1,-11 1,-9 1,-10 1,-18 1,-13 1,4 1,15 1,10 1,-3 1,-12 1,-9 1,2 1,17 1,26 1,22 1,2 1,-17 1,-16 1,8 1,33 1,35 1,15 1,-5 1,-6 1,5 1,8 1,4 1,-3 1,-7 1,-1 1,7 1,10 1,-2 1,-20 1,-28 1,-14 1,9 1,18 1,14 1,2 1,-10 1,-16 1,-13 1,0 1,19 1,27 1,19 1,0 1,-23 1,-33 1,-25 1,-3 1,17 1,26 1,26 1,22 1,17 1,13 1,8 1,-1 1,-7 1,-8 1,0 1,7 1,7 1,8 1,15 1,19 1,10 1,-4 1,-18 1,-29 1,-36 1,-33 1,-20 1,-1 1,9 1,8 1,2 1,-2 1,-4 1,-3" vector-effect="non-scaling-stroke"/>
<path d="M0,3897l1,1 1,3 1,6 1,6 1,3 1,-3 1,-6 1,-6 1,-3 1,-1 1,4 1,8 1,7 1,3 1,-5 1,-9 1,-6 1,-2 1,3 1,3 1,2 1,2 1,0 1,-2 1,-3 1,-4 1,-2 1,2 1,3 1,2 1,1 1,2 1,1 1,0 1,-3 1,-6 1,-2 1,0 1,-3 1,-7 1,-7 1,0 1,0 1,-5 1,-13 1,-21 1,-23 1,-22 1,-14 1,-6 1,-3 1,-6 1,-9 1,-3 1,5 1,7 1,8 1,13 1,16 1,11 1,2 1,-1 1,7 1,8 1,-3 1,-17 1,-23 1,-18 1,-14 1,-11 1,-8 1,-4 1,-5 1,-1 1,4 1,8 1,6 1,1 1,6 1,19 1,29 1,33 1,35 1,32 1,23 1,15 1,9 1,5 1,6 1,9 1,6 1,-5 1,-21 1,-26 1,-22 1,-11 1,-2 1,4 1,9 1,9 1,4 1,0 1,-1 1,0 1,0 1,-1 1,-4 1,-7 1,-9 1,-8 1,-2 1,5 1,7 1,5 1,-1 1,-3 1,-2 1,-1 1,-1 1,1 1,4 1,10 1,13 1,10 1,5" vector-effect="non-scaling-stroke"/>
<path d="M0,3886l1,1 1,1 1,1 1,1 1,3 1,2 1,2 1,-2 1,-4 1,-2 1,1 1,4 1,5 1,4 1,1 1,-2 1,-6 1,-6 1,-4 1,3 1,6 1,9 1,6 1,4 1,1 1,0 1,-3 1,-5 1,-5 1,-4 1,-1 1,4 1,9 1,13 1,18 1,21 1,27 1,33 1,33 1,23 1,0 1,-24 1,-41 1,-40 1,-23 1,-12 1,-19 1,-30 1,-26 1,-10 1,1 1,-6 1,-15 1,-11 1,3 1,13 1,11 1,-1 1,-11 1,-7 1,8 1,22 1,29 1,22 1,10 1,-1 1,-6 1,-3 1,6 1,15 1,14 1,8 1,1 1,-2 1,-4 1,-4 1,-6 1,-6 1,-8 1,-11 1,-14 1,-12 1,-6 1,-3 1,-2 1,-2 1,2 1,5 1,5 1,3 1,-3 1,-9 1,-6 1,4 1,16 1,20 1,14 1,7 1,10 1,16 1,20 1,14 1,3 1,-8 1,-16 1,-20 1,-25 1,-26 1,-21 1,-12 1,-1 1,5 1,7 1,5 1,0 1,-2 1,1 1,5 1,6 1,2 1,-5 1,-6 1,2 1,9 1,7" vector-effect="non-scaling-stroke"/>
<path d="M0,3900l1,4 1,7 1,6 1,4 1,3 1,5 1,3 1,1 1,-3 1,-1 1,0 1,1 1,0 1,-2 1,-4 1,-5 1,-5 1,2 1,4 1,-2 1,-12 1,-16 1,-11 1,-1 1,6 1,9 1,9 1,5 1,5 1,3 1,2 1,-1 1,-1 1,-3 1,-6 1,-14 1,-13 1,-6 1,-5 1,-15 1,-22 1,-8 1,12 1,26 1,27 1,22 1,6 1,-9 1,-18 1,-23 1,-33 1,-40 1,-30 1,-6 1,13 1,11 1,0 1,-7 1,1 1,8 1,10 1,5 1,-4 1,-12 1,-11 1,-2 1,10 1,14 1,8 1,-8 1,-21 1,-16 1,5 1,27 1,29 1,11 1,-12 1,-26 1,-21 1,-3 1,13 1,23 1,26 1,25 1,23 1,18 1,12 1,5 1,-1 1,-8 1,-9 1,-4 1,6 1,11 1,11 1,6 1,2 1,-1 1,-3 1,-4 1,-3 1,0 1,3 1,0 1,-8 1,-12 1,-5 1,7 1,9 1,-2 1,-12 1,-9 1,8 1,29 1,36 1,25 1,9 1,-5 1,-12 1,-7 1,6 1,21 1,21 1,10 1,2" vector-effect="non-scaling-stroke"/>
<path d="M0,3876l1,3 1,5 1,6 1,3 1,4 1,7 1,5 1,-1 1,-7 1,-9 1,-5 1,2 1,6 1,3 1,1 1,0 1,1 1,5 1,6 1,6 1,0 1,-5 1,-4 1,-2 1,-1 1,0 1,1 1,1 1,0 1,-1 1,3 1,6 1,4 1,-2 1,-4 1,-4 1,-7 1,-15 1,-20 1,-20 1,-14 1,-7 1,-7 1,-13 1,-13 1,-6 1,-3 1,-12 1,-27 1,-36 1,-33 1,-22 1,-14 1,-14 1,-16 1,-9 1,18 1,43 1,50 1,35 1,16 1,9 1,17 1,30 1,37 1,35 1,29 1,20 1,15 1,9 1,2 1,-11 1,-19 1,-17 1,-3 1,14 1,22 1,14 1,-1 1,-13 1,-22 1,-28 1,-25 1,-11 1,8 1,22 1,24 1,17 1,6 1,4 1,5 1,4 1,-3 1,-8 1,-9 1,-11 1,-14 1,-14 1,-9 1,2 1,16 1,26 1,24 1,16 1,10 1,6 1,1 1,-8 1,-15 1,-11 1,3 1,15 1,20 1,19 1,11 1,2 1,-4 1,-5 1,-7 1,-9 1,-10 1,-8 1,-7 1,-4 1,-3" vector-effect="non-scaling-stroke"/>
<path d="M0,3895l1,0 1,0 1,-1 1,-2 1,-4 1,-7 1,-5 1,4 1,10 1,11 1,1 1,-6 1,-4 1,0 1,5 1,7 1,5 1,1 1,-9 1,-14 1,-10 1,1 1,11 1,10 1,5 1,3 1,5 1,9 1,5 1,-4 1,-16 1,-17 1,-11 1,-2 1,-9 1,-34 1,-51 1,-52 1,-43 1,-29 1,8 1,51 1,62 1,45 1,19 1,-5 1,-24 1,-33 1,-25 1,-8 1,7 1,19 1,26 1,19 1,-6 1,-37 1,-44 1,-26 1,4 1,29 1,40 1,33 1,13 1,-8 1,-17 1,-10 1,8 1,22 1,21 1,11 1,4 1,2 1,-6 1,-17 1,-23 1,-16 1,-2 1,8 1,16 1,22 1,23 1,19 1,17 1,18 1,16 1,-2 1,-19 1,-22 1,-9 1,6 1,10 1,0 1,-13 1,-21 1,-18 1,-7 1,6 1,8 1,7 1,8 1,15 1,18 1,8 1,-12 1,-28 1,-28 1,-13 1,8 1,28 1,34 1,21 1,-3 1,-22 1,-28 1,-26 1,-17 1,-2 1,13 1,18 1,14 1,1 1,-13 1,-18 1,-15 1,-7" vector-effect="non-scaling-stroke"/>
<path d="M0,3872l1,4 1,10 1,12 1,11 1,8 1,5 1,6 1,4 1,0 1,-7 1,-15 1,-18 1,-12 1,-2 1,7 1,10 1,7 1,3 1,-2 1,0 1,6 1,9 1,7 1,2 1,-3 1,-4 1,-4 1,-4 1,0 1,3 1,1 1,-5 1,-8 1,-5 1,1 1,6 1,6 1,7 1,4 1,-8 1,-32 1,-47 1,-36 1,-12 1,8 1,10 1,-8 1,-18 1,-5 1,13 1,25 1,29 1,22 1,8 1,-3 1,-1 1,10 1,17 1,7 1,-12 1,-21 1,-13 1,2 1,9 1,3 1,-5 1,-6 1,-2 1,2 1,-1 1,-7 1,-7 1,-4 1,-2 1,-5 1,-13 1,-18 1,-11 1,10 1,28 1,31 1,21 1,11 1,8 1,10 1,8 1,-1 1,-8 1,-6 1,2 1,9 1,5 1,-6 1,-10 1,-5 1,8 1,18 1,18 1,10 1,-1 1,-12 1,-18 1,-18 1,-8 1,4 1,8 1,1 1,-4 1,1 1,11 1,15 1,11 1,7 1,4 1,-3 1,-9 1,-3 1,9 1,17 1,13 1,1 1,-8 1,-11 1,-13 1,-9" vector-effect="non-scaling-stroke"/>
<path d="M0,3914l1,-2 1,-4 1,-1 1,1 1,-2 1,-8 1,-9 1,-4 1,4 1,8 1,3 1,-2 1,-6 1,-4 1,0 1,4 1,4 1,2 1,2 1,6 1,9 1,8 1,6 1,2 1,-2 1,-4 1,-7 1,-6 1,-3 1,-1 1,2 1,1 1,0 1,-6 1,-9 1,-9 1,-9 1,-10 1,-13 1,-24 1,-43 1,-52 1,-41 1,-16 1,15 1,30 1,16 1,0 1,2 1,13 1,22 1,22 1,15 1,9 1,3 1,2 1,7 1,8 1,6 1,-2 1,-11 1,-18 1,-20 1,-14 1,-9 1,-6 1,-8 1,-10 1,-14 1,-19 1,-17 1,-8 1,3 1,9 1,13 1,16 1,13 1,8 1,8 1,12 1,18 1,21 1,25 1,29 1,30 1,25 1,16 1,9 1,6 1,3 1,-10 1,-24 1,-27 1,-16 1,-1 1,5 1,0 1,-7 1,-8 1,1 1,13 1,19 1,16 1,14 1,12 1,8 1,5 1,9 1,18 1,17 1,4 1,-10 1,-14 1,-13 1,-13 1,-12 1,-7 1,-4 1,-5 1,-4 1,-3 1,2 1,3 1,0 1,-2" vector-effect="non-scaling-stroke"/>
<path d="M0,3888l1,-2 1,-2 1,1 1,5 1,7 1,7 1,5 1,3 1,2 1,0 1,0 1,-1 1,-6 1,-9 1,-10 1,-5 1,1 1,5 1,5 1,3 1,-1 1,-2 1,0 1,3 1,4 1,2 1,1 1,-1 1,-5 1,-8 1,-8 1,-4 1,-5 1,-8 1,-18 1,-32 1,-39 1,-41 1,-44 1,-38 1,-8 1,31 1,49 1,42 1,25 1,12 1,2 1,3 1,11 1,19 1,20 1,14 1,9 1,8 1,4 1,-7 1,-14 1,-12 1,-4 1,1 1,6 1,8 1,9 1,8 1,11 1,16 1,15 1,10 1,1 1,-5 1,-6 1,-6 1,-4 1,-3 1,-1 1,5 1,7 1,1 1,-5 1,-8 1,-8 1,-8 1,-7 1,1 1,6 1,9 1,7 1,8 1,16 1,23 1,23 1,14 1,5 1,-3 1,-8 1,-12 1,-11 1,-10 1,-9 1,-6 1,-5 1,-4 1,-7 1,-12 1,-16 1,-14 1,-2 1,8 1,11 1,3 1,-5 1,-4 1,7 1,15 1,15 1,5 1,-2 1,-9 1,-9 1,-7 1,-2 1,0 1,-4 1,-7 1,-5" vector-effect="non-scaling-stroke"/>
<path d="M0,3854l1,10 1,19 1,20 1,12 1,1 1,-4 1,-5 1,-2 1,4 1,8 1,8 1,3 1,-1 1,-4 1,-2 1,0 1,0 1,-2 1,-2 1,0 1,1 1,-2 1,-6 1,-11 1,-10 1,-7 1,-2 1,-1 1,-1 1,-2 1,-3 1,-4 1,-6 1,-5 1,-3 1,-7 1,-9 1,-13 1,-16 1,-15 1,-11 1,-1 1,2 1,4 1,15 1,31 1,38 1,28 1,8 1,-10 1,-24 1,-33 1,-30 1,-14 1,-2 1,-2 1,-2 1,4 1,12 1,14 1,13 1,12 1,10 1,6 1,2 1,1 1,3 1,3 1,0 1,-1 1,3 1,11 1,15 1,16 1,12 1,7 1,-2 1,-4 1,2 1,6 1,2 1,-9 1,-11 1,-5 1,6 1,9 1,5 1,-2 1,-8 1,-8 1,-4 1,7 1,15 1,14 1,7 1,1 1,-2 1,-5 1,-8 1,-8 1,-9 1,-7 1,-9 1,-12 1,-7 1,2 1,16 1,26 1,29 1,26 1,16 1,2 1,-4 1,-3 1,5 1,12 1,11 1,1 1,-14 1,-25 1,-29 1,-25 1,-17 1,-10 1,-5" vector-effect="non-scaling-stroke"/>
<path d="M0,3891l1,0 1,1 1,0 1,3 1,7 1,9 1,7 1,1 1,-4 1,-6 1,-7 1,-5 1,-4 1,-2 1,3 1,6 1,6 1,1 1,-2 1,-3 1,-5 1,-6 1,-5 1,-3 1,-2 1,-7 1,-10 1,-10 1,-8 1,0 1,12 1,22 1,25 1,16 1,0 1,-7 1,-1 1,7 1,12 1,9 1,1 1,-4 1,-6 1,-3 1,0 1,-9 1,-27 1,-36 1,-31 1,-27 1,-27 1,-30 1,-29 1,-18 1,2 1,20 1,26 1,21 1,15 1,15 1,20 1,19 1,11 1,0 1,-4 1,0 1,4 1,-1 1,-13 1,-22 1,-17 1,-8 1,-5 1,-6 1,4 1,26 1,39 1,30 1,9 1,-5 1,-3 1,9 1,19 1,17 1,1 1,-10 1,-10 1,-4 1,0 1,1 1,-3 1,-8 1,-10 1,-5 1,3 1,10 1,14 1,13 1,10 1,6 1,1 1,-1 1,3 1,7 1,4 1,2 1,-1 1,-6 1,-9 1,5 1,26 1,38 1,33 1,16 1,-1 1,-16 1,-27 1,-31 1,-26 1,-20 1,-13 1,-6 1,7 1,17 1,8" vector-effect="non-scaling-stroke"/>
<path d="M0,3903l1,-7 1,-16 1,-15 1,-4 1,8 1,12 1,9 1,5 1,6 1,4 1,-2 1,-7 1,-4 1,7 1,17 1,17 1,7 1,-5 1,-14 1,-20 1,-19 1,-8 1,6 1,11 1,3 1,-10 1,-12 1,-5 1,-2 1,-4 1,-4 1,5 1,16 1,24 1,23 1,17 1,8 1,-2 1,-15 1,-24 1,-16 1,-2 1,6 1,-4 1,-23 1,-38 1,-35 1,-17 1,6 1,13 1,4 1,-6 1,-4 1,9 1,24 1,30 1,17 1,-9 1,-25 1,-18 1,-2 1,7 1,-3 1,-16 1,-18 1,-11 1,-4 1,-7 1,-10 1,-12 1,-7 1,-3 1,-5 1,-7 1,-2 1,4 1,6 1,4 1,9 1,21 1,29 1,32 1,29 1,15 1,-6 1,-25 1,-24 1,-8 1,8 1,16 1,23 1,23 1,13 1,-4 1,-15 1,-13 1,-9 1,-6 1,-3 1,0 1,5 1,14 1,27 1,27 1,11 1,-12 1,-33 1,-49 1,-43 1,-4 1,45 1,70 1,62 1,31 1,-7 1,-35 1,-37 1,-27 1,-22 1,-18 1,-6 1,14 1,23 1,19 1,8" vector-effect="non-scaling-stroke"/>
<path d="M0,3900l1,0 1,1 1,0 1,-2 1,-3 1,1 1,6 1,6 1,-2 1,-9 1,-7 1,-1 1,7 1,9 1,5 1,-1 1,-9 1,-10 1,-6 1,-1 1,2 1,-1 1,-2 1,-2 1,0 1,-3 1,-6 1,-6 1,1 1,10 1,13 1,11 1,6 1,3 1,-3 1,-15 1,-26 1,-29 1,-23 1,-9 1,3 1,1 1,-2 1,-4 1,-5 1,-10 1,-13 1,-9 1,2 1,16 1,29 1,34 1,25 1,18 1,16 1,11 1,-4 1,-23 1,-31 1,-25 1,-12 1,-3 1,-3 1,-10 1,-11 1,-3 1,5 1,9 1,7 1,4 1,1 1,2 1,10 1,15 1,21 1,21 1,10 1,-7 1,-22 1,-23 1,-10 1,5 1,13 1,13 1,6 1,1 1,-1 1,0 1,-1 1,-5 1,-9 1,-9 1,-5 1,1 1,10 1,18 1,18 1,12 1,10 1,15 1,16 1,7 1,-2 1,-5 1,0 1,3 1,6 1,5 1,2 1,-3 1,-12 1,-19 1,-16 1,-3 1,13 1,17 1,5 1,-11 1,-18 1,-12 1,1 1,11 1,12 1,7 1,3" vector-effect="non-scaling-stroke"/>
<path d="M0,3930l1,5 1,5 1,-1 1,-8 1,-8 1,-1 1,5 1,6 1,2 1,-4 1,-12 1,-12 1,-10 1,-6 1,-4 1,-2 1,0 1,2 1,1 1,1 1,0 1,2 1,4 1,3 1,2 1,2 1,5 1,8 1,8 1,3 1,-7 1,-18 1,-20 1,-9 1,0 1,-2 1,-14 1,-19 1,-11 1,3 1,9 1,-2 1,-15 1,-16 1,2 1,20 1,20 1,12 1,8 1,3 1,-5 1,-5 1,-2 1,1 1,-1 1,-1 1,2 1,11 1,16 1,10 1,-9 1,-25 1,-31 1,-25 1,-8 1,10 1,22 1,27 1,23 1,19 1,15 1,9 1,-6 1,-17 1,-16 1,2 1,21 1,33 1,27 1,10 1,-9 1,-16 1,-12 1,-10 1,-15 1,-21 1,-24 1,-23 1,-19 1,-14 1,-2 1,11 1,15 1,4 1,-10 1,-11 1,5 1,23 1,28 1,18 1,6 1,0 1,-2 1,-3 1,-4 1,-4 1,-4 1,-10 1,-19 1,-18 1,0 1,19 1,24 1,19 1,10 1,6 1,2 1,-4 1,-6 1,-2 1,8 1,15 1,14 1,8 1,1" vector-effect="non-scaling-stroke"/>
<path d="M0,3895l1,-1 1,-2 1,0 1,3 1,5 1,6 1,3 1,2 1,0 1,-1 1,-4 1,-4 1,-1 1,2 1,2 1,0 1,-4 1,-6 1,-4 1,1 1,1 1,2 1,2 1,4 1,3 1,1 1,0 1,-1 1,-1 1,-1 1,-2 1,-7 1,-11 1,-10 1,-6 1,-3 1,-2 1,-7 1,-12 1,-12 1,-2 1,8 1,9 1,0 1,-9 1,-10 1,-3 1,4 1,5 1,-2 1,-14 1,-24 1,-27 1,-19 1,-10 1,-4 1,-3 1,2 1,6 1,6 1,-1 1,-6 1,-2 1,7 1,14 1,17 1,12 1,4 1,-4 1,-8 1,-4 1,2 1,4 1,3 1,4 1,9 1,15 1,15 1,16 1,21 1,28 1,32 1,29 1,24 1,14 1,1 1,-10 1,-10 1,-5 1,-2 1,-3 1,-7 1,-13 1,-17 1,-17 1,-12 1,-7 1,-1 1,-1 1,0 1,-3 1,-4 1,-7 1,-10 1,-6 1,-1 1,3 1,1 1,-3 1,-4 1,4 1,14 1,18 1,9 1,-8 1,-18 1,-14 1,-1 1,11 1,12 1,8 1,8 1,15 1,20 1,11" vector-effect="non-scaling-stroke"/>
<path d="M0,3884l1,2 1,3 1,4 1,2 1,0 1,-2 1,-2 1,2 1,5 1,5 1,0 1,-4 1,-5 1,-2 1,1 1,4 1,3 1,2 1,2 1,1 1,2 1,5 1,5 1,4 1,1 1,1 1,2 1,3 1,3 1,2 1,1 1,-2 1,-5 1,-9 1,-10 1,-11 1,-9 1,-5 1,-3 1,-5 1,-9 1,-10 1,-7 1,-3 1,1 1,2 1,-17 1,-34 1,-37 1,-29 1,-17 1,-3 1,0 1,-8 1,-25 1,-33 1,-25 1,-15 1,-9 1,-1 1,10 1,19 1,26 1,32 1,32 1,24 1,14 1,6 1,4 1,5 1,5 1,-4 1,-12 1,-14 1,-9 1,-5 1,-2 1,7 1,22 1,33 1,27 1,14 1,2 1,-1 1,2 1,6 1,7 1,8 1,12 1,18 1,17 1,5 1,-4 1,-5 1,4 1,13 1,8 1,-8 1,-19 1,-11 1,9 1,19 1,14 1,7 1,2 1,1 1,4 1,11 1,13 1,3 1,-7 1,-2 1,8 1,11 1,3 1,-8 1,-15 1,-13 1,-7 1,1 1,9 1,17 1,25 1,25 1,12" vector-effect="non-scaling-stroke"/>
<path d="M0,3895l1,2 1,2 1,-2 1,-6 1,-5 1,2 1,7 1,9 1,4 1,0 1,-5 1,-8 1,-6 1,0 1,7 1,11 1,12 1,7 1,1 1,-5 1,-10 1,-8 1,-2 1,6 1,8 1,4 1,-5 1,-14 1,-20 1,-15 1,4 1,18 1,17 1,-3 1,-35 1,-59 1,-62 1,-48 1,-34 1,-31 1,-21 1,-6 1,11 1,27 1,44 1,50 1,31 1,16 1,24 1,28 1,7 1,-24 1,-41 1,-32 1,-17 1,-7 1,4 1,8 1,4 1,1 1,3 1,9 1,12 1,15 1,20 1,21 1,16 1,4 1,-4 1,-1 1,11 1,24 1,27 1,17 1,7 1,-2 1,-10 1,-14 1,-11 1,2 1,11 1,4 1,-11 1,-14 1,-5 1,4 1,2 1,-3 1,-5 1,-2 1,4 1,10 1,16 1,21 1,20 1,10 1,-5 1,-14 1,-10 1,-4 1,5 1,11 1,10 1,-3 1,-18 1,-26 1,-22 1,-8 1,10 1,23 1,21 1,16 1,19 1,26 1,20 1,2 1,-12 1,-18 1,-24 1,-34 1,-40 1,-31 1,-10 1,8 1,7" vector-effect="non-scaling-stroke"/>
<path d="M0,3880l1,3 1,5 1,3 1,1 1,-3 1,-1 1,1 1,3 1,4 1,4 1,2 1,0 1,-3 1,-5 1,-1 1,3 1,8 1,6 1,2 1,-1 1,-4 1,-4 1,-6 1,-4 1,-1 1,2 1,4 1,7 1,7 1,6 1,1 1,-7 1,-15 1,-19 1,-22 1,-28 1,-29 1,-27 1,-27 1,-25 1,-15 1,7 1,20 1,22 1,20 1,13 1,4 1,-8 1,-18 1,-24 1,-24 1,-19 1,-10 1,2 1,5 1,4 1,4 1,10 1,14 1,13 1,7 1,3 1,9 1,20 1,28 1,28 1,20 1,11 1,7 1,3 1,3 1,1 1,-1 1,-7 1,-10 1,-12 1,-9 1,-3 1,2 1,7 1,11 1,18 1,21 1,21 1,16 1,8 1,0 1,-6 1,-5 1,-2 1,3 1,8 1,6 1,-3 1,-12 1,-14 1,-11 1,-6 1,-2 1,0 1,2 1,1 1,0 1,-4 1,-10 1,-16 1,-17 1,-8 1,10 1,22 1,18 1,2 1,-11 1,-13 1,-7 1,-5 1,-8 1,-7 1,-2 1,4 1,8 1,8 1,5 1,3 1,1" vector-effect="non-scaling-stroke"/>
<path d="M0,3879l1,0 1,2 1,3 1,4 1,9 1,12 1,11 1,6 1,1 1,-3 1,-3 1,-2 1,-2 1,-1 1,-1 1,-2 1,-5 1,-8 1,-8 1,-8 1,-6 1,-1 1,3 1,5 1,6 1,6 1,9 1,11 1,7 1,-3 1,-12 1,-15 1,-11 1,-6 1,-3 1,-3 1,-5 1,-5 1,-7 1,-4 1,6 1,24 1,40 1,39 1,23 1,2 1,-12 1,-18 1,-22 1,-27 1,-32 1,-35 1,-37 1,-37 1,-34 1,-24 1,-3 1,17 1,25 1,22 1,22 1,20 1,16 1,7 1,2 1,1 1,0 1,-2 1,-5 1,-4 1,-1 1,1 1,-1 1,2 1,14 1,23 1,21 1,4 1,-11 1,-18 1,-15 1,-5 1,12 1,20 1,23 1,26 1,34 1,33 1,21 1,1 1,-18 1,-24 1,-16 1,0 1,15 1,19 1,15 1,12 1,8 1,3 1,-2 1,2 1,13 1,22 1,19 1,8 1,-5 1,-15 1,-18 1,-16 1,-9 1,-1 1,6 1,5 1,-1 1,-4 1,-5 1,-4 1,-4 1,0 1,8 1,15 1,14 1,6 1,-1" vector-effect="non-scaling-stroke"/>
<path d="M0,3909l1,1 1,0 1,-6 1,-8 1,-7 1,-1 1,4 1,6 1,5 1,0 1,-5 1,-8 1,-4 1,2 1,7 1,5 1,3 1,-2 1,-3 1,1 1,6 1,2 1,-6 1,-10 1,-8 1,-1 1,8 1,12 1,9 1,2 1,1 1,6 1,8 1,1 1,-12 1,-23 1,-25 1,-21 1,-11 1,-1 1,4 1,5 1,9 1,17 1,20 1,8 1,-13 1,-26 1,-25 1,-12 1,-6 1,-9 1,-16 1,-13 1,-2 1,10 1,17 1,17 1,13 1,6 1,3 1,3 1,5 1,7 1,7 1,8 1,11 1,12 1,10 1,5 1,2 1,0 1,-3 1,-11 1,-19 1,-24 1,-20 1,-9 1,7 1,22 1,31 1,26 1,13 1,-7 1,-22 1,-27 1,-16 1,3 1,19 1,27 1,23 1,10 1,-4 1,-13 1,-20 1,-22 1,-16 1,3 1,20 1,25 1,16 1,6 1,3 1,8 1,2 1,-12 1,-21 1,-12 1,6 1,16 1,12 1,1 1,-7 1,-9 1,0 1,17 1,31 1,30 1,9 1,-17 1,-33 1,-30 1,-10 1,7 1,7" vector-effect="non-scaling-stroke"/>
<path d="M0,3898l1,-1 1,-3 1,-5 1,-5 1,-3 1,2 1,4 1,1 1,0 1,-2 1,-3 1,-4 1,-2 1,2 1,5 1,5 1,2 1,2 1,2 1,2 1,2 1,0 1,-2 1,-1 1,1 1,3 1,2 1,2 1,3 1,2 1,2 1,-1 1,-2 1,-2 1,0 1,1 1,0 1,-3 1,-7 1,-8 1,-5 1,-1 1,-4 1,-10 1,-13 1,-9 1,1 1,8 1,2 1,-12 1,-24 1,-28 1,-18 1,-2 1,9 1,8 1,4 1,-4 1,-12 1,-13 1,-7 1,5 1,17 1,22 1,21 1,13 1,7 1,8 1,7 1,4 1,-1 1,1 1,3 1,-2 1,-8 1,-10 1,-6 1,1 1,6 1,11 1,9 1,4 1,1 1,-1 1,-3 1,-7 1,-12 1,-19 1,-20 1,-12 1,-1 1,3 1,5 1,6 1,12 1,15 1,19 1,20 1,17 1,9 1,2 1,-3 1,-5 1,0 1,13 1,24 1,26 1,20 1,13 1,9 1,4 1,-5 1,-12 1,-12 1,-8 1,-1 1,2 1,1 1,-1 1,-3 1,-2 1,0 1,4 1,4 1,1" vector-effect="non-scaling-stroke"/>
<path d="M0,3914l1,1 1,-1 1,-3 1,-5 1,-4 1,0 1,4 1,1 1,-3 1,-6 1,-3 1,2 1,4 1,3 1,1 1,-4 1,-7 1,-7 1,-3 1,0 1,1 1,1 1,0 1,0 1,3 1,7 1,9 1,6 1,0 1,-3 1,-4 1,-4 1,-2 1,-2 1,-3 1,-4 1,-6 1,-8 1,-13 1,-15 1,-11 1,4 1,16 1,17 1,9 1,7 1,12 1,14 1,7 1,-8 1,-21 1,-21 1,-10 1,3 1,13 1,23 1,30 1,31 1,26 1,12 1,-5 1,-17 1,-11 1,4 1,13 1,7 1,-10 1,-19 1,-14 1,-4 1,9 1,16 1,15 1,4 1,-6 1,-14 1,-17 1,-16 1,-10 1,-6 1,-7 1,-15 1,-16 1,-3 1,24 1,44 1,39 1,11 1,-21 1,-32 1,-25 1,-9 1,0 1,1 1,-3 1,-6 1,-7 1,-1 1,7 1,10 1,9 1,8 1,14 1,17 1,16 1,7 1,-1 1,-6 1,-12 1,-14 1,-15 1,-12 1,-5 1,8 1,15 1,14 1,4 1,1 1,8 1,16 1,11 1,-4 1,-17 1,-19 1,-9" vector-effect="non-scaling-stroke"/>
<path d="M0,3880l1,3 1,6 1,6 1,4 1,1 1,-3 1,-6 1,-6 1,-5 1,0 1,3 1,3 1,2 1,1 1,2 1,3 1,1 1,-1 1,0 1,1 1,2 1,2 1,1 1,1 1,3 1,4 1,5 1,3 1,3 1,2 1,-5 1,-11 1,-11 1,-2 1,0 1,-11 1,-20 1,-24 1,-25 1,-19 1,-4 1,20 1,30 1,25 1,19 1,14 1,6 1,1 1,0 1,2 1,1 1,1 1,0 1,-5 1,-16 1,-27 1,-27 1,-12 1,4 1,8 1,4 1,-6 1,-12 1,-15 1,-16 1,-14 1,-4 1,10 1,16 1,7 1,-7 1,-12 1,-4 1,5 1,7 1,2 1,-4 1,-4 1,1 1,5 1,10 1,13 1,21 1,26 1,30 1,32 1,28 1,19 1,9 1,4 1,-1 1,-4 1,-6 1,-10 1,-16 1,-17 1,-11 1,2 1,9 1,11 1,6 1,5 1,4 1,-1 1,-8 1,-15 1,-19 1,-17 1,-14 1,-15 1,-15 1,-12 1,-7 1,0 1,9 1,13 1,10 1,1 1,-4 1,-1 1,4 1,8 1,8 1,7 1,5" vector-effect="non-scaling-stroke"/>
<path d="M0,3925l1,-3 1,-7 1,-8 1,-9 1,-9 1,-3 1,3 1,4 1,-1 1,-5 1,-4 1,0 1,4 1,2 1,0 1,0 1,0 1,3 1,2 1,0 1,0 1,0 1,1 1,0 1,0 1,3 1,5 1,4 1,3 1,1 1,0 1,-7 1,-15 1,-20 1,-23 1,-34 1,-42 1,-45 1,-42 1,-32 1,-5 1,31 1,50 1,53 1,43 1,29 1,10 1,-4 1,-16 1,-23 1,-27 1,-28 1,-23 1,-12 1,3 1,11 1,10 1,3 1,0 1,4 1,12 1,20 1,25 1,26 1,25 1,25 1,27 1,25 1,20 1,13 1,2 1,-11 1,-14 1,-13 1,-10 1,-6 1,-1 1,3 1,5 1,7 1,9 1,9 1,8 1,4 1,-4 1,-12 1,-14 1,-8 1,-1 1,2 1,-1 1,-2 1,-1 1,-5 1,-8 1,-7 1,-2 1,0 1,-4 1,-6 1,-3 1,0 1,-3 1,-7 1,-5 1,2 1,6 1,14 1,22 1,27 1,22 1,6 1,-9 1,-17 1,-16 1,-8 1,4 1,9 1,5 1,-4 1,-9 1,-12 1,-13 1,-12 1,-8" vector-effect="non-scaling-stroke"/>
<path d="M0,3903l1,0 1,-1 1,1 1,3 1,3 1,0 1,-3 1,-4 1,-3 1,-2 1,-3 1,0 1,5 1,8 1,7 1,2 1,-4 1,-10 1,-13 1,-8 1,-2 1,4 1,9 1,8 1,8 1,10 1,8 1,1 1,-9 1,-16 1,-11 1,-2 1,8 1,13 1,14 1,14 1,15 1,17 1,12 1,1 1,-16 1,-30 1,-39 1,-37 1,-21 1,0 1,14 1,19 1,14 1,2 1,-11 1,-17 1,-11 1,-2 1,0 1,-1 1,-3 1,-3 1,-2 1,0 1,7 1,12 1,11 1,-2 1,-15 1,-14 1,1 1,17 1,25 1,21 1,15 1,7 1,-4 1,-16 1,-22 1,-18 1,-9 1,2 1,12 1,18 1,12 1,0 1,-8 1,-6 1,6 1,10 1,5 1,-1 1,-4 1,-2 1,-2 1,-6 1,-6 1,1 1,10 1,15 1,12 1,4 1,-2 1,-2 1,4 1,9 1,5 1,0 1,-6 1,-10 1,-13 1,-10 1,-2 1,6 1,11 1,9 1,1 1,-6 1,-9 1,-9 1,-6 1,-5 1,-4 1,-4 1,1 1,6 1,7 1,3 1,1" vector-effect="non-scaling-stroke"/>
<path d="M0,3902l1,-1 1,-3 1,-4 1,-4 1,-2 1,-2 1,0 1,2 1,4 1,4 1,0 1,-1 1,0 1,5 1,7 1,6 1,-1 1,-5 1,-6 1,-6 1,-5 1,-4 1,-3 1,0 1,4 1,4 1,5 1,2 1,-1 1,-2 1,1 1,3 1,3 1,0 1,-2 1,0 1,7 1,12 1,11 1,1 1,-6 1,-8 1,-10 1,-11 1,-4 1,3 1,6 1,-3 1,-13 1,-21 1,-25 1,-28 1,-28 1,-20 1,-13 1,-6 1,1 1,6 1,9 1,4 1,-2 1,-4 1,7 1,24 1,33 1,25 1,7 1,-5 1,-5 1,0 1,1 1,-6 1,-9 1,-1 1,13 1,19 1,16 1,16 1,21 1,21 1,14 1,3 1,-3 1,-1 1,8 1,15 1,14 1,9 1,3 1,2 1,1 1,-2 1,1 1,8 1,12 1,6 1,-6 1,-15 1,-20 1,-15 1,-6 1,0 1,-2 1,-4 1,-5 1,-5 1,-6 1,-6 1,-2 1,4 1,4 1,2 1,0 1,-2 1,-8 1,-16 1,-15 1,-5 1,10 1,18 1,16 1,5 1,-7 1,-12 1,-7" vector-effect="non-scaling-stroke"/>
<path d="M0,3897l1,-5 1,-8 1,-4 1,6 1,8 1,3 1,-4 1,-3 1,0 1,3 1,0 1,-2 1,6 1,17 1,18 1,7 1,-3 1,-9 1,-9 1,-10 1,-12 1,-12 1,-6 1,1 1,5 1,2 1,-2 1,-6 1,-10 1,-14 1,-11 1,4 1,21 1,27 1,11 1,-19 1,-42 1,-50 1,-45 1,-29 1,-6 1,16 1,21 1,18 1,27 1,41 1,40 1,20 1,-2 1,-15 1,-19 1,-24 1,-26 1,-20 1,-11 1,-5 1,-2 1,0 1,6 1,21 1,36 1,29 1,-3 1,-36 1,-44 1,-26 1,-5 1,11 1,19 1,23 1,21 1,12 1,1 1,-8 1,-10 1,-8 1,1 1,13 1,25 1,27 1,18 1,3 1,-6 1,-1 1,15 1,29 1,22 1,-4 1,-32 1,-36 1,-13 1,17 1,37 1,38 1,25 1,6 1,-12 1,-21 1,-9 1,11 1,11 1,-14 1,-39 1,-39 1,-15 1,12 1,27 1,25 1,12 1,-4 1,-16 1,-13 1,-4 1,1 1,4 1,13 1,24 1,24 1,16 1,7 1,-7 1,-24 1,-41 1,-40 1,-21" vector-effect="non-scaling-stroke"/>
<path d="M0,3900l1,0 1,-1 1,-2 1,0 1,5 1,5 1,3 1,0 1,-2 1,-3 1,-5 1,-7 1,-5 1,2 1,5 1,6 1,2 1,-1 1,-6 1,-9 1,-11 1,-9 1,-2 1,5 1,10 1,13 1,13 1,11 1,5 1,-3 1,-6 1,-8 1,-6 1,-4 1,-3 1,-8 1,-20 1,-29 1,-18 1,5 1,22 1,23 1,12 1,-1 1,-8 1,-11 1,-13 1,-15 1,-20 1,-24 1,-25 1,-18 1,-1 1,21 1,37 1,43 1,41 1,31 1,14 1,-3 1,-20 1,-32 1,-38 1,-30 1,-12 1,7 1,18 1,20 1,14 1,4 1,-6 1,-11 1,-5 1,10 1,28 1,39 1,30 1,8 1,-10 1,-15 1,-13 1,-11 1,-16 1,-14 1,-1 1,13 1,22 1,21 1,19 1,16 1,8 1,1 1,2 1,5 1,4 1,-3 1,-8 1,-2 1,2 1,-2 1,-12 1,-12 1,-10 1,-7 1,-9 1,-4 1,3 1,10 1,11 1,11 1,4 1,-5 1,-9 1,-3 1,4 1,9 1,9 1,6 1,3 1,0 1,-1 1,2 1,4 1,5 1,1" vector-effect="non-scaling-stroke"/>
<path d="M0,3904l1,-2 1,-2 1,0 1,1 1,4 1,5 1,4 1,-1 1,-6 1,-7 1,-4 1,-3 1,-6 1,-7 1,-6 1,-1 1,4 1,7 1,10 1,9 1,6 1,5 1,5 1,0 1,-5 1,-8 1,-7 1,-4 1,-4 1,-3 1,0 1,-3 1,-8 1,-7 1,-4 1,-7 1,-18 1,-28 1,-25 1,-17 1,-5 1,3 1,11 1,21 1,31 1,36 1,30 1,14 1,3 1,-1 1,-2 1,-10 1,-15 1,-8 1,2 1,-2 1,-19 1,-31 1,-29 1,-14 1,4 1,11 1,4 1,-10 1,-19 1,-16 1,-4 1,5 1,2 1,-9 1,-11 1,3 1,15 1,10 1,-6 1,-13 1,-6 1,8 1,17 1,20 1,22 1,26 1,29 1,28 1,18 1,-1 1,-17 1,-17 1,-4 1,12 1,21 1,13 1,-7 1,-27 1,-31 1,-18 1,-6 1,-2 1,-7 1,-12 1,-3 1,21 1,40 1,39 1,25 1,12 1,4 1,2 1,6 1,10 1,9 1,-6 1,-22 1,-30 1,-20 1,-4 1,9 1,15 1,13 1,7 1,4 1,7 1,16 1,17 1,6" vector-effect="non-scaling-stroke"/>
<path d="M0,3911l1,1 1,0 1,-1 1,-4 1,-3 1,0 1,0 1,0 1,0 1,2 1,7 1,8 1,1 1,-8 1,-9 1,-5 1,-1 1,-1 1,-4 1,-4 1,-2 1,0 1,3 1,3 1,5 1,5 1,6 1,4 1,0 1,-4 1,-6 1,-8 1,-5 1,-7 1,-12 1,-22 1,-29 1,-24 1,-11 1,2 1,8 1,9 1,7 1,8 1,9 1,1 1,-13 1,-16 1,-3 1,3 1,-8 1,-29 1,-38 1,-28 1,-6 1,15 1,22 1,21 1,13 1,8 1,1 1,1 1,3 1,3 1,-1 1,-10 1,-15 1,-16 1,-15 1,-12 1,-3 1,11 1,22 1,27 1,27 1,21 1,9 1,-2 1,-2 1,4 1,10 1,12 1,10 1,14 1,23 1,30 1,30 1,21 1,9 1,0 1,-3 1,-1 1,7 1,13 1,10 1,5 1,4 1,10 1,10 1,-1 1,-13 1,-20 1,-17 1,-9 1,4 1,16 1,24 1,18 1,3 1,-18 1,-29 1,-25 1,-9 1,6 1,8 1,2 1,-7 1,-10 1,-9 1,-4 1,3 1,8 1,9 1,5 1,0" vector-effect="non-scaling-stroke"/>
<path d="M0,3895l1,0 1,0 1,-1 1,-1 1,1 1,0 1,0 1,-3 1,-4 1,-2 1,1 1,2 1,3 1,2 1,0 1,0 1,1 1,4 1,4 1,5 1,3 1,0 1,-3 1,-3 1,-5 1,-4 1,-4 1,-1 1,1 1,-2 1,-4 1,-6 1,-3 1,0 1,2 1,-3 1,-10 1,-15 1,-15 1,-12 1,-7 1,-3 1,-1 1,-2 1,1 1,3 1,0 1,-3 1,2 1,0 1,-8 1,-16 1,-15 1,-10 1,-8 1,-8 1,-8 1,-3 1,5 1,10 1,13 1,13 1,14 1,15 1,13 1,12 1,15 1,18 1,20 1,19 1,11 1,2 1,-2 1,0 1,2 1,-2 1,-11 1,-16 1,-16 1,-13 1,-10 1,-6 1,0 1,8 1,15 1,18 1,15 1,1 1,-9 1,-8 1,2 1,12 1,11 1,3 1,-8 1,-11 1,-9 1,-4 1,5 1,14 1,17 1,15 1,8 1,4 1,2 1,1 1,-5 1,-10 1,-11 1,-5 1,8 1,19 1,26 1,25 1,15 1,2 1,-4 1,-3 1,5 1,6 1,-2 1,-10 1,-14 1,-12 1,-6" vector-effect="non-scaling-stroke"/>
<path d="M0,3900l1,-1 1,-2 1,1 1,0 1,1 1,0 1,2 1,2 1,2 1,4 1,5 1,2 1,-4 1,-8 1,-5 1,3 1,8 1,9 1,3 1,-5 1,-9 1,-6 1,4 1,9 1,6 1,-2 1,-8 1,-11 1,-7 1,-3 1,-4 1,-3 1,0 1,3 1,-4 1,-19 1,-28 1,-24 1,-13 1,-8 1,-8 1,-9 1,-7 1,6 1,27 1,36 1,18 1,-11 1,-34 1,-41 1,-33 1,-16 1,5 1,23 1,23 1,10 1,-4 1,-10 1,-10 1,-5 1,-1 1,4 1,9 1,15 1,18 1,18 1,16 1,9 1,4 1,3 1,11 1,16 1,13 1,0 1,-9 1,-12 1,-7 1,4 1,12 1,10 1,-1 1,-10 1,-7 1,7 1,26 1,36 1,29 1,5 1,-18 1,-27 1,-21 1,-6 1,6 1,13 1,15 1,12 1,4 1,-1 1,0 1,5 1,7 1,7 1,4 1,-6 1,-12 1,-16 1,-17 1,-14 1,-7 1,-5 1,-11 1,-17 1,-14 1,-7 1,2 1,4 1,6 1,6 1,4 1,-5 1,-16 1,-23 1,-22 1,-16 1,-6" vector-effect="non-scaling-stroke"/>
<path d="M0,3914l1,3 1,3 1,-4 1,-11 1,-13 1,-9 1,1 1,6 1,8 1,9 1,10 1,7 1,-2 1,-6 1,-2 1,3 1,5 1,0 1,-4 1,-7 1,-6 1,-5 1,-8 1,-10 1,-3 1,6 1,14 1,12 1,4 1,1 1,2 1,1 1,-5 1,-7 1,-7 1,-8 1,-6 1,-3 1,-2 1,-6 1,-10 1,0 1,13 1,14 1,1 1,-16 1,-27 1,-25 1,-22 1,-23 1,-32 1,-31 1,-16 1,16 1,44 1,51 1,36 1,14 1,-1 1,0 1,10 1,18 1,7 1,-13 1,-27 1,-27 1,-19 1,-11 1,3 1,16 1,18 1,3 1,-13 1,-17 1,-8 1,-1 1,0 1,-2 1,4 1,10 1,11 1,10 1,9 1,6 1,-2 1,-4 1,-2 1,-1 1,2 1,2 1,1 1,-2 1,-1 1,1 1,6 1,13 1,16 1,15 1,14 1,16 1,9 1,-3 1,-19 1,-26 1,-17 1,4 1,26 1,34 1,27 1,12 1,-3 1,-15 1,-19 1,-20 1,-14 1,2 1,18 1,16 1,-1 1,-14 1,-11 1,-1 1,4 1,2 1,0" vector-effect="non-scaling-stroke"/>
</g>
<line x1="1273.7" y1="974.8" x2="1712.3" y2="974.8" stroke="#000" stroke-width="1.8"/>
<line x1="1273.7" y1="974.8" x2="1273.7" y2="978.3" stroke="#000" stroke-width="1.8"/>
<line x1="1493" y1="974.8" x2="1493" y2="978.3" stroke="#000" stroke-width="1.8"/>
<line x1="1712.3" y1="974.8" x2="1712.3" y2="978.3" stroke="#000" stroke-width="1.8"/>
<polyline points="1273.7,974.8 1277.2,974.8 1280.7,974.8 1284.2,974.8 1287.7,974.8 1291.2,974.8 1294.7,974.8 1298.2,974.8 1301.8,974.8 1305.3,974.8 1308.8,974.8 1312.3,974.8 1315.8,974.8 1319.3,974.8 1322.8,974.8 1326.3,974.8 1329.8,974.8 1333.3,974.8 1336.8,974.8 1340.3,974.8 1343.9,974.8 1347.4,974.8 1350.9,974.8 1354.4,974.8 1357.9,974.8 1361.4,974.8 1364.9,974.7 1368.4,974.6 1371.9,974.5 1375.4,974.4 1378.9,974.2 1382.5,974.1 1386,974 1389.5,973.9 1393,973.6 1396.5,972.5 1400,969.9 1403.5,966.4 1407,962.8 1410.5,959.2 1414,955.9 1417.5,954 1421,954.7 1424.6,956.8 1428.1,959.2 1431.6,961.5 1435.1,963.1 1438.6,962.5 1442.1,959.6 1445.6,956.1 1449.1,952.4 1452.6,948.8 1456.1,945.2 1459.6,942.6 1463.2,941.8 1466.7,942.5 1470.2,943.6 1473.7,944.7 1477.2,945.8 1480.7,946.9 1484.2,948.1 1487.7,949.2 1491.2,950.3 1494.7,951.5 1498.2,952.8 1501.8,954.2 1505.3,955.5 1508.8,956.8 1512.3,958.1 1515.8,959.1 1519.3,959.8 1522.8,960.2 1526.3,960.6 1529.8,961.1 1533.3,961.5 1536.8,961.9 1540.3,962.3 1543.9,962.8 1547.4,963.4 1550.9,964.6 1554.4,966.3 1557.9,968.2 1561.4,970.1 1564.9,972 1568.4,973.9 1571.9,975.8 1575.4,977.7 1578.9,979.2 1582.5,979.9 1586,979.9 1589.5,979.7 1593,979.4 1596.5,979.2 1600,978.9 1603.5,978.7 1607,978.8 1610.5,979 1614,979.4 1617.5,979.8 1621.1,980.2 1624.6,980.6 1628.1,981 1631.6,981.4 1635.1,981.8 1638.6,982.2 1642.1,982.5 1645.6,982.9 1649.1,983.3 1652.6,983.7 1656.1,984.1 1659.6,984.5 1663.2,984.7 1666.7,984.7 1670.2,984.7 1673.7,984.7 1677.2,984.7 1680.7,984.7 1684.2,984.7 1687.7,984.7 1691.2,984.7 1694.7,984.5 1698.2,984.1 1701.8,983.6 1705.3,983 1708.8,982.4 1712.3,982" fill="none" stroke="#000" stroke-width="6" stroke-linejoin="round" stroke-linecap="round"/>
</svg>
</body></html>
